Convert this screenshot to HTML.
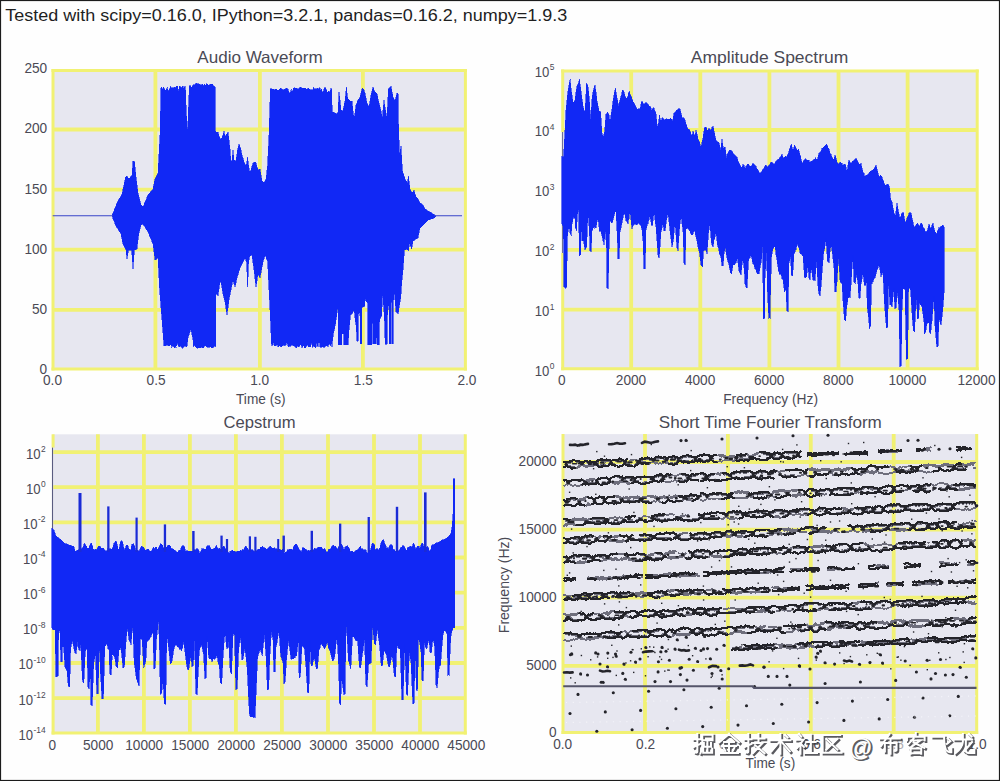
<!DOCTYPE html>
<html><head><meta charset="utf-8"><title>Audio analysis</title>
<style>
html,body{margin:0;padding:0;background:#fff;}
body{width:1000px;height:781px;overflow:hidden;font-family:"Liberation Sans",sans-serif;}
svg{display:block;font-family:"Liberation Sans",sans-serif;}
</style></head><body>
<svg width="1000" height="781" viewBox="0 0 1000 781">
<rect x="0" y="0" width="1000" height="781" fill="#fefefe"/>
<!-- Audio Waveform -->
<g><rect x="53" y="70.6" width="412.4" height="298.3" fill="#E7E7F0"/><g stroke="#F1F173"><line x1="155.4" y1="70.6" x2="155.4" y2="368.9" stroke-width="3.8"/><line x1="259.9" y1="70.6" x2="259.9" y2="368.9" stroke-width="3.8"/><line x1="362.9" y1="70.6" x2="362.9" y2="368.9" stroke-width="3.8"/><line x1="53" y1="129.5" x2="465.4" y2="129.5" stroke-width="3.8"/><line x1="53" y1="189.6" x2="465.4" y2="189.6" stroke-width="3.8"/><line x1="53" y1="249.7" x2="465.4" y2="249.7" stroke-width="3.8"/><line x1="53" y1="309.9" x2="465.4" y2="309.9" stroke-width="3.8"/><line x1="53" y1="69.1" x2="53" y2="370.4" stroke-width="3.0"/><line x1="465.4" y1="69.1" x2="465.4" y2="370.4" stroke-width="3.0"/><line x1="51.5" y1="368.9" x2="466.9" y2="368.9" stroke-width="3.0"/><line x1="51.5" y1="70.6" x2="466.9" y2="70.6" stroke-width="3.0"/></g><polygon points="112,215.6 117,203 122,194 125.6,177 127,176 129,179 132,175 133,161 134.4,161 136,177 138,193 141,205 143,207 148,195 153,189 155,179 158,173 160,135 161,88 161.8,87 162.9,90.6 163.6,86.6 164.6,89.5 165.8,90.4 167.1,87.4 168.3,90.9 169.1,91 169.9,87.8 170.9,86.3 171.6,87.9 172.5,87.6 173.5,88 174.6,87.4 175.7,87.7 176.5,86.1 177.5,86.1 178.5,91.2 179.5,86.4 180.6,87.1 181.6,88 182.6,85.6 183.7,88 184.9,86.3 185.2,86.6 185.4,87 186,105 187.1,129 187.7,129 188.6,105 189.4,86 190,85 190.8,86.8 191.6,87.4 192.4,85.7 193.2,84.8 194.4,85.5 195.3,84 196.5,83.4 197.3,83.5 198.3,83.5 199,83.7 199,84 199.8,84.6 200.8,84.6 201.5,85 202.8,84.1 203.7,86.5 204.4,83.7 205.4,85.3 206.1,83.5 207.3,83.9 208.2,84.6 209,86.3 209.9,84 210.7,84.6 211.9,84.1 213.2,84.5 214.2,90.1 214.6,85.6 215,87 215.4,131 216,132 218,132 220,139 222,138 224,131 225,137 228,132 229,140 230,149 231,163 232,160 233,150 234,160 236,161 237.5,150 239,144 240.5,148 242,155 245,165 246.5,164 247.6,157 248.6,166 250,173 251.5,168 253,163 255.6,162 258,170 260,169 262,181 264,183 266,179 267.6,165 269,135 270.4,89 271.2,88.4 272.1,89.7 273.1,88.5 274,90.2 275.2,89.7 276.3,88.9 277.2,90 278.1,90.1 279.1,90.1 280.3,88.1 281.2,88.1 282.2,89.7 283.2,89.6 284,89.8 285.2,88.7 286,88.3 287.1,88.5 288.1,89.3 288.9,92 290.1,94 291.2,88.8 291.9,93.3 293,88.5 294.2,87.9 295,87.9 296.1,88.4 296.9,88.2 297.8,89.6 298.8,88.5 299.8,87.3 300.8,87.2 302,88.4 303.1,88 304.1,89.2 304.9,87.8 305.7,88.4 306.8,89.5 307.7,88.4 308.7,88.2 309.8,89.5 310.9,89.5 311.7,89.5 312.9,90.1 313.7,87.2 314.8,89.3 315.6,88.7 316.4,89.5 317.2,88 318.2,89.1 319,88.2 319.9,87.7 321,91.1 321.7,88.5 322.7,93.3 324,89.1 325.2,87.1 326.1,88.9 327,92.4 328.1,90.5 329.1,92.6 330.3,90.6 331,88 331.6,89 332.2,112 335,113 337,114 338,112 339,92 340,100 341,110 343,111 345,101 346.4,87 347.2,95 348,99 350,101 352,101 354,120 356,105 358,100 360,97 362.4,88 364,90 365,93 367,103 369,107 371,95 373,87 375,92 377,94 379,103 381,111 382.4,118 383.2,108 384,100 384.8,106 385.6,111 387,118 388.4,89 391,86 393,97 395,101 397,93 398,94 398.6,129 399.6,155 401,146 402.4,171 405,179 407.6,183 408.4,176 410,189 412,193 414,190 416,197 418,199 420,203 423,205 425,209 430,212 435,215.2 436,216.2 434,218 428,220 424,224 420,228 418,238 413,241 411.6,249 409.6,243 408.4,251 407,249 404.4,250 403,270 401.8,281.5 400.6,298.8 399.5,304.6 398.3,313.8 396,311.5 395,300 394.3,291.9 393.5,300 393.4,343.7 391.7,343.7 391.6,302.3 391,302.3 390.9,343.7 389.5,343.7 389.4,305 389.1,298.2 388.6,305 387.5,314.9 387.4,344.3 385.1,344.3 384.9,330 384.5,320.7 383.9,310.3 383.2,300 382.6,294.8 381.6,316.1 379.9,319.5 379.1,325 379,344.9 377.3,344.9 377.2,338 376.5,338 376.4,343.7 373,343.7 372.9,323 371.9,323 371.8,344.9 367.8,344.9 367.7,303.4 365.9,301 365.3,298.2 364.5,306 361.8,308 361.7,343.7 360.3,343.7 360.2,316.1 359.2,311.5 358.1,316.1 358,341.4 356.9,341.4 356.3,327.6 355.1,318.4 354,309.2 352.3,313.8 350.5,314.9 348.8,332.2 348.2,344.9 344,344.9 343.9,333.9 342,333.9 341.9,344.9 338.4,344.9 338.2,309.2 337.3,309.2 336.7,316.1 335.6,323 334.4,329.9 333.2,334.5 332.1,344.9 332,346.5 331.3,343.1 330.2,345.9 329.2,342.4 328,347 327.3,346.2 326,345.3 325,346.7 323.9,347.4 322.8,346.9 322,346.3 320.8,347.8 320,347 319,339 318,347 317.5,345.7 316.5,343.3 315.8,347.9 314.5,346.8 313.6,346.3 312.4,347.2 311.7,341.9 310.8,346.5 309.8,346.6 308.6,347 307.7,344.6 306.9,345.8 305.6,347.8 304.6,347.8 303.8,345.8 302.8,346.2 301.9,347.9 301.1,344 299.8,345.4 298.7,347.2 297.6,345.4 296.5,347.7 295.5,347.3 294.2,346.2 293.2,345.9 291.9,345 291.2,345.8 290.3,346.6 289.3,346.1 288.1,346.9 287.3,343 286.1,343.5 285.2,346.2 284.5,345 283.3,345.6 282.1,346.2 281.3,347.4 280.5,346.4 279.2,345.4 278.3,347.4 277.3,344.9 276,345.3 275.2,346 274.2,345.5 273.1,341.9 272.4,346.2 271.6,346 270,310 269,290 267.6,261 265,255 263,262 260,278 258,274 256,287 254,270 252,255 249.6,256 248.6,262 247.6,287 246.6,262 245,258 243,262 240,268 237,278 235,287 233,280 231,290 229,300 227,315 225,302 223,294 221,282 220,282 218,296 216,294 215.6,347 215.2,343.8 214.1,347.3 213,346.9 212,348.2 211.2,347.6 210.4,346.4 209.7,347.4 208.7,347.6 208,347 206.9,347.3 205.7,346 204.9,345.8 203.8,347.5 202.8,347.8 201.6,347 200.8,347.8 199.7,348 199,347.4 198.2,348.3 197.3,348 196.2,347.7 195.1,346.3 194.4,345.1 193.6,347 193,340 191,329 188,338 187,346 186.4,347 185.7,345.7 184.9,346.9 184,345.6 183.1,348.1 182.1,348 181.2,346.6 180.2,346.2 179.4,347.1 178.2,345.6 177.3,341.8 176.6,346.2 175.5,347.1 174.6,347.7 173.6,346.1 172.6,346.2 171.8,347.5 171,343.8 170.2,345 169.4,346.2 168.2,345.7 167.4,345 166.6,345.4 165.8,345.5 164.8,345.6 164,346 162,320 159.6,290 158,258 155,260 153,244 148,232 143,224 141,225 138.4,236 137,249 134.4,250 133,269 131.6,250 128.4,250 127,259 126,250 123,244 121,234 116,226 112,216" fill="#1128F5" stroke="#1128F5" stroke-width="0.6" stroke-miterlimit="2" shape-rendering="crispEdges"/><path d="M52.7 215.8H113M434 215.8H462" stroke="#3a46c8" stroke-width="1.1" fill="none"/></g>
<!-- Amplitude Spectrum -->
<g><rect x="562.7" y="71" width="414.5" height="297.7" fill="#E7E7F0"/><g stroke="#F1F173"><line x1="631.2" y1="71" x2="631.2" y2="368.7" stroke-width="3.8"/><line x1="700.3" y1="71" x2="700.3" y2="368.7" stroke-width="3.8"/><line x1="769.4" y1="71" x2="769.4" y2="368.7" stroke-width="3.8"/><line x1="838.5" y1="71" x2="838.5" y2="368.7" stroke-width="3.8"/><line x1="907.6" y1="71" x2="907.6" y2="368.7" stroke-width="3.8"/><line x1="562.7" y1="130" x2="977.2" y2="130" stroke-width="3.8"/><line x1="562.7" y1="189.9" x2="977.2" y2="189.9" stroke-width="3.8"/><line x1="562.7" y1="249.8" x2="977.2" y2="249.8" stroke-width="3.8"/><line x1="562.7" y1="309.7" x2="977.2" y2="309.7" stroke-width="3.8"/><line x1="562.7" y1="69.5" x2="562.7" y2="370.2" stroke-width="3.0"/><line x1="977.2" y1="69.5" x2="977.2" y2="370.2" stroke-width="3.0"/><line x1="561.2" y1="368.7" x2="978.7" y2="368.7" stroke-width="3.0"/><line x1="561.2" y1="71" x2="978.7" y2="71" stroke-width="3.0"/></g><rect x="560.6" y="132" width="1.5" height="121" fill="#fefefe"/><rect x="562.1" y="132" width="2.6" height="121" fill="#E7E7F0"/><path d="M562.5 132V253" stroke="#6f7196" stroke-width="1.2" fill="none"/><polygon points="561.9,156.3 563.6,156.9 564.8,133.4 566,110.4 567,99.9 568,91.1 569,85 570,78.5 571.4,90.9 573,103 574,101.9 575,99.8 576,92.4 577,86.4 578.2,84 579.4,79.3 581,90.9 582,98.6 583,105.8 584,109.9 585,112.3 586.6,82.7 588,86.6 589.4,100 590.6,120.3 592,99.1 593,92 594,87.8 595,85 596,92.1 597,100.6 598.6,108.5 599.6,111.6 600.6,112 602,133.2 603,137.3 604.6,131.8 606,114.4 607.4,112.1 609,115.2 610,122.7 611,114.8 612,109.1 613,101.1 614,94.9 615.4,87.9 617,97.7 618.6,106 619.6,101.9 620.6,97.6 621.6,94.2 622.6,90 624,91.6 625.4,97.2 626.4,98.5 627.4,97.6 629,90.5 630,94.2 631,95.7 632,98.7 633,101.6 634,103.2 635,104.8 636,107 637,108.6 638,110.1 639,108.1 640,110.1 641,104.3 642,100.7 643,103.3 644,104.8 645,103.3 646,101.9 647,103.4 648,103.7 649,106.5 650,106.3 651,108.2 652,111 653,107.9 654,107.8 655,111.2 656,113.6 657,123.9 658,127.9 659.4,115 661,122 662,118.4 663,117.6 664,119.5 665,119.6 666,118.5 667,119.1 668,119.3 669,119.4 670.6,117.5 671.6,119.1 672.6,121.5 674,112.8 675,112.6 676,111 677,109.8 678,110.1 679,108.4 680,109.4 681,112.9 682,117.1 683,118.1 684,117.7 685,120.4 686,123.8 687,126.5 688,130 689,128.7 690,130.7 691,133.6 692,136.8 693,130.7 694,133.8 695,136.6 696,129.6 697,133.7 698,138.7 699,140.5 700,144.3 701,147.6 702,142.4 703,138 704.6,126.9 706,127.1 707.4,130.6 709,128.2 710,128.9 711,130.2 712,127.4 713,126 714,130.5 715,136 716,139.5 717,141.9 718,141.9 719,142.8 720.6,150.3 722,139.4 723.4,148.6 725,146.8 726.6,158.4 727.6,153.6 728.6,151.8 729.8,150 731,150.2 732,151.2 733,153.6 734,153.8 735,155.4 736,156.4 737,157.2 738,161.4 739,163.2 740,165.1 741,167.8 742,167.2 743,164 744,165.4 745,168.7 746,166.4 747,165.2 748,163.7 749,165.3 750,166.8 751,166.2 752,165.7 753,162.9 754,164.5 755,165.1 756,166.3 757,169.1 758,169.9 759,172.4 760,172.7 761,172.9 762,170.9 763,169.4 764,168.2 765,166.1 766,164.7 767,166.6 768,167.3 769,165 770,164 771,162.1 772,162.6 773,163.1 774,164.2 775,163.4 776,161.3 777,159.8 778,159.6 779,159.4 780,157.2 781,156 782,154.3 783,157.2 784,158.1 785,156.6 786,156.4 787,156.7 788,154.1 789,151.3 790.2,147 791.4,144.2 793,150.5 794.6,144.8 795.6,147 796.6,149.5 797.6,150.6 798.6,148.5 799.6,153.2 800.6,156.7 802,163.8 803,162.4 804,160.2 805,159 806,158.9 807,160.5 808,160 809,160.1 810,163 811,161.2 812,161.4 813,159.8 814.2,159.9 815.4,157.9 816.4,158.7 817.4,159.8 819,153.1 820,152 821,151.3 822,148 823,148.3 824,146.7 825,146 826.6,144.2 827.8,146.5 829,149.1 830,153 831,154.1 832,157 833,159.7 834,158.6 835,155.3 836,157.6 837,162.1 838,163.6 839,164 840,161.9 841,163 842,163.2 843,166 844,164.3 845,163.8 846,166.7 847,172.7 848,165.3 849,159.8 850,162.3 851,163.8 852,161.7 853,161.3 854,160.4 855,159.4 856,157.7 857,159.6 858,162.4 859,163.9 860,164.6 861,162.9 862,168.1 863,172.6 864,173.4 865,177.8 866,175.1 867,175.2 868,174.1 869,173.3 870,171.5 871,170.8 872,170.5 873,169.5 874,169.4 875,166.9 876,164.9 877.4,170.9 878.4,174.8 879.4,177 880.4,175.4 881.4,175.6 882.4,178.7 883.4,180.9 885,185.2 886,185.6 887,184.4 888,184.1 889.4,186.8 890.6,199 892,201.9 893,208 894,212.9 895.4,216.3 897,203 898.6,212.6 900,218.7 901,216 902,212.9 903.4,212 905,221.7 906,221.6 907,218.1 908,216.4 909,213.2 910,212.6 911,212.8 912.6,220.3 913.6,225.2 914.6,227 915.6,226.1 916.6,224 917.8,223.2 919,225.7 920,225.7 921,223.3 922,223.6 923,227.1 924,228.2 925.3,231.5 926.6,231.5 927.8,229.3 929,224.1 930,226.5 931,229 932,225.3 933,223.4 934,228 935,231.6 936.6,233.9 937.8,230.7 939,227.2 940,228 941,226.4 942,225.9 943,224.7 944,226.7 944,293.4 943,307 942,316.7 941,325.1 940,322.2 939,317.7 938,346.1 936.8,347.4 935,325.9 934,295.9 933,309.1 932,319.5 930.6,333.5 929.4,332 929,322.6 928,323.4 927,322.5 925.6,332 924.4,334.4 924,321.6 923,313.7 922,307.4 920.7,304.9 919.4,302.8 918.6,318.2 917.4,319.4 916.6,298.7 915.4,311.9 914.6,331.7 913.4,330.7 912,313.4 910.6,290.4 909.6,287.9 908.6,285.5 907.6,358.6 906.4,359.1 905,289.6 904,288.9 903,288.2 902,309.7 901.2,366.1 900,366.7 899,309.8 897.4,291.2 896,307.8 894.8,309.3 894,287.8 893,296.7 892,307.3 891,304.9 890,304.9 888.6,282.4 887.6,327 886.4,327.6 884.6,305.9 883,272.7 882,273.5 881,276.6 880,270.1 879,263.7 878,268.4 877,270 876,273.8 875,277.7 874,278.9 873,280.5 871.4,284.6 870.6,325.7 869.4,328.5 868.4,315.7 867.4,307.7 866,269.5 865.6,285 864.4,285.4 863,271.9 862,279.1 861,284.4 860,298.2 858.8,297.9 858,283.9 856.6,274.1 855.2,283.7 854,282.4 853,255 852,269.2 851,285.2 850,297.9 849,296.8 848,298.3 846.6,307.9 845.6,320.8 844.4,319.9 843.4,305.8 842,283.5 841,283.1 840,279.9 838.6,257.4 837,280.5 836,291.5 834.8,291.8 834,267.8 832.6,255.1 831,243.9 830,252.1 829,263.2 827.4,260.6 826,238 825,246.3 823.4,254.2 822.4,268.1 821.4,281.5 820,296.2 818.8,293.7 818,286.2 816.6,260.7 815,280.7 814,280 813,280.4 812,273.4 811,265.6 810,279.9 808.8,277.7 808,263.4 806.6,276.8 805.6,277.5 804.6,277.6 803,256.1 801.4,254.3 800.2,253.4 799,248.2 797.4,244.1 796,248.5 795,252 794,254 792.6,275.9 791.4,275 790.6,257 789,263.4 788,311.5 786.8,310.8 786,288 784.6,292.4 783,279.9 782,279 781,273.7 779.8,274.7 778.6,271.1 777.6,264.6 776.6,257.7 775,246.5 774,248.4 773,247.8 771.4,257.7 770,317.5 768.8,319.4 767.4,290.1 766.6,251 765,276.5 764.6,318.4 763.4,318.6 762.6,245.7 761.4,260.3 760.2,267.2 759,273.5 758,274.3 757,273.4 756,270.1 755,268.8 754,265.2 753,263.7 752,259.3 751,255.4 749.8,258 748.6,259.4 747,288 746,287.1 745,283.5 744.6,274.8 743,257.1 742,264.7 741,275.4 740,273.3 739,271.2 737.4,257.6 736.2,262.3 735,264 734,265 733,264.6 731.6,274.3 730.4,272.6 729,264.8 728,261.6 727,258.4 725.4,247.6 724,252.5 723.2,265.5 722,265.9 721,257.5 719.4,253.4 718.4,247.7 717.4,244.5 716,230.9 715,237.3 714,240.1 713,247.4 711.4,243.1 710,223.4 708.6,232.2 707,253.7 706,250.8 705,250.1 703.4,250.6 702.6,267.1 701.4,265.9 700.4,260.5 699.4,252.5 698,246.6 697,241.4 696,237.3 695,232.2 694,229.5 693,234.2 692,235.4 691,233.8 690,231.4 689,230.3 688,228.2 687,228.7 686,228.4 685.2,265.2 684,263.1 683,231.5 682,223.5 681,215.2 679.4,230.1 678,250.9 677,247.8 676,235.2 675,221.3 673.4,240.7 672,247.1 671,238.6 670,230.8 669,221.5 668,212.5 666.6,219.1 665.2,230.7 664,231.1 663,221.8 662,227.8 661,231.9 660,246.8 659.2,258.1 658,255.4 657.4,246.7 656,226.9 655,220.2 654,210.6 652.6,225.4 651.4,225.4 650,215 649,220 648,222.5 647,226 646,230.3 645.2,269 644,268.9 643,241.4 642,230.2 641,225.4 640,224.9 639,222.9 638,223.8 637,224.7 636,224.8 635,222.9 634,225.3 633,225.2 632,228.7 631,220.4 630,209.8 629,217.5 628,223.5 627,222.2 626,220.5 625,215.4 624,213.2 623,217.7 622,222.9 621,228.2 620,232.4 619.2,258.7 618,258.9 617.4,239.2 616,211.4 615,211.8 614,215.9 613,220.4 612,223.1 611,222.3 610,220.3 609,249.1 608.2,288.5 607,287.7 606.6,249.5 605.4,230.4 604,244.5 603,240.5 601.4,233.1 600.4,230.8 599.4,231.3 598,217 597,222.3 596,228.4 595,227.4 594,227.5 593,228.9 592,231.4 591.2,251.5 590,251.3 589.4,231.5 588,210.4 586.6,247.2 585,250 583.4,240.6 582,240.8 581,223 580.6,254.8 579.4,255.8 578.6,209.6 577.4,214.2 576.6,230.6 575.4,228.2 575,219 573.4,216.7 572,224.4 571.2,235.6 570,232.7 569,226.2 567.4,236.3 566.6,287.2 565.3,288.2 564,286.6 563.7,250.4 563.3,226.1 561.9,223.8" fill="#1128F5" stroke="#1128F5" stroke-width="0.6" stroke-miterlimit="2" shape-rendering="crispEdges"/></g>
<!-- Cepstrum -->
<g><rect x="53.1" y="434.3" width="412.2" height="298.8" fill="#E7E7F0"/><g stroke="#F1F173"><line x1="97.9" y1="434.3" x2="97.9" y2="733.1" stroke-width="3.8"/><line x1="143.9" y1="434.3" x2="143.9" y2="733.1" stroke-width="3.8"/><line x1="189.9" y1="434.3" x2="189.9" y2="733.1" stroke-width="3.8"/><line x1="235.9" y1="434.3" x2="235.9" y2="733.1" stroke-width="3.8"/><line x1="281.9" y1="434.3" x2="281.9" y2="733.1" stroke-width="3.8"/><line x1="328" y1="434.3" x2="328" y2="733.1" stroke-width="3.8"/><line x1="374" y1="434.3" x2="374" y2="733.1" stroke-width="3.8"/><line x1="420" y1="434.3" x2="420" y2="733.1" stroke-width="3.8"/><line x1="53.1" y1="452.1" x2="465.3" y2="452.1" stroke-width="3.8"/><line x1="53.1" y1="487.2" x2="465.3" y2="487.2" stroke-width="3.8"/><line x1="53.1" y1="522.4" x2="465.3" y2="522.4" stroke-width="3.8"/><line x1="53.1" y1="557.5" x2="465.3" y2="557.5" stroke-width="3.8"/><line x1="53.1" y1="592.7" x2="465.3" y2="592.7" stroke-width="3.8"/><line x1="53.1" y1="627.8" x2="465.3" y2="627.8" stroke-width="3.8"/><line x1="53.1" y1="663" x2="465.3" y2="663" stroke-width="3.8"/><line x1="53.1" y1="698.1" x2="465.3" y2="698.1" stroke-width="3.8"/><line x1="53.1" y1="434.3" x2="53.1" y2="734.6" stroke-width="3.0"/><line x1="465.3" y1="434.3" x2="465.3" y2="734.6" stroke-width="3.0"/><line x1="51.6" y1="733.1" x2="466.8" y2="733.1" stroke-width="3.0"/></g><rect x="51" y="447.6" width="1.2" height="181" fill="#fefefe"/><rect x="52.2" y="447.6" width="2.8" height="181" fill="#E7E7F0"/><path d="M53.3 452.1H56M53.3 487.2H56M53.3 522.4H56" stroke="#F1F173" stroke-width="3.8"/><path d="M52.5 447.6V530" stroke="#5a5c80" stroke-width="1.1" fill="none"/><polygon points="51.9,528 54,530 56,536 60,539 64,543 69,545 74,546.5 75,551.5 76,550.6 77.1,550.4 78.2,550.2 79.3,549 80.5,549.3 81.2,549 82.1,548.2 83,547.5 84,544.3 84.9,543.4 85.9,545.5 86.9,546.5 88,548.8 88.8,548.3 89.9,545.5 90.9,542.9 91.9,543.5 93.1,549.1 94.1,550.1 95.2,549.3 96.1,549.4 96.8,549.7 97.7,547.9 98.5,546.3 99.4,546.4 100.1,545.8 101.2,548 102,548.1 103,548.3 104,548.7 104.9,551.1 106,550.5 107.1,551.2 108.2,547.8 109.3,549.1 110,547.8 111.2,549.5 112,548.5 112.8,548.3 113.9,543.4 114.7,542.9 115.8,540.9 116.9,543.4 118,548.8 119.1,550 120.3,541.9 121.3,540.9 122.4,541.4 123.5,546.6 124.4,549.8 125.1,550.3 125.9,546.6 126.6,545.1 127.6,545.4 128.7,548.2 129.8,549.8 130.8,550.2 131.9,544.2 132.8,544 133.6,543.6 134.6,545.9 135.6,550.5 136.8,549.8 138,550.3 138.9,551.2 139.6,550.8 140.6,547.2 141.8,546.2 142.7,546.7 143.8,547.6 144.7,549.5 145.7,550.2 146.5,550 147.4,549 148.3,549 149.4,551.3 150.5,551 151.4,550.7 152.4,549.7 153.5,547.1 154.5,549 155.5,547.2 156.4,547.2 157.2,549.4 158.2,548.9 159.3,546 160.3,543.9 161.3,544 162.3,544.7 163.1,546.8 164,550.2 164.8,549 165.5,550.3 166.6,546.5 167.5,545.7 168.6,544.8 169.4,544.5 170.4,545.8 171.3,548.9 172.4,548.6 173.4,548.5 174.2,550.2 175.2,550.5 176.1,550.7 177,552.6 178.2,552.3 179.1,549.7 179.8,550.4 180.7,549.4 181.4,547 182.4,545.8 183.6,545.7 184.7,547.8 185.4,551.4 186.3,551.5 187,550 188.1,551.5 189.3,551.4 190,551.1 191.1,551.4 192.2,551.4 193.4,550.6 194.1,548.9 195.1,550.4 195.9,549.1 196.9,548.5 198.1,549 198.8,550.3 199.8,553.8 200.8,551.8 201.9,548.4 202.9,549 203.9,548.5 204.9,549.9 206,548.6 206.9,545.5 208.1,545.8 209.2,545.1 210.2,547.7 211.3,549.5 212.2,549.1 213.3,549 214.3,548.3 215.5,547.2 216.3,545.3 217.2,546.9 218.2,549.4 219.3,547.6 220.4,549.3 221.6,548.8 222.4,547.6 223.5,546.4 224.7,546.6 225.4,549.2 226.5,548.6 227.6,551.3 228.4,552.9 229.4,552.8 230.2,551 231.3,551.1 232.2,549.7 233.3,551.4 234.2,551.1 235.3,551.8 236.3,551.6 237.3,551.3 238.1,551.3 239.1,551.5 240.1,550.9 241,549.6 241.8,551.4 242.7,549.3 243.7,550.6 244.4,548 245.3,546.8 246,545.6 247.2,548 248.2,549.4 249,550.3 249.9,550.7 251,550.5 252.2,549.3 252.9,550.5 253.7,551 254.4,552.1 255.5,550 256.7,550.9 257.5,550.1 258.4,549 259.5,549.1 260.5,547.5 261.7,546.4 262.6,546 263.4,547.8 264.6,548 265.3,548 266.2,549.2 267.3,548.8 268,548.1 269.1,547.4 270.3,546 271.1,547.7 272.2,548.1 273.1,548.7 274.2,547.8 275,548.3 275.8,549 276.6,548.7 277.3,549.8 278,550 278.8,548.7 280,549.3 281.2,550.9 282.3,549.3 283.2,550.1 284.4,553.1 285.4,552.3 286.3,552.4 287.2,550.3 288,549.3 288.7,550.3 289.7,549 290.8,549.3 291.7,549 292.6,550.5 293.4,546.8 294.4,545.4 295.5,544.2 296.7,544.1 297.9,546.7 298.7,548.2 299.5,550.1 300.3,550.4 301.5,551.9 302.7,547.1 303.5,547.9 304.3,547.5 305.1,548.7 305.8,549.7 306.7,549.7 307.4,551.1 308.3,549.5 309.3,550.8 310.1,549.9 310.8,550.5 311.9,552.5 312.7,550.8 313.5,550.4 314.4,548.2 315.2,548.9 316.3,549.2 317.3,547.7 318,547.9 318.9,547.2 319.6,547.2 320.5,547.3 321.6,547.1 322.3,548.9 323.3,549.8 324.1,548.4 325.2,549 326,551.6 327,551.5 328,551.8 328.9,548.5 330,550 331.1,547.8 332.2,546.2 333.2,544.7 334.4,546.6 335.3,546 336.3,547 337,549.2 337.8,548.2 338.6,547.1 339.7,544.2 340.4,545.1 341.2,543.5 342.2,545.4 343.2,547.8 343.9,550.7 345,546.8 345.8,546.6 346.7,545.5 347.5,545.8 348.2,546.8 349.4,548.5 350.4,551.6 351.1,551.8 352.3,550.8 353.2,552.6 354.2,551.8 355.3,551.8 356.2,550 357.1,550.2 358.3,548.9 359.4,547.2 360.6,545.5 361.5,548.5 362.7,548.9 363.6,549.7 364.5,549.5 365.2,549.2 366.2,550.8 366.9,553.4 368,552.4 369,550.3 370.2,550.5 370.9,548.6 371.7,544.9 372.6,543.2 373.7,543.6 374.6,545.5 375.5,550.5 376.3,548.9 377.3,548.4 378.3,550 379.3,548.3 380.2,547.3 381,542.7 381.8,541 382.7,540.2 383.5,539.8 384.5,542.6 385.5,545.4 386.5,547.6 387.5,548.3 388.5,548.8 389.5,545.9 390.3,544.6 391.2,544.8 392.2,544.8 393.1,549.5 393.9,549.9 394.9,549.5 396.1,551.5 397.1,551.6 397.9,552.9 398.8,549.5 399.7,550.3 400.8,546.8 401.6,547.5 402.6,545.3 403.5,545.7 404.6,546.9 405.7,549.1 406.6,550.5 407.7,547.9 408.6,546.7 409.7,546.5 410.5,546.4 411.2,546.5 412.2,547.1 413.3,543.4 414.2,543.8 415.4,548.6 416.3,548.1 417.2,546.8 418,545.8 419,546.4 419.9,549.4 421,544.8 421.9,543.3 422.8,543.6 423.8,547.3 424.5,550.8 425.4,548.5 426.5,547.5 427.3,546.3 428.5,548 429.2,550.7 430.1,551.9 431.8,544.5 434,544.6 436,543 439,542.4 441.4,540.4 445,539 448.6,536.8 451,533 452.2,526 453,514 453.3,478.7 454.6,478.7 454.6,627.6 453,628 451.9,631.5 450.8,635.8 449.1,674.5 447.9,676.1 447,633.6 446,632.1 445,630 443.9,631.6 442.8,635.8 441.6,651.4 440.5,665.1 439.6,665.5 438.7,669.8 437.2,687.5 436,684.5 434.7,647 433,638 431.4,652.6 430.2,652.9 429,638.5 427.9,643 426.7,649.2 425.5,647.2 424.4,642.8 423.2,680.9 422,680.3 421,652.1 419.8,643.9 418.6,635 417.6,688.5 416.4,690.7 415.2,650.2 414,703.4 412.8,703.8 411,662.5 409.4,652 407.6,695.1 406.4,694.4 404.8,643.4 403.1,699.5 401.9,700.2 400.2,648.3 399.1,649.4 397.9,646.5 396.8,645.6 395.6,677.3 394.4,675.8 393.3,665.5 392.2,654.2 391.3,658.1 390.4,663.3 389.4,667.3 388.2,665.6 386.4,654.4 385.2,651.9 384,650.3 382.4,666.3 381.2,665.4 379.5,645.2 378.4,636.9 377.3,628 375.6,645.1 374.4,643.8 372.6,625.8 371,662.9 369.9,663.8 368.7,663 367,686.8 365.8,684.9 364.6,639.3 363.5,646.5 362.3,654.8 360.6,668.4 359.4,666.5 357.7,641.3 356.5,640.6 355.4,640 354.5,638.2 353.5,636.6 352.6,635.8 351.7,650.9 350.8,669.1 349.6,663.7 348.5,661.3 347.4,642.3 346.2,621.4 345,693.7 343.8,694.6 342.7,684.8 341.6,678.7 340.6,704.7 339.4,702.6 338.8,669.9 337.9,651.7 337,636 335.9,645.2 334.7,656.6 333.5,660.2 332.4,660.6 331.2,655.7 330,651.4 328.6,648.2 327.3,642.2 326.3,645.1 325.3,648.1 324.3,649.2 323.2,646.4 322.1,645.4 321,642.7 320,647.6 319,649.6 317.4,669.4 316.2,668.4 315.1,661.9 314,657.1 312.3,666.1 311.1,665.8 310,640.4 308.8,692.9 307.6,692.9 306,667.3 304.3,646.7 303.1,647.2 302,644.8 300.3,677 299.1,678.4 298.4,636.4 296.7,656 295.5,655.5 294.4,658.1 293.3,658.7 292.1,658.8 291,659.4 289.9,649.9 288.7,639.5 287.5,649.1 286.4,661.3 285.2,681.7 284,683.9 283,663.1 281.9,659.3 280.7,656.2 279,630.7 278,636 277,643 276,646.9 275,671.7 273.8,671.9 273,640.1 271.4,631.4 269.8,657.5 268.6,689.3 267.4,689.9 266.2,658.6 264.5,635 263.4,644.2 262.3,656.1 261.1,651.8 260,649.4 258.8,653.7 257.6,656.9 256.3,687.5 255,717.5 254.1,716.7 253.2,717.8 252.3,716.3 251.4,717.1 250.5,717 249.6,715.9 248.4,695.1 247.3,670.1 245.6,653.3 244.5,649.2 243.1,659.4 241.8,660.1 240.7,636.9 239.6,642.1 238.6,650.6 237.2,688.9 235.8,689.9 234.4,630.7 233,635.7 231.5,673.9 230.2,671.6 228.7,640.2 228,647.6 226.7,648.7 225,631.1 224,643.1 223,657.6 221.7,684 220.3,682.8 219.3,665.9 218.2,662.9 217.2,656 216.1,656.5 215,659.4 214,658.5 213,659.8 212,661.5 210.9,658.9 209.9,658.7 208.8,658.2 207.9,646.9 207,636 206.3,677.3 205,678.7 203.5,653.5 202.5,648.5 201.5,644.7 200.4,647.2 199.3,650.1 198.3,671.1 197.2,694.7 195.9,693.9 194.5,641.4 193.2,666.1 191.9,666.6 191,655.7 189.8,662.1 188.7,669.9 187.3,669 185.7,657.8 184.6,648.8 183.6,641.2 182.6,647.4 181.5,651.2 180.4,649 179.4,649.3 178.3,646.7 177.1,646.7 176,644.3 174.8,646.4 173.5,650.9 172.6,657.7 171.7,662.4 170.3,664.1 169,651.3 167.9,641.5 166.8,634.9 165.7,704.4 164.3,703.8 163,679.1 161.7,693.2 160.3,694.2 159.4,642.7 158.4,619.7 157.4,630.8 156.3,641.5 155.2,668.2 153.9,669.2 153,632.4 152,634.4 151,635.5 150,637.6 148.9,640 147.9,640.1 146.8,642.8 145.8,661.5 144.8,663.7 143.7,667.9 142,638.3 140.5,639 139,686.1 137.7,682 136.3,678.8 135.2,669.8 134.2,662.8 132.8,625 131.9,634.4 131,644.7 130,641.7 129,639.5 127.3,627.1 125.8,644.4 124.4,667.3 123,668.2 122,658 121,647.1 120,649.5 119,650.3 117.5,668 116.1,666.4 115.2,659.8 114.3,656.2 113.2,654.5 112.2,655.5 111.2,675.3 109.8,674.2 109,650.4 108,648.5 107,643.6 105.9,645.3 104.8,646.4 103.4,698.7 102,698.8 100.6,675.6 99.2,644 98.2,693.9 96.8,693.5 95.4,652.3 93.7,664.2 92.2,705.5 90.9,705 90.1,650.6 89.4,689.2 88,686.8 87,648 85.3,651 83.8,683.4 82.4,679.5 80.7,641 80.2,650.9 78.9,650.1 77.5,641.5 76.1,654 74.8,652.9 73.5,646.1 72.3,640 70.6,649.4 69.7,687.1 68.3,686.2 67,671.2 66,668.7 65,666.6 63.9,651.3 62.8,638.1 62,661.5 60.8,662.3 60,629 58.6,634.3 58,676.2 57,676.3 56,677.2 55,630.1 54,629.4 52.9,630.2 51.9,628.1" fill="#1128F5" stroke="#1128F5" stroke-width="0.6" stroke-miterlimit="2" shape-rendering="crispEdges"/><g fill="#1a2bd6"><rect x="78.5" y="493" width="3" height="59"/><rect x="107.2" y="506.4" width="2.3" height="45.6"/><rect x="135.5" y="517.6" width="2.2" height="34.4"/><rect x="163.8" y="524.4" width="2.3" height="27.6"/><rect x="192.2" y="531" width="2.4" height="21"/><rect x="220.4" y="535.6" width="2.3" height="16.4"/><rect x="248.8" y="536.3" width="2.2" height="15.7"/><rect x="277.2" y="539" width="2" height="13"/><rect x="424" y="492.4" width="2.6" height="59.6"/><rect x="395.8" y="506.8" width="2.4" height="45.2"/><rect x="367.6" y="517" width="2.3" height="35"/><rect x="339" y="523.6" width="2.3" height="28.4"/><rect x="310.6" y="530.8" width="2.4" height="21.2"/><rect x="282.5" y="535.6" width="2.4" height="16.4"/><rect x="254.3" y="536.8" width="2.2" height="15.2"/><rect x="225.9" y="539" width="2.2" height="13"/></g></g>
<!-- STFT -->
<g><rect x="563" y="434.1" width="413.7" height="298.4" fill="#E7E7F0"/><g stroke="#F1F173"><line x1="645" y1="434.1" x2="645" y2="732.5" stroke-width="3.8"/><line x1="727.9" y1="434.1" x2="727.9" y2="732.5" stroke-width="3.8"/><line x1="810.8" y1="434.1" x2="810.8" y2="732.5" stroke-width="3.8"/><line x1="893.7" y1="434.1" x2="893.7" y2="732.5" stroke-width="3.8"/><line x1="563" y1="462" x2="976.7" y2="462" stroke-width="3.8"/><line x1="563" y1="529.7" x2="976.7" y2="529.7" stroke-width="3.8"/><line x1="563" y1="597.6" x2="976.7" y2="597.6" stroke-width="3.8"/><line x1="563" y1="665.8" x2="976.7" y2="665.8" stroke-width="3.8"/><line x1="563" y1="434.1" x2="563" y2="734" stroke-width="3.0"/><line x1="976.7" y1="434.1" x2="976.7" y2="734" stroke-width="3.0"/><line x1="561.5" y1="732.5" x2="978.2" y2="732.5" stroke-width="3.0"/></g><g fill="#24242a"><rect x="659.1" y="656.1" width="1.4" height="1.4"/><rect x="596.1" y="450.9" width="1.4" height="1.4"/><rect x="788.3" y="528.4" width="1.4" height="1.4"/><rect x="892.7" y="605.6" width="1.4" height="1.4"/><rect x="846" y="543.2" width="1.4" height="1.4"/><rect x="871.6" y="538.3" width="1.4" height="1.4"/><rect x="570.9" y="528.4" width="1.4" height="1.4"/><rect x="799.5" y="516.4" width="1.4" height="1.4"/><rect x="726.5" y="466" width="1.4" height="1.4"/><rect x="592.9" y="468" width="1.4" height="1.4"/><rect x="911" y="518.5" width="1.4" height="1.4"/><rect x="930.8" y="570.8" width="1.4" height="1.4"/><rect x="653.3" y="525.7" width="1.4" height="1.4"/><rect x="851" y="503" width="1.4" height="1.4"/><rect x="790.4" y="457.4" width="1.4" height="1.4"/><rect x="730.8" y="566.2" width="1.4" height="1.4"/><rect x="927.8" y="633" width="1.4" height="1.4"/><rect x="618.1" y="585.2" width="1.4" height="1.4"/><rect x="842.5" y="453.3" width="1.4" height="1.4"/><rect x="714.5" y="478.8" width="1.4" height="1.4"/><rect x="961.4" y="530.3" width="1.4" height="1.4"/><rect x="570.6" y="645.4" width="1.4" height="1.4"/><rect x="806.7" y="538.8" width="1.4" height="1.4"/><rect x="906.5" y="541.3" width="1.4" height="1.4"/><rect x="831.5" y="585.7" width="1.4" height="1.4"/><rect x="925.7" y="512.4" width="1.4" height="1.4"/><rect x="656.4" y="622.4" width="1.4" height="1.4"/><rect x="840.5" y="461.1" width="1.4" height="1.4"/><rect x="945.2" y="658.8" width="1.4" height="1.4"/><rect x="768.7" y="486" width="1.4" height="1.4"/><rect x="682.8" y="614.1" width="1.4" height="1.4"/><rect x="845.6" y="454.4" width="1.4" height="1.4"/><rect x="778.6" y="644.6" width="1.4" height="1.4"/><rect x="915.4" y="467.8" width="1.4" height="1.4"/><rect x="630.8" y="453.9" width="1.4" height="1.4"/><rect x="693.1" y="518.7" width="1.4" height="1.4"/><rect x="667.7" y="638.8" width="1.4" height="1.4"/><rect x="811.2" y="587.9" width="1.4" height="1.4"/><rect x="778.9" y="530.9" width="1.4" height="1.4"/><rect x="803.5" y="592.5" width="1.4" height="1.4"/><rect x="794.9" y="586.6" width="1.4" height="1.4"/><rect x="660.8" y="658.7" width="1.4" height="1.4"/><rect x="816.4" y="524.7" width="1.4" height="1.4"/><rect x="850.6" y="482.2" width="1.4" height="1.4"/><rect x="633.2" y="511.7" width="1.4" height="1.4"/><rect x="863" y="441.8" width="1.4" height="1.4"/><rect x="661" y="602.6" width="1.4" height="1.4"/><rect x="590" y="659.1" width="1.4" height="1.4"/><rect x="677.7" y="605" width="1.4" height="1.4"/><rect x="686.3" y="440.1" width="1.4" height="1.4"/><rect x="615" y="592.1" width="1.4" height="1.4"/><rect x="972.8" y="570.1" width="1.4" height="1.4"/><rect x="825.6" y="477.8" width="1.4" height="1.4"/><rect x="847.8" y="442.8" width="1.4" height="1.4"/><rect x="931" y="619.5" width="1.4" height="1.4"/><rect x="771.9" y="650.2" width="1.4" height="1.4"/><rect x="795.3" y="557.9" width="1.4" height="1.4"/><rect x="580.7" y="654.8" width="1.4" height="1.4"/><rect x="809.9" y="596.4" width="1.4" height="1.4"/><rect x="607" y="657.6" width="1.4" height="1.4"/><rect x="607.7" y="532.1" width="1.4" height="1.4"/><rect x="647.4" y="656" width="1.4" height="1.4"/><rect x="754.1" y="542.5" width="1.4" height="1.4"/><rect x="882.8" y="493.5" width="1.4" height="1.4"/><rect x="706.7" y="487" width="1.4" height="1.4"/><rect x="825" y="539.5" width="1.4" height="1.4"/><rect x="741.2" y="644.1" width="1.4" height="1.4"/><rect x="956.4" y="585.6" width="1.4" height="1.4"/><rect x="820" y="460" width="1.4" height="1.4"/><rect x="800.8" y="631" width="1.4" height="1.4"/><rect x="651.7" y="458.4" width="1.4" height="1.4"/><rect x="829.8" y="521.3" width="1.4" height="1.4"/><rect x="630" y="546.9" width="1.4" height="1.4"/><rect x="785" y="625" width="1.4" height="1.4"/><rect x="628.5" y="488.3" width="1.4" height="1.4"/><rect x="734.5" y="599.3" width="1.4" height="1.4"/><rect x="700.1" y="521.9" width="1.4" height="1.4"/><rect x="584.9" y="444" width="1.4" height="1.4"/><rect x="698.2" y="608.5" width="1.4" height="1.4"/><rect x="769.6" y="452.8" width="1.4" height="1.4"/><rect x="684.6" y="650.6" width="1.4" height="1.4"/><rect x="862.8" y="508.1" width="1.4" height="1.4"/><rect x="816.2" y="546.6" width="1.4" height="1.4"/><rect x="883.6" y="596.8" width="1.4" height="1.4"/><rect x="696.9" y="540.3" width="1.4" height="1.4"/><rect x="971.2" y="533.1" width="1.4" height="1.4"/><rect x="829.8" y="579.6" width="1.4" height="1.4"/><rect x="641.1" y="460.9" width="1.4" height="1.4"/><rect x="817.4" y="559.8" width="1.4" height="1.4"/><rect x="782.6" y="461.3" width="1.4" height="1.4"/><rect x="640.6" y="648.1" width="1.4" height="1.4"/><rect x="640" y="584.2" width="1.4" height="1.4"/><rect x="929.1" y="659.6" width="1.4" height="1.4"/><rect x="615.3" y="568.5" width="1.4" height="1.4"/><rect x="782.9" y="580.7" width="1.4" height="1.4"/><rect x="690" y="469.9" width="1.4" height="1.4"/><rect x="884.7" y="599.7" width="1.4" height="1.4"/><rect x="857.7" y="563" width="1.4" height="1.4"/><rect x="955.2" y="626.6" width="1.4" height="1.4"/><rect x="678.9" y="634.8" width="1.4" height="1.4"/><rect x="737.9" y="523.3" width="1.4" height="1.4"/><rect x="820.7" y="495" width="1.4" height="1.4"/><rect x="607" y="637.6" width="1.4" height="1.4"/><rect x="707.2" y="461.4" width="1.4" height="1.4"/><rect x="729.9" y="632.6" width="1.4" height="1.4"/><rect x="663.4" y="514.5" width="1.4" height="1.4"/><rect x="650.6" y="443.8" width="1.4" height="1.4"/><rect x="678.3" y="500.9" width="1.4" height="1.4"/><rect x="760.2" y="503.7" width="1.4" height="1.4"/><rect x="874.4" y="496" width="1.4" height="1.4"/><rect x="900.8" y="524.1" width="1.4" height="1.4"/><rect x="748.7" y="508.4" width="1.4" height="1.4"/><rect x="946.2" y="490.3" width="1.4" height="1.4"/><rect x="903.7" y="645.9" width="1.4" height="1.4"/><rect x="960.9" y="456.7" width="1.4" height="1.4"/><rect x="922.3" y="477.1" width="1.4" height="1.4"/><rect x="668.5" y="494.7" width="1.4" height="1.4"/><rect x="841.5" y="549.3" width="1.4" height="1.4"/><rect x="965.2" y="483.3" width="1.4" height="1.4"/><rect x="883.9" y="541.5" width="1.4" height="1.4"/><rect x="568.9" y="572.2" width="1.4" height="1.4"/><rect x="575.3" y="518.9" width="1.4" height="1.4"/><rect x="677.5" y="484.1" width="1.4" height="1.4"/><rect x="618" y="624.2" width="1.4" height="1.4"/><rect x="900.7" y="487.6" width="1.4" height="1.4"/><rect x="618.7" y="601.2" width="1.4" height="1.4"/><rect x="586.3" y="545.9" width="1.4" height="1.4"/><rect x="938.4" y="518.2" width="1.4" height="1.4"/><rect x="708.5" y="539.1" width="1.4" height="1.4"/><rect x="876.6" y="652.6" width="1.4" height="1.4"/><rect x="950.7" y="571.3" width="1.4" height="1.4"/><rect x="971.5" y="519.9" width="1.4" height="1.4"/><rect x="921.3" y="595.7" width="1.4" height="1.4"/><rect x="776.9" y="574.3" width="1.4" height="1.4"/><rect x="702.9" y="599.3" width="1.4" height="1.4"/><rect x="862.6" y="587.9" width="1.4" height="1.4"/><rect x="782.1" y="591.6" width="1.4" height="1.4"/><rect x="724.1" y="620.5" width="1.4" height="1.4"/><rect x="603.8" y="455.5" width="1.4" height="1.4"/><rect x="941.5" y="530" width="1.4" height="1.4"/><rect x="568.9" y="491.6" width="1.4" height="1.4"/><rect x="969.2" y="494.5" width="1.4" height="1.4"/><rect x="965.5" y="559.1" width="1.4" height="1.4"/><rect x="687.9" y="520.8" width="1.4" height="1.4"/><rect x="752.5" y="515.8" width="1.4" height="1.4"/><rect x="941.5" y="626" width="1.4" height="1.4"/><rect x="871.7" y="489.3" width="1.4" height="1.4"/><rect x="715.8" y="514.6" width="1.4" height="1.4"/><rect x="702.7" y="585.4" width="1.4" height="1.4"/><rect x="690.5" y="449.9" width="1.4" height="1.4"/><rect x="602.9" y="554.8" width="1.4" height="1.4"/><rect x="963.7" y="643" width="1.4" height="1.4"/><rect x="954.8" y="609.6" width="1.4" height="1.4"/><rect x="580.5" y="610.7" width="1.4" height="1.4"/><rect x="718.8" y="559.9" width="1.4" height="1.4"/><rect x="595.1" y="493.6" width="1.4" height="1.4"/><rect x="625.7" y="606.9" width="1.4" height="1.4"/><rect x="948.5" y="496.1" width="1.4" height="1.4"/><rect x="806.7" y="623.8" width="1.4" height="1.4"/><rect x="720.7" y="535.5" width="1.4" height="1.4"/><rect x="738.1" y="505.6" width="1.4" height="1.4"/><rect x="714.6" y="623.7" width="1.4" height="1.4"/><rect x="617.1" y="579.2" width="1.4" height="1.4"/><rect x="845.9" y="610.7" width="1.4" height="1.4"/><rect x="900.2" y="659.5" width="1.4" height="1.4"/><rect x="603.1" y="569.7" width="1.4" height="1.4"/><rect x="672.5" y="531" width="1.4" height="1.4"/><rect x="757.5" y="582.5" width="1.4" height="1.4"/><rect x="707" y="629.9" width="1.4" height="1.4"/><rect x="908" y="606.7" width="1.4" height="1.4"/><rect x="886.6" y="599.9" width="1.4" height="1.4"/><rect x="603.9" y="603.2" width="1.4" height="1.4"/><rect x="890.4" y="641.7" width="1.4" height="1.4"/><rect x="587.3" y="502.3" width="1.4" height="1.4"/><rect x="838.9" y="520.3" width="1.4" height="1.4"/><rect x="774.2" y="499.1" width="1.4" height="1.4"/><rect x="733.5" y="521.3" width="1.4" height="1.4"/><rect x="607.2" y="614.6" width="1.4" height="1.4"/><rect x="748" y="538.5" width="1.4" height="1.4"/><rect x="688.4" y="634.4" width="1.4" height="1.4"/><rect x="951.8" y="464.8" width="1.4" height="1.4"/><rect x="785.9" y="469.8" width="1.4" height="1.4"/><rect x="727.5" y="524.1" width="1.4" height="1.4"/><rect x="972.3" y="524.9" width="1.4" height="1.4"/><rect x="730.3" y="529.1" width="1.4" height="1.4"/><rect x="947.4" y="557.9" width="1.4" height="1.4"/><rect x="566.6" y="574.6" width="1.4" height="1.4"/><rect x="796.2" y="444.2" width="1.4" height="1.4"/><rect x="905.6" y="622.7" width="1.4" height="1.4"/><rect x="762.8" y="607" width="1.4" height="1.4"/><rect x="915.6" y="583" width="1.4" height="1.4"/><rect x="776.2" y="637.6" width="1.4" height="1.4"/><rect x="957.1" y="448.8" width="1.4" height="1.4"/><rect x="743.7" y="467" width="1.4" height="1.4"/><rect x="790.1" y="621.4" width="1.4" height="1.4"/><rect x="578.8" y="445.1" width="1.4" height="1.4"/><rect x="653.4" y="616.1" width="1.4" height="1.4"/><rect x="792.9" y="547.7" width="1.4" height="1.4"/><rect x="885.3" y="534.3" width="1.4" height="1.4"/><rect x="757.4" y="508.7" width="1.4" height="1.4"/><rect x="781.9" y="448.7" width="1.4" height="1.4"/><rect x="945.1" y="617" width="1.4" height="1.4"/><rect x="967" y="587.1" width="1.4" height="1.4"/><rect x="784.1" y="534.3" width="1.4" height="1.4"/><rect x="684.8" y="557" width="1.4" height="1.4"/><rect x="889.6" y="598.8" width="1.4" height="1.4"/><rect x="572.5" y="552.2" width="1.4" height="1.4"/><rect x="919.9" y="470.1" width="1.4" height="1.4"/><rect x="783.4" y="565.9" width="1.4" height="1.4"/><rect x="730" y="478.1" width="1.4" height="1.4"/><rect x="845.4" y="590.6" width="1.4" height="1.4"/><rect x="708.4" y="533.9" width="1.4" height="1.4"/><rect x="631.6" y="648.9" width="1.4" height="1.4"/><rect x="780" y="460.9" width="1.4" height="1.4"/><rect x="777.9" y="593.9" width="1.4" height="1.4"/><rect x="827.5" y="626.6" width="1.4" height="1.4"/><rect x="639.5" y="463" width="1.4" height="1.4"/><rect x="788.8" y="561.4" width="1.4" height="1.4"/><rect x="857.5" y="613.9" width="1.4" height="1.4"/><rect x="934.1" y="444.8" width="1.4" height="1.4"/><rect x="912.9" y="631.3" width="1.4" height="1.4"/><rect x="788.5" y="543.6" width="1.4" height="1.4"/><rect x="681.8" y="513.2" width="1.4" height="1.4"/><rect x="800.9" y="501" width="1.4" height="1.4"/><rect x="958.9" y="561.9" width="1.4" height="1.4"/><rect x="710.9" y="566.3" width="1.4" height="1.4"/><rect x="764.7" y="478" width="1.4" height="1.4"/><rect x="791.5" y="623.4" width="1.4" height="1.4"/><rect x="588.1" y="484.6" width="1.4" height="1.4"/><rect x="870.4" y="527.9" width="1.4" height="1.4"/><rect x="667.4" y="648.5" width="1.4" height="1.4"/><rect x="677.2" y="639.8" width="1.4" height="1.4"/><rect x="705.2" y="658.2" width="1.4" height="1.4"/><rect x="664.1" y="670.4" width="1.4" height="1.4"/><rect x="675" y="649.1" width="1.4" height="1.4"/><rect x="660.8" y="651.8" width="1.4" height="1.4"/><rect x="704.5" y="636.5" width="1.4" height="1.4"/><rect x="644.8" y="675.1" width="1.4" height="1.4"/><rect x="580.6" y="673.9" width="1.4" height="1.4"/><rect x="710.3" y="658.8" width="1.4" height="1.4"/><rect x="768.4" y="661.1" width="1.4" height="1.4"/><rect x="938" y="652.1" width="1.4" height="1.4"/><rect x="571.7" y="653.9" width="1.4" height="1.4"/><rect x="645.8" y="647.5" width="1.4" height="1.4"/><rect x="607.5" y="666.8" width="1.4" height="1.4"/><rect x="782.9" y="667.9" width="1.4" height="1.4"/><rect x="825" y="662.7" width="1.4" height="1.4"/><rect x="849.7" y="655.9" width="1.4" height="1.4"/><rect x="963.5" y="661.7" width="1.4" height="1.4"/><rect x="960.1" y="667.2" width="1.4" height="1.4"/><rect x="724" y="645.3" width="1.4" height="1.4"/><rect x="686.2" y="637.2" width="1.4" height="1.4"/><rect x="909.4" y="664.7" width="1.4" height="1.4"/><rect x="625.3" y="679.2" width="1.4" height="1.4"/><rect x="616.3" y="650.3" width="1.4" height="1.4"/><rect x="703.4" y="648.9" width="1.4" height="1.4"/><rect x="820.4" y="651.1" width="1.4" height="1.4"/><rect x="896.5" y="656.6" width="1.4" height="1.4"/><rect x="799.6" y="666.1" width="1.4" height="1.4"/><rect x="710.5" y="676.7" width="1.4" height="1.4"/><rect x="797.8" y="657.7" width="1.4" height="1.4"/><rect x="632.3" y="649" width="1.4" height="1.4"/><rect x="816.1" y="657.1" width="1.4" height="1.4"/><rect x="654.2" y="651.8" width="1.4" height="1.4"/><rect x="926.6" y="669" width="1.4" height="1.4"/><rect x="662" y="647.4" width="1.4" height="1.4"/><rect x="635.5" y="662.1" width="1.4" height="1.4"/><rect x="866.1" y="654.1" width="1.4" height="1.4"/><rect x="882.5" y="663.1" width="1.4" height="1.4"/><rect x="972.7" y="648.8" width="1.4" height="1.4"/><rect x="711.6" y="675.3" width="1.4" height="1.4"/><rect x="949.2" y="656.8" width="1.4" height="1.4"/><rect x="817.7" y="653.3" width="1.4" height="1.4"/><rect x="691.9" y="655" width="1.4" height="1.4"/><rect x="859.5" y="664.2" width="1.4" height="1.4"/><rect x="612.3" y="656.7" width="1.4" height="1.4"/><rect x="720.8" y="670.5" width="1.4" height="1.4"/><rect x="629.9" y="660.1" width="1.4" height="1.4"/><rect x="697.6" y="661.5" width="1.4" height="1.4"/><rect x="603" y="682.2" width="1.4" height="1.4"/><rect x="869.8" y="661.5" width="1.4" height="1.4"/><rect x="653" y="650.8" width="1.4" height="1.4"/><rect x="570" y="677.2" width="1.4" height="1.4"/><rect x="679.9" y="668.1" width="1.4" height="1.4"/><rect x="633" y="671.7" width="1.4" height="1.4"/><rect x="625.2" y="662.3" width="1.4" height="1.4"/><rect x="839" y="652.2" width="1.4" height="1.4"/><rect x="687.6" y="644.9" width="1.4" height="1.4"/><rect x="653" y="646.5" width="1.4" height="1.4"/><rect x="668.4" y="669.5" width="1.4" height="1.4"/><rect x="890.1" y="668.1" width="1.4" height="1.4"/><rect x="623.9" y="664.1" width="1.4" height="1.4"/><rect x="574.5" y="682.1" width="1.4" height="1.4"/><rect x="815.6" y="659.4" width="1.4" height="1.4"/><rect x="667.2" y="669.4" width="1.4" height="1.4"/><rect x="649.1" y="646.1" width="1.4" height="1.4"/><rect x="695.4" y="648.2" width="1.4" height="1.4"/><rect x="721.4" y="674.1" width="1.4" height="1.4"/><rect x="616.1" y="656.1" width="1.4" height="1.4"/><rect x="962.5" y="651.2" width="1.4" height="1.4"/><rect x="878.3" y="653.3" width="1.4" height="1.4"/><rect x="615.6" y="674.7" width="1.4" height="1.4"/><rect x="897.6" y="656.2" width="1.4" height="1.4"/><rect x="596.9" y="656.2" width="1.4" height="1.4"/><rect x="611.1" y="644.6" width="1.4" height="1.4"/><rect x="880.4" y="654.8" width="1.4" height="1.4"/><rect x="927.1" y="660.2" width="1.4" height="1.4"/><rect x="843.4" y="662.8" width="1.4" height="1.4"/></g><path d="M583 480.2 L584.4 480.6 L585.8 480.7 L587.2 480 L588.6 480.2 L590 479 L591.4 479.2 L592.8 478.7 L594.2 478.9 L595.6 479.9M584.4 481.9 L585.8 482 L587.2 481.3 L588.6 481.5 L590 480.3 L591.4 480.5 L592.8 480 L594.2 480.2M616.6 477.2 L618 476.9 L619.4 477.6 L620.8 478.4 L622.2 478 L623.6 479.7 L625 479.3 L626.4 478.5 L627.8 478.3 L629.2 478.3 L630.6 478.6 L632 479.2 L633.4 478.3 L634.8 479.9M650.2 478.8 L651.6 478.4 L653 479.9 L654.4 477.6 L655.8 477.2 L657.2 475.9 L658.6 476.7 L660 475.6 L661.4 475.9 L662.8 476.8 L664.2 477.8 L665.6 477.3 L667 475.7 L668.4 475.6 L669.8 476.6M671.2 474.1 L672.6 475.5 L674 475.4 L675.4 476.3 L676.8 475.4 L678.2 475.2 L679.6 474.2 L681 474.4M682.4 475.5 L683.8 474.9 L685.2 475.6 L686.6 476.2 L688 476.4M690.8 477.1 L692.2 475.3 L693.6 476.1 L695 475.9 L696.4 475.6 L697.8 475M563.4 485 L564.8 485.9 L566.2 484.5 L567.6 484.7 L569 484.2 L570.4 484.8 L571.8 485.4 L573.2 485.9 L574.6 484.8 L576 485.7 L577.4 485.8 L578.8 486.1 L580.2 485.3 L581.6 484.8M583 482.9 L584.4 482.6 L585.8 483.3 L587.2 481.9 L588.6 482.8 L590 482.4 L591.4 482.9 L592.8 482.6 L594.2 482.8 L595.6 482.7 L597 480.2 L598.4 482.3M601.2 483.7 L602.6 483.2 L604 482.3 L605.4 483 L606.8 482.6 L608.2 482 L609.6 480.9M611 481.4 L612.4 482.8 L613.8 483.3 L615.2 483.8 L616.6 483.1 L618 484.2 L619.4 482.7 L620.8 482.5 L622.2 482 L623.6 481.9 L625 482.2 L626.4 482.6 L627.8 484 L629.2 483.8 L630.6 482.8M612.4 481.5 L613.8 482 L615.2 482.5 L616.6 481.8 L618 482.9 L619.4 481.4 L620.8 481.2 L622.2 480.7 L623.6 480.6 L625 480.9 L626.4 481.3 L627.8 482.7 L629.2 482.5M632 482 L633.4 481.6 L634.8 479.4 L636.2 480.8 L637.6 480.9 L639 481.4M641.8 482.6 L643.2 482.6 L644.6 482.6 L646 481.4 L647.4 481.5M664.2 480.9 L665.6 482 L667 481.5 L668.4 481.9 L669.8 482.3 L671.2 481.2 L672.6 481.6 L674 480.7 L675.4 479.8 L676.8 481.5 L678.2 480.8M679.6 480.3 L681 480.8 L682.4 480.4 L683.8 480.6 L685.2 479.5 L686.6 480.4 L688 478.2 L689.4 477.6 L690.8 478.9 L692.2 478.5M701.4 474.1 L702.8 474.5 L704.2 474.9 L705.6 476.3 L707 477.9 L708.4 477 L709.8 476.5 L711.2 475.3 L712.6 475.6 L714 475.2M715.4 473.9 L716.8 473.5 L718.2 472.8 L719.6 473.7 L721 473.3 L722.4 472.4M716.8 474.8 L718.2 474.1 L719.6 475 L721 474.6M723.8 474.8 L725.2 474.4 L726.6 474.7 L728 475.6 L729.4 476.2 L730.8 476.1 L732.2 474.2 L733.6 473.7 L735 473.7 L736.4 472.7M739.2 473 L740.6 472.9 L742 472.2 L743.4 472.9 L744.8 472.7 L746.2 472.9 L747.6 472.1 L749 472.3M751.8 473 L753.2 474 L754.6 474.6 L756 474 L757.4 473.5 L758.8 472.1 L760.2 471.8 L761.6 473 L763 472.4 L764.4 472 L765.8 472.8M768.6 474.3 L770 473.8 L771.4 472.4 L772.8 473.2 L774.2 471.5 L775.6 472.8M777 470.8 L778.4 471.5 L779.8 472.8 L781.2 470.9 L782.6 471.1 L784 470.8 L785.4 470.3M803.6 472.5 L805 473.8 L806.4 471.2M807.8 469.5 L809.2 469.1 L810.6 469 L812 468.2 L813.4 468.8 L814.8 468.8 L816.2 470.5 L817.6 469.5 L819 470.1 L820.4 469.8 L821.8 468.8 L823.2 468.7 L824.6 469.1 L826 468.6 L827.4 469 L828.8 469.4 L830.2 469.3M809.2 470.4 L810.6 470.3 L812 469.5 L813.4 470.1 L814.8 470.1 L816.2 471.8 L817.6 470.8 L819 471.4 L820.4 471.1 L821.8 470.1 L823.2 470 L824.6 470.4 L826 469.9 L827.4 470.3 L828.8 470.7M830.2 469.3 L831.6 470.7 L833 469.7 L834.4 469.2 L835.8 469.2 L837.2 468.7 L838.6 468.3 L840 468.6 L841.4 470.2 L842.8 469.7 L844.2 468.8 L845.6 469.3 L847 468.1 L848.4 468.5 L849.8 467.9 L851.2 467.7M831.6 472 L833 471 L834.4 470.5 L835.8 470.5 L837.2 470 L838.6 469.6 L840 469.9 L841.4 471.5 L842.8 471 L844.2 470.1 L845.6 470.6 L847 469.4 L848.4 469.8 L849.8 469.2M852.6 470 L854 470 L855.4 471 L856.8 471.2 L858.2 471.1M861 469.8 L862.4 470 L863.8 470.6M873.6 467.2 L875 467 L876.4 468.4 L877.8 469M889 466.9 L890.4 466.3 L891.8 466.8 L893.2 466.9 L894.6 467.3 L896 469.7 L897.4 468.6 L898.8 468.2 L900.2 466.9 L901.6 467.8 L903 466.6 L904.4 466.5 L905.8 467.5 L907.2 466.6 L908.6 466.3 L910 466.3M922.6 464.9 L924 465.8 L925.4 465 L926.8 465.5 L928.2 464.3 L929.6 464.7 L931 465.4M924 467.1 L925.4 466.3 L926.8 466.8 L928.2 465.6 L929.6 466M931 465.4 L932.4 465.2 L933.8 464.7 L935.2 465.2 L936.6 466.1 L938 465.5 L939.4 466.7 L940.8 465.5 L942.2 464.9 L943.6 464.4 L945 463.8 L946.4 464.1 L947.8 464 L949.2 464.5 L950.6 464.9 L952 464.3 L953.4 465.4M932.4 466.5 L933.8 466 L935.2 466.5 L936.6 467.4 L938 466.8 L939.4 468 L940.8 466.8 L942.2 466.2 L943.6 465.7 L945 465.1 L946.4 465.4 L947.8 465.3 L949.2 465.8 L950.6 466.2 L952 465.6M961.8 463.8 L963.2 463.8 L964.6 464.8 L966 465.3 L967.4 463.9 L968.8 463.9 L970.2 463.5 L971.6 462.7 L973 463.5 L974.4 463.2 L975.8 462.1M963.2 465.1 L964.6 466.1 L966 466.6 L967.4 465.2 L968.8 465.2 L970.2 464.8 L971.6 464 L973 464.8 L974.4 464.5M743.4 477.8 L744.8 476.9 L746.2 476.7 L747.6 477.1 L749 477.2 L750.4 476.3 L751.8 476.2 L753.2 475.1 L754.6 474.5 L756 476.5 L757.4 477.3 L758.8 477.8 L760.2 476.8 L761.6 478.1 L763 476.6M782.6 475.7 L784 475.9 L785.4 475 L786.8 476.2 L788.2 475.9 L789.6 476 L791 474.9 L792.4 474.8 L793.8 475.2 L795.2 475.5M796.6 476.6 L798 476.3 L799.4 476.1 L800.8 475.4 L802.2 475 L803.6 475.1 L805 473.1 L806.4 475.1 L807.8 476.4 L809.2 475.9M828.8 473.5 L830.2 473.2 L831.6 472.6 L833 475 L834.4 475.3M859.6 473.5 L861 474.8 L862.4 474 L863.8 473.3 L865.2 473.1 L866.6 471.2 L868 472 L869.4 472.8 L870.8 473.6 L872.2 472.4 L873.6 473.5 L875 472.6 L876.4 471.6 L877.8 471.1 L879.2 473.2M861 473.5 L862.4 472.7 L863.8 472 L865.2 471.8 L866.6 469.9 L868 470.7 L869.4 471.5 L870.8 472.3 L872.2 471.1 L873.6 472.2 L875 471.3 L876.4 470.3 L877.8 469.8M879.2 473.2 L880.6 473 L882 473.2 L883.4 473.9 L884.8 473.7 L886.2 473.6 L887.6 474.4 L889 473.4 L890.4 473.3M890.4 473.3 L891.8 473.2 L893.2 472.2 L894.6 472.4 L896 470.9M897.4 470.5 L898.8 469.9 L900.2 471.5 L901.6 470.3 L903 471 L904.4 470.7 L905.8 471.3 L907.2 471.4 L908.6 470.5 L910 471.4 L911.4 470.1 L912.8 470.9 L914.2 469.4 L915.6 470.1 L917 468.7M918.4 470.9 L919.8 471.2 L921.2 471 L922.6 471.4 L924 472.3 L925.4 472 L926.8 472.8 L928.2 471.6 L929.6 472.5 L931 472.4 L932.4 472.1M950.6 468.8 L952 468.5 L953.4 468.4 L954.8 467.3 L956.2 467.9 L957.6 468.4 L959 468.8 L960.4 468.9 L961.8 468.7 L963.2 468.2 L964.6 468.8M973 468 L974.4 467.6 L975.8 468.5M564.8 501.8 L566.2 502.2 L567.6 500.1 L569 500.6 L570.4 500.1 L571.8 499.1 L573.2 499.6 L574.6 499.6 L576 500.1M577.4 499.2 L578.8 500.8 L580.2 499 L581.6 498.5 L583 498.8 L584.4 497.8 L585.8 497.1 L587.2 496.9M578.8 502.1 L580.2 500.3 L581.6 499.8 L583 500.1 L584.4 499.1 L585.8 498.4M615.2 496.9 L616.6 495.6 L618 496.2 L619.4 496.4 L620.8 497.8 L622.2 498.9 L623.6 497.3 L625 498.2M616.6 496.9 L618 497.5 L619.4 497.7 L620.8 499.1 L622.2 500.2 L623.6 498.6M625 498.2 L626.4 496.9 L627.8 497.5 L629.2 497.4 L630.6 497 L632 496.6M626.4 498.2 L627.8 498.8 L629.2 498.7 L630.6 498.3M632 496.6 L633.4 497.2 L634.8 496.4 L636.2 497.3 L637.6 496.3 L639 496.8 L640.4 497.8 L641.8 497.7 L643.2 497 L644.6 496.5 L646 496.9 L647.4 496.1 L648.8 496M633.4 498.5 L634.8 497.7 L636.2 498.6 L637.6 497.6 L639 498.1 L640.4 499.1 L641.8 499 L643.2 498.3 L644.6 497.8 L646 498.2 L647.4 497.4M648.8 496 L650.2 495.5 L651.6 496 L653 495.6 L654.4 496.7 L655.8 496.3 L657.2 496.8 L658.6 498.6 L660 496.7 L661.4 496.6 L662.8 496.4 L664.2 496 L665.6 496.9 L667 496.3 L668.4 497.5M650.2 496.8 L651.6 497.3 L653 496.9 L654.4 498 L655.8 497.6 L657.2 498.1 L658.6 499.9 L660 498 L661.4 497.9 L662.8 497.7 L664.2 497.3 L665.6 498.2 L667 497.6M668.4 497.5 L669.8 497.4 L671.2 497 L672.6 496.7 L674 495.8 L675.4 495.3 L676.8 496.1 L678.2 495.7M669.8 498.7 L671.2 498.3 L672.6 498 L674 497.1 L675.4 496.6 L676.8 497.4M686.6 497.7 L688 497.4 L689.4 497.1 L690.8 495.7 L692.2 496 L693.6 497.1M585.8 506 L587.2 505 L588.6 505.5 L590 504.8 L591.4 504.4M587.2 503.7 L588.6 504.2 L590 503.5M612.4 502 L613.8 502.5 L615.2 501.5 L616.6 502.1 L618 501.6 L619.4 501.6M622.2 498.4 L623.6 500.8 L625 500.3 L626.4 500.9 L627.8 500.7 L629.2 501.2 L630.6 501.1 L632 501 L633.4 500.4 L634.8 500.7M637.6 500 L639 500.2 L640.4 498.5 L641.8 499.3 L643.2 500.4 L644.6 500.5 L646 501.7 L647.4 500.6 L648.8 501.5 L650.2 501.7M651.6 502.5 L653 501.4 L654.4 501.3 L655.8 501.9 L657.2 499.8 L658.6 500.2 L660 501.9 L661.4 501.9M682.4 500.6 L683.8 499.6 L685.2 499.3 L686.6 499.7 L688 500.1 L689.4 500.5 L690.8 500.3 L692.2 501.1M683.8 498.3 L685.2 498 L686.6 498.4 L688 498.8 L689.4 499.2 L690.8 499M697.8 499 L699.2 499.1M701.4 494.4 L702.8 494.1 L704.2 495 L705.6 495.5 L707 496.8 L708.4 496.2 L709.8 495.3 L711.2 495.4 L712.6 494.9M715.4 495.1 L716.8 494.5 L718.2 495 L719.6 494.3 L721 494.6 L722.4 495.7 L723.8 495.5 L725.2 495.5 L726.6 495.8 L728 496 L729.4 495.7 L730.8 494.7 L732.2 494.8M733.6 492.9 L735 492.2 L736.4 492.1 L737.8 490.9 L739.2 491.3 L740.6 491.8 L742 490.8 L743.4 491.6 L744.8 491.8 L746.2 492.4 L747.6 492.1 L749 492.4M735 493.5 L736.4 493.4 L737.8 492.2 L739.2 492.6 L740.6 493.1 L742 492.1 L743.4 492.9 L744.8 493.1 L746.2 493.7 L747.6 493.4M750.4 495.9 L751.8 494.8 L753.2 495.2 L754.6 494.1 L756 494 L757.4 494.6 L758.8 493.3 L760.2 494.1 L761.6 493.5 L763 493.8 L764.4 493.2 L765.8 493.3 L767.2 493.4 L768.6 493.9M770 494 L771.4 494.6 L772.8 492.4 L774.2 490.6 L775.6 491.2 L777 490.5 L778.4 490.5 L779.8 489.6 L781.2 489.6 L782.6 489.5 L784 490.1 L785.4 490.7 L786.8 491 L788.2 491.7 L789.6 490.7 L791 490.6M771.4 495.9 L772.8 493.7 L774.2 491.9 L775.6 492.5 L777 491.8 L778.4 491.8 L779.8 490.9 L781.2 490.9 L782.6 490.8 L784 491.4 L785.4 492 L786.8 492.3 L788.2 493 L789.6 492M791 490.6 L792.4 490.1 L793.8 490.2 L795.2 489.6 L796.6 490.7 L798 489.8M792.4 491.4 L793.8 491.5 L795.2 490.9 L796.6 492M810.6 490.6 L812 490.9 L813.4 490.7 L814.8 491.1 L816.2 491.9 L817.6 493.1 L819 492 L820.4 490.6 L821.8 491.4 L823.2 491.4 L824.6 491.5M827.4 490.4 L828.8 490.3 L830.2 491.2 L831.6 491.4 L833 491 L834.4 490.5 L835.8 490 L837.2 490.4 L838.6 489.2 L840 489.8 L841.4 489.7 L842.8 489.7M845.6 489.1 L847 489 L848.4 489.3 L849.8 489.1 L851.2 490.2 L852.6 489.4 L854 489.5 L855.4 490 L856.8 491.4 L858.2 490.6 L859.6 489.7 L861 490.2 L862.4 488.6 L863.8 488.6 L865.2 488.3M868 489 L869.4 488.6 L870.8 488.7 L872.2 488.5 L873.6 488.9 L875 489.1 L876.4 489 L877.8 490.2 L879.2 490 L880.6 489.1 L882 489.1M905.8 487.4 L907.2 486.8 L908.6 487.7 L910 489.1 L911.4 487.2 L912.8 487.2 L914.2 487.4 L915.6 487.4M918.4 486.2 L919.8 487.7 L921.2 487.4 L922.6 487.3 L924 486.3 L925.4 485.6 L926.8 485.5 L928.2 486.3 L929.6 486.4M931 484.3 L932.4 484.5 L933.8 485.6 L935.2 485.4 L936.6 484.8 L938 483.6 L939.4 483.3 L940.8 483.4 L942.2 482.9 L943.6 483.3 L945 484 L946.4 484.4 L947.8 484.3 L949.2 486.5 L950.6 485.5 L952 484.9 L953.4 485M954.8 486.4 L956.2 485.4 L957.6 486.4 L959 486.2 L960.4 484.8 L961.8 485.1 L963.2 485.6 L964.6 485.8M967.4 485.8 L968.8 485.2 L970.2 485.3 L971.6 486.1 L973 485.5 L974.4 487.3M700 499.9 L701.4 500.2 L702.8 501.2 L704.2 500.2 L705.6 500 L707 498.2 L708.4 498.9 L709.8 499.1 L711.2 498.6 L712.6 498.5 L714 499.6 L715.4 498.8 L716.8 498.5 L718.2 498.6 L719.6 499.2 L721 499.4M735 498.4 L736.4 497.8 L737.8 497.7 L739.2 497.7 L740.6 498.4 L742 497.6 L743.4 498.4 L744.8 497.8 L746.2 498.1 L747.6 497.6 L749 496.1 L750.4 496.7 L751.8 497.4 L753.2 497.3M767.2 497.2 L768.6 497.8 L770 496.4 L771.4 494.8 L772.8 496.6 L774.2 497 L775.6 496.3M791 495.6 L792.4 495.5 L793.8 496.3 L795.2 496.5 L796.6 496.9 L798 495.5 L799.4 495.3 L800.8 495.8 L802.2 494.8 L803.6 494.8M792.4 494.2 L793.8 495 L795.2 495.2 L796.6 495.6 L798 494.2 L799.4 494 L800.8 494.5 L802.2 493.5M821.8 494.3 L823.2 494.2 L824.6 495 L826 494.1 L827.4 493.5M842.8 493.3 L844.2 494 L845.6 493.8 L847 493.3 L848.4 493.1 L849.8 493.9 L851.2 492.4 L852.6 493M854 493.4 L855.4 493.2 L856.8 492.6 L858.2 492 L859.6 493.4M890.4 491.5 L891.8 491.4 L893.2 490.2 L894.6 489 L896 490.7 L897.4 490.7 L898.8 490.6 L900.2 490.8M903 491 L904.4 490.6 L905.8 489.9 L907.2 489.7 L908.6 488.8 L910 489.1 L911.4 488.9M914.2 489.4 L915.6 490.3 L917 490.1 L918.4 490.2 L919.8 488.8 L921.2 488.2 L922.6 488.4 L924 490 L925.4 490.3 L926.8 491.2 L928.2 490.6 L929.6 490.3M932.4 490.5 L933.8 489.2 L935.2 488 L936.6 488.1M939.4 488 L940.8 488.1 L942.2 489.1 L943.6 488.5 L945 488.4 L946.4 487.8 L947.8 486.4 L949.2 487.2 L950.6 487.2 L952 487.4 L953.4 487.9 L954.8 488.4 L956.2 488.1M957.6 490.7 L959 489.4 L960.4 489.9 L961.8 490.2 L963.2 490.1 L964.6 489.6 L966 489.3 L967.4 489.1 L968.8 488.9 L970.2 488.5 L971.6 488.2 L973 487.9 L974.4 487.7 L975.8 487.8M959 488.1 L960.4 488.6 L961.8 488.9 L963.2 488.8 L964.6 488.3 L966 488 L967.4 487.8 L968.8 487.6 L970.2 487.2 L971.6 486.9 L973 486.6 L974.4 486.4M564.8 520.4 L566.2 520.8 L567.6 520.8 L569 521.2M570.4 520.6 L571.8 520.2 L573.2 518.9 L574.6 518.4 L576 519.2 L577.4 518.6 L578.8 518.8 L580.2 518.7 L581.6 519 L583 518 L584.4 518.9 L585.8 519 L587.2 519.9 L588.6 519.1 L590 518.6M571.8 521.5 L573.2 520.2 L574.6 519.7 L576 520.5 L577.4 519.9 L578.8 520.1 L580.2 520 L581.6 520.3 L583 519.3 L584.4 520.2 L585.8 520.3 L587.2 521.2 L588.6 520.4M591.4 520.2 L592.8 519.3 L594.2 519 L595.6 519.3 L597 519 L598.4 519.3 L599.8 519.4 L601.2 519.4 L602.6 519.7 L604 519.2 L605.4 520.3 L606.8 520.3M608.2 520.2 L609.6 518 L611 518.6 L612.4 518.1 L613.8 517.5 L615.2 517.2 L616.6 517.7 L618 518.1 L619.4 517.3 L620.8 518.2 L622.2 518.3 L623.6 519.3 L625 517.3M637.6 517.5 L639 518.1 L640.4 518.6 L641.8 518.2 L643.2 516.4 L644.6 516 L646 516.4 L647.4 516.6 L648.8 516.7 L650.2 517M653 518.7 L654.4 516.9 L655.8 516.5 L657.2 517 L658.6 515.9 L660 515.7 L661.4 516.3 L662.8 515.7 L664.2 515.7M665.6 514.1 L667 515.1 L668.4 514.8 L669.8 514 L671.2 514.4 L672.6 514.1 L674 515.2M675.4 516.5 L676.8 517.4 L678.2 517.7 L679.6 516.6 L681 515.6 L682.4 516 L683.8 515.9 L685.2 515.3 L686.6 515.5 L688 515.2 L689.4 515.2M727.2 514.8 L728.6 513.7 L730 513 L731.4 513.3 L732.8 512.5 L734.2 512.6 L735.6 513.2 L737 512.7 L738.4 513.4 L739.8 512.3 L741.2 513.3 L742.6 514.3 L744 514.9 L745.4 513.9M748.2 513.8 L749.6 513.7 L751 513.5 L752.4 513.4M755.2 513 L756.6 511.8 L758 512.8 L759.4 512.7 L760.8 512.3 L762.2 513.1 L763.6 512 L765 512.7 L766.4 512.3M769.2 513.3 L770.6 513.6 L772 513.6 L773.4 512.5 L774.8 511.8 L776.2 511.5 L777.6 511.1 L779 511.1 L780.4 511.5 L781.8 511.7 L783.2 512.2 L784.6 511.8 L786 512.3 L787.4 512.6M790.2 512.2 L791.6 512.3 L793 511.7 L794.4 512 L795.8 511.4 L797.2 510.2 L798.6 511.5 L800 510.7 L801.4 510.4 L802.8 510.7 L804.2 509.8 L805.6 510 L807 509.9 L808.4 510.3M811.2 511.6 L812.6 511.4 L814 512 L815.4 512.1 L816.8 511.1 L818.2 509.9 L819.6 508.9 L821 509.3 L822.4 509.9 L823.8 509.1M842 508 L843.4 507.9 L844.8 508.1 L846.2 508.8 L847.6 509.3 L849 509.7 L850.4 509.3 L851.8 508.5 L853.2 508.8 L854.6 508.5M843.4 509.2 L844.8 509.4 L846.2 510.1 L847.6 510.6 L849 511 L850.4 510.6 L851.8 509.8 L853.2 510.1M856 509.5 L857.4 508.8 L858.8 509.7 L860.2 509.1 L861.6 509.7 L863 509.7 L864.4 510.6 L865.8 508.7 L867.2 508.7 L868.6 508.1 L870 508.2M886.8 507 L888.2 506.5 L889.6 506.4 L891 505.7 L892.4 506.6 L893.8 505.5 L895.2 506.2 L896.6 505.7 L898 505.2 L899.4 505.8 L900.8 506.9 L902.2 507.1 L903.6 507.4M906.4 507.6 L907.8 507.1 L909.2 506.3 L910.6 506.4M913.4 505.4 L914.8 505.4 L916.2 505.9 L917.6 505.5 L919 506 L920.4 505.2 L921.8 505.2 L923.2 505.9M926 505.6 L927.4 505.5 L928.8 506.5 L930.2 506.1 L931.6 508.1 L933 507 L934.4 507.2 L935.8 506.3 L937.2 506.2 L938.6 505.3 L940 505.8 L941.4 505.2 L942.8 504.8M945.6 505.7 L947 505.2 L948.4 505.1 L949.8 505.2 L951.2 505.7 L952.6 507.4 L954 505.7 L955.4 505.7M958.2 503.9 L959.6 503.9 L961 503.1 L962.4 504 L963.8 503.8 L965.2 503 L966.6 503.7 L968 503.1 L969.4 504 L970.8 503.2 L972.2 503.9 L973.6 503.3 L975 504.6M563.4 526.6 L564.8 525.1 L566.2 525.7 L567.6 524.9 L569 523.7 L570.4 523.6 L571.8 523.8 L573.2 524.7 L574.6 525 L576 524.6M564.8 523.8 L566.2 524.4 L567.6 523.6 L569 522.4 L570.4 522.3 L571.8 522.5 L573.2 523.4 L574.6 523.7M591.4 522 L592.8 522 L594.2 522 L595.6 522.5 L597 522.4 L598.4 523.1 L599.8 522.9 L601.2 521.7 L602.6 521.4 L604 521 L605.4 521.9 L606.8 520.4 L608.2 520.9M611 521.8 L612.4 522.8 L613.8 522.2 L615.2 522.4 L616.6 522.7 L618 521.7 L619.4 522.5 L620.8 521.8 L622.2 521 L623.6 520.7 L625 519M627.8 520.8 L629.2 520.5 L630.6 520.7 L632 520.3 L633.4 520.6M636.2 520 L637.6 520.4 L639 519 L640.4 518.9 L641.8 518.7M653 518.4 L654.4 517.9 L655.8 518.2 L657.2 519.3 L658.6 518.8 L660 519.6 L661.4 520.2 L662.8 520.2 L664.2 519.3 L665.6 519 L667 520.1 L668.4 518.7 L669.8 518.5M689.4 519 L690.8 519.8 L692.2 519.2 L693.6 518.7 L695 519.3 L696.4 518.8 L697.8 518.9 L699.2 517.5 L700.6 516.8 L702 515.5 L703.4 517.2 L704.8 517.6 L706.2 518.1 L707.6 517.6M710.4 517.3 L711.8 517.4 L713.2 517.8 L714.6 517.5 L716 518 L717.4 517.7 L718.8 517.1M720.2 518.3 L721.6 519 L723 518.8 L724.4 517.7 L725.8 517.3 L727.2 517.5 L728.6 518.4 L730 519.3 L731.4 519.2 L732.8 519.2 L734.2 518.7 L735.6 518.4 L737 518.3 L738.4 519.3M762.2 515.7 L763.6 515.2 L765 514.5 L766.4 513.8 L767.8 513.9 L769.2 513.1 L770.6 515.2 L772 514.7M773.4 517.7 L774.8 517.3 L776.2 516.7 L777.6 516.9 L779 517.7 L780.4 518.1 L781.8 517M774.8 516 L776.2 515.4 L777.6 515.6 L779 516.4 L780.4 516.8M783.2 515.9 L784.6 516 L786 514.8 L787.4 514.1M788.8 514 L790.2 513.4 L791.6 514.5 L793 515.1 L794.4 514.8 L795.8 513.9 L797.2 514.6 L798.6 514.4 L800 514 L801.4 515.3 L802.8 515.1 L804.2 514.1 L805.6 514.9 L807 514.9M836.4 512.4 L837.8 513.3 L839.2 512.7 L840.6 512.8 L842 511.8 L843.4 512 L844.8 512.2 L846.2 511.4 L847.6 511.9 L849 509.8 L850.4 511M863 512.1 L864.4 510.5 L865.8 510.6 L867.2 511 L868.6 511.8 L870 510.8 L871.4 511 L872.8 510.6 L874.2 511.1 L875.6 511.9 L877 511.5 L878.4 511.6 L879.8 511.8 L881.2 511.2M892.4 511 L893.8 511.3 L895.2 510.2 L896.6 510.9 L898 509.8 L899.4 510.8 L900.8 509.7 L902.2 510.1M905 508.5 L906.4 508 L907.8 508.9 L909.2 508.8 L910.6 509.3 L912 509.7 L913.4 509.6 L914.8 510M917.6 509.3 L919 509.6 L920.4 509.2 L921.8 509.7 L923.2 509.2 L924.6 508.6 L926 508.6 L927.4 508.3 L928.8 508.5 L930.2 507.2 L931.6 506.6 L933 507.6M935.8 509.8 L937.2 508.9 L938.6 508.9 L940 509.9 L941.4 509.4 L942.8 509.5 L944.2 510 L945.6 509.8 L947 508.9 L948.4 509.5 L949.8 507.9 L951.2 508.5 L952.6 506.8 L954 506.5M955.4 508.9 L956.8 509.4 L958.2 508.8 L959.6 509.5 L961 509.6 L962.4 509.6 L963.8 510.1 L965.2 509.1 L966.6 509.9 L968 509.2 L969.4 510.1 L970.8 509.4 L972.2 508.7 L973.6 508.3 L975 508.2 L976.4 506.8M573.2 539.5 L574.6 538.9 L576 538.6 L577.4 538.6 L578.8 538.6 L580.2 540.9 L581.6 538.7 L583 538.8 L584.4 537.9 L585.8 536.8 L587.2 538 L588.6 537.4 L590 536.6 L591.4 536.7 L592.8 537.8M594.2 536.3 L595.6 537 L597 538.8 L598.4 537.3 L599.8 535.9 L601.2 536.5 L602.6 536.2M595.6 538.3 L597 540.1 L598.4 538.6 L599.8 537.2 L601.2 537.8M604 537.8 L605.4 537.4 L606.8 537 L608.2 538.6 L609.6 538.3 L611 537.8M612.4 536.7 L613.8 536.7 L615.2 535.6 L616.6 535.9 L618 536.1 L619.4 535.6M613.8 538 L615.2 536.9 L616.6 537.2 L618 537.4M640.4 536.3 L641.8 536.1 L643.2 535.9 L644.6 535.3 L646 536.5 L647.4 536.6M650.2 536.5 L651.6 537 L653 537.3 L654.4 538.5M678.2 535.2 L679.6 533.8 L681 534.4 L682.4 533.6 L683.8 532.8 L685.2 532.8 L686.6 532.8 L688 533.5M690.8 535.1 L692.2 536.4 L693.6 536.4 L695 535.5 L696.4 535.3 L697.8 534.6 L699.2 534.2 L700.6 534.5 L702 533.9 L703.4 534.9 L704.8 533.8 L706.2 534.2 L707.6 535.4 L709 535.4 L710.4 535.1M713.2 533.9 L714.6 534.1 L716 533 L717.4 533.3 L718.8 533.5 L720.2 533.1 L721.6 534.5 L723 534.2M725.8 533.5 L727.2 532.2 L728.6 532.4 L730 532.1 L731.4 532.7 L732.8 533.2 L734.2 534.8 L735.6 533.9 L737 533.7 L738.4 532.5 L739.8 533.2 L741.2 532.1 L742.6 532.2 L744 532.8 L745.4 532.1M767.8 530.9 L769.2 531.3 L770.6 532.2 L772 532.4 L773.4 532.1 L774.8 531.7 L776.2 532.1 L777.6 530.9 L779 530.4 L780.4 531M781.8 528.7 L783.2 529.2 L784.6 529.5 L786 528.6 L787.4 529.4 L788.8 528.2 L790.2 529.4 L791.6 529.4 L793 529.3 L794.4 529.9 L795.8 529.9 L797.2 529.4 L798.6 530.5M783.2 530.5 L784.6 530.8 L786 529.9 L787.4 530.7 L788.8 529.5 L790.2 530.7 L791.6 530.7 L793 530.6 L794.4 531.2 L795.8 531.2 L797.2 530.7M808.4 528.9 L809.8 528.4 L811.2 528.7 L812.6 528.5 L814 529.5 L815.4 529.6 L816.8 529.4 L818.2 531.2 L819.6 530.5 L821 529.7 L822.4 528.7 L823.8 528.7 L825.2 529.2M856 527.7 L857.4 526.8 L858.8 527.4M861.6 527.4 L863 528.7 L864.4 527.7 L865.8 527.1 L867.2 526.7 L868.6 526.5 L870 527.1 L871.4 526.3 L872.8 525.7 L874.2 526M877 525.5 L878.4 525.4 L879.8 526.4 L881.2 525.7 L882.6 526.1 L884 526.5 L885.4 526.1M888.2 528.1 L889.6 526 L891 525.4 L892.4 525.9 L893.8 525.3 L895.2 524.6 L896.6 525.4 L898 525.1 L899.4 525.1 L900.8 524.8 L902.2 524.6 L903.6 525.2M906.4 524.1 L907.8 524.4 L909.2 524.3 L910.6 525.8 L912 526.1M914.8 526.4 L916.2 524.9 L917.6 523.8 L919 523.5 L920.4 523.8 L921.8 523.6M924.6 524.5 L926 523.8 L927.4 524.7 L928.8 526.5 L930.2 525.6 L931.6 524.9 L933 525 L934.4 524.4 L935.8 524.4 L937.2 526.3 L938.6 523.4 L940 523.3 L941.4 523.5M944.2 522.9 L945.6 522.4 L947 523.8 L948.4 523.6 L949.8 525.5M952.6 523.9 L954 523.8 L955.4 523.4M958.2 523.7 L959.6 524.7 L961 524.7 L962.4 525.1 L963.8 523.2 L965.2 523.9 L966.6 523.3 L968 522.8 L969.4 522.3 L970.8 522.7 L972.2 522.5M973.6 521.7 L975 521.2 L976.4 520.6M564.8 541.9 L566.2 541.3 L567.6 540.9M570.4 541.7 L571.8 541.8 L573.2 542.1 L574.6 542.9 L576 542.6 L577.4 541.3 L578.8 541.3 L580.2 539.8 L581.6 541.6 L583 541.1 L584.4 541.6 L585.8 541.8 L587.2 541.7 L588.6 542.3 L590 542.5M608.2 540.1 L609.6 541 L611 540.9 L612.4 540.9 L613.8 541.6 L615.2 541.1 L616.6 541.8 L618 541.6 L619.4 542.3 L620.8 542.3 L622.2 542.2 L623.6 540.9 L625 541.2M609.6 539.7 L611 539.6 L612.4 539.6 L613.8 540.3 L615.2 539.8 L616.6 540.5 L618 540.3 L619.4 541 L620.8 541 L622.2 540.9 L623.6 539.6M626.4 540.2 L627.8 539.5 L629.2 537.7 L630.6 538.2 L632 538.6 L633.4 538.6 L634.8 539.1M637.6 538.8 L639 538.8 L640.4 539.4 L641.8 538.8 L643.2 538.9 L644.6 539.5 L646 539.1 L647.4 538.5 L648.8 537.9 L650.2 538.4 L651.6 538.2 L653 536.9 L654.4 536.6M657.2 538 L658.6 537.9 L660 537.8 L661.4 538 L662.8 538.3 L664.2 538.2 L665.6 538.4 L667 538.3 L668.4 537.6 L669.8 538 L671.2 538.7M674 536.8 L675.4 537.1 L676.8 535.9 L678.2 537 L679.6 537.9 L681 538.4 L682.4 538.9 L683.8 538.6 L685.2 538.4 L686.6 538.7 L688 538.5M690.8 537.2 L692.2 536.5 L693.6 537.3 L695 538.1 L696.4 537.6 L697.8 538.2 L699.2 537.3 L700.6 538.3M703.4 537.1 L704.8 537.5 L706.2 538M723 535 L724.4 536.5 L725.8 536.6 L727.2 536.6 L728.6 537 L730 536.8 L731.4 536.5 L732.8 535.4 L734.2 535.1 L735.6 535.4 L737 536.6 L738.4 537.2 L739.8 537.2 L741.2 536.8 L742.6 536.3 L744 536.8M724.4 535.2 L725.8 535.3 L727.2 535.3 L728.6 535.7 L730 535.5 L731.4 535.2 L732.8 534.1 L734.2 533.8 L735.6 534.1 L737 535.3 L738.4 535.9 L739.8 535.9 L741.2 535.5 L742.6 535M759.4 534.6 L760.8 534.7 L762.2 535.2 L763.6 534.8 L765 535.6 L766.4 535.5M767.8 535.9 L769.2 535.3 L770.6 534.7 L772 534.9 L773.4 533.5 L774.8 533.6 L776.2 533.2 L777.6 533.5 L779 533.9 L780.4 534.4 L781.8 534.7 L783.2 533.8M769.2 534 L770.6 533.4 L772 533.6 L773.4 532.2 L774.8 532.3 L776.2 531.9 L777.6 532.2 L779 532.6 L780.4 533.1 L781.8 533.4M784.6 533.5 L786 533.6 L787.4 532.5 L788.8 533.3 L790.2 532 L791.6 532.9 L793 532.8 L794.4 531.8M797.2 531.6 L798.6 531.1 L800 531.8 L801.4 532 L802.8 531.5 L804.2 532.6 L805.6 531.7 L807 532.8M809.8 531.7 L811.2 532.7 L812.6 531.3 L814 531.1 L815.4 530.7 L816.8 531.1M818.2 531 L819.6 532.3 L821 532.6 L822.4 532.3 L823.8 532.3 L825.2 532.3 L826.6 532.4 L828 532.9 L829.4 532.3 L830.8 533 L832.2 532.1 L833.6 531.3 L835 530.4 L836.4 531.1 L837.8 532.5 L839.2 531.8M819.6 531 L821 531.3 L822.4 531 L823.8 531 L825.2 531 L826.6 531.1 L828 531.6 L829.4 531 L830.8 531.7 L832.2 530.8 L833.6 530 L835 529.1 L836.4 529.8 L837.8 531.2M840.6 531.6 L842 531.6 L843.4 531.5 L844.8 531.3 L846.2 531.9 L847.6 531.8 L849 531.5 L850.4 531.1 L851.8 530.5 L853.2 529.6 L854.6 530.8 L856 531.4 L857.4 532.4 L858.8 531.4 L860.2 531.4M861.6 532.5 L863 532 L864.4 530.9 L865.8 531.9 L867.2 531.1 L868.6 531 L870 531.7M863 530.7 L864.4 529.6 L865.8 530.6 L867.2 529.8 L868.6 529.7M871.4 530.3 L872.8 530.1 L874.2 530.3 L875.6 530.4 L877 529.5 L878.4 529.9 L879.8 530.5 L881.2 530.1 L882.6 529.5 L884 528.5 L885.4 529 L886.8 528 L888.2 526.8M889.6 529.5 L891 530.4 L892.4 530 L893.8 530.1 L895.2 530.2 L896.6 530.7 L898 530.6 L899.4 530.9 L900.8 530.6 L902.2 530.2 L903.6 530.8 L905 530.6 L906.4 530 L907.8 530.5M891 529.1 L892.4 528.7 L893.8 528.8 L895.2 528.9 L896.6 529.4 L898 529.3 L899.4 529.6 L900.8 529.3 L902.2 528.9 L903.6 529.5 L905 529.3 L906.4 528.7M909.2 528.2 L910.6 528.3 L912 527.1 L913.4 526.5 L914.8 527.8M917.6 528.8 L919 528.6 L920.4 529 L921.8 528.1M924.6 528.1 L926 528 L927.4 526.8 L928.8 526.7 L930.2 527 L931.6 528 L933 527.5 L934.4 527.5M948.4 525.4 L949.8 525.4 L951.2 526.7 L952.6 526.8M955.4 527.3 L956.8 527.5 L958.2 527.3 L959.6 527.2M962.4 525.2 L963.8 526.3 L965.2 525.3 L966.6 525.8 L968 526.8 L969.4 526.4 L970.8 526 L972.2 526.4 L973.6 525.9 L975 525.6M564.8 558.6 L566.2 557.7 L567.6 558.5 L569 559.7 L570.4 558.2 L571.8 557.8 L573.2 557 L574.6 556.6 L576 556.5 L577.4 557.2 L578.8 556.7 L580.2 556.8M583 556.6 L584.4 556.5 L585.8 556 L587.2 557.2 L588.6 556.3 L590 557.8 L591.4 558.3 L592.8 557.8 L594.2 558.2 L595.6 556.8M598.4 556.5 L599.8 556.9 L601.2 556.8 L602.6 556.7 L604 556.6 L605.4 556.4M618 554 L619.4 554.3 L620.8 554.2 L622.2 554.3 L623.6 554.3M625 556.1 L626.4 555.1 L627.8 556.3 L629.2 556.6M640.4 555.2 L641.8 555.2 L643.2 555.4 L644.6 555.6M646 555.2 L647.4 556 L648.8 554.7 L650.2 554.9 L651.6 553.7 L653 553.5 L654.4 553.4 L655.8 553.5M647.4 557.3 L648.8 556 L650.2 556.2 L651.6 555 L653 554.8 L654.4 554.7M657.2 554.1 L658.6 554.4 L660 554.4 L661.4 554.9M662.8 554.6 L664.2 555.9 L665.6 552.8 L667 553.1 L668.4 552.2 L669.8 551 L671.2 552.2 L672.6 551 L674 551.5 L675.4 551 L676.8 552M664.2 557.2 L665.6 554.1 L667 554.4 L668.4 553.5 L669.8 552.3 L671.2 553.5 L672.6 552.3 L674 552.8 L675.4 552.3M678.2 553.1 L679.6 553.5 L681 553.6 L682.4 553.4 L683.8 555.1 L685.2 553.7 L686.6 552.7M689.4 552.9 L690.8 553.2 L692.2 554.3 L693.6 554 L695 552.2 L696.4 551.8 L697.8 551.5 L699.2 552 L700.6 551.9 L702 551.7 L703.4 551.1 L704.8 552.1 L706.2 552.4 L707.6 551.7 L709 552.7M742.6 549.7 L744 550.3 L745.4 550.1 L746.8 551.4 L748.2 552.1 L749.6 551.6M752.4 550.9 L753.8 549.8 L755.2 550.3 L756.6 549.6 L758 550.1 L759.4 549.4 L760.8 549.8 L762.2 548.9 L763.6 549.1 L765 548.8 L766.4 549.4 L767.8 550.1 L769.2 549.5M787.4 548.5 L788.8 548.9 L790.2 548.2 L791.6 547.9 L793 547M788.8 550.2 L790.2 549.5 L791.6 549.2M794.4 548.6 L795.8 548.2 L797.2 547.6 L798.6 547.6 L800 548.1 L801.4 548.2 L802.8 548.5 L804.2 548.1 L805.6 549 L807 549.7 L808.4 549M809.8 547.1 L811.2 546.8 L812.6 546.7 L814 545.8 L815.4 545.6 L816.8 545.8 L818.2 545.6 L819.6 545.8 L821 545.3 L822.4 545 L823.8 546.5 L825.2 545.8M811.2 548.1 L812.6 548 L814 547.1 L815.4 546.9 L816.8 547.1 L818.2 546.9 L819.6 547.1 L821 546.6 L822.4 546.3 L823.8 547.8M826.6 546.9 L828 547.2 L829.4 547.3 L830.8 547.9 L832.2 548.3 L833.6 546.9 L835 547.3 L836.4 546.4M839.2 545.8 L840.6 545.3 L842 545.3 L843.4 545.3M863 543.2 L864.4 543.9 L865.8 543.3 L867.2 544.6 L868.6 545 L870 546.7 L871.4 546.1 L872.8 545.6 L874.2 544.8 L875.6 545.6M864.4 545.2 L865.8 544.6 L867.2 545.9 L868.6 546.3 L870 548 L871.4 547.4 L872.8 546.9 L874.2 546.1M875.6 545.6 L877 545.4 L878.4 544.6 L879.8 544.7 L881.2 545.1 L882.6 544.1 L884 544.2 L885.4 544.3 L886.8 544.3 L888.2 544.6 L889.6 545.2 L891 545.1 L892.4 545.5 L893.8 546.3 L895.2 545.3 L896.6 544.4 L898 543.1M899.4 544 L900.8 544.5 L902.2 544.6 L903.6 543.9 L905 543.8 L906.4 543.6M909.2 544.4 L910.6 543.2 L912 544.3 L913.4 544.4 L914.8 543.5 L916.2 543.4M927.4 542.6 L928.8 542.7 L930.2 542.3M933 543 L934.4 543 L935.8 543.5 L937.2 543.6 L938.6 544.2M941.4 541.7 L942.8 541.2 L944.2 541.8 L945.6 541.1M948.4 542.9 L949.8 544.4 L951.2 542.4 L952.6 541.4 L954 541.1 L955.4 540.8M958.2 541.5 L959.6 542.9 L961 543.7M962.4 540 L963.8 539.5 L965.2 539.9 L966.6 539.6 L968 538.8 L969.4 539.7 L970.8 540 L972.2 541.4 L973.6 540.6 L975 540 L976.4 540.7M963.8 540.8 L965.2 541.2 L966.6 540.9 L968 540.1 L969.4 541 L970.8 541.3 L972.2 542.7 L973.6 541.9 L975 541.3M564.8 560.7 L566.2 560.6 L567.6 560.9 L569 559.7M571.8 560.9 L573.2 561 L574.6 561.3M576 562.8 L577.4 563.1 L578.8 563 L580.2 562.5 L581.6 563.1 L583 563.5 L584.4 562.9 L585.8 562.3 L587.2 561.6M577.4 561.8 L578.8 561.7 L580.2 561.2 L581.6 561.8 L583 562.2 L584.4 561.6 L585.8 561M601.2 560.6 L602.6 560.8 L604 559.8 L605.4 560.5 L606.8 559.6 L608.2 558.4 L609.6 559.4 L611 559.3 L612.4 560.6 L613.8 560.2 L615.2 559.3 L616.6 559.7 L618 560.4 L619.4 559.8M602.6 559.5 L604 558.5 L605.4 559.2 L606.8 558.3 L608.2 557.1 L609.6 558.1 L611 558 L612.4 559.3 L613.8 558.9 L615.2 558 L616.6 558.4 L618 559.1M619.4 559.8 L620.8 559.3 L622.2 560.1 L623.6 559.4 L625 559.4 L626.4 559 L627.8 557.2 L629.2 560 L630.6 560.5 L632 560.5 L633.4 561.3 L634.8 561.4M620.8 558 L622.2 558.8 L623.6 558.1 L625 558.1 L626.4 557.7 L627.8 555.9 L629.2 558.7 L630.6 559.2 L632 559.2 L633.4 560M636.2 559.9 L637.6 559.8 L639 559.6 L640.4 558.9 L641.8 560 L643.2 558.4 L644.6 558.2 L646 558.2 L647.4 556.6M650.2 557.8 L651.6 558.3 L653 558.9 L654.4 559.3 L655.8 558.2 L657.2 558.2 L658.6 558.2 L660 557.4 L661.4 558.3 L662.8 557 L664.2 556 L665.6 555.3M667 557.4 L668.4 558 L669.8 558.5 L671.2 558.8 L672.6 558.1 L674 558.4 L675.4 558.3 L676.8 557.8 L678.2 558.4 L679.6 557.2 L681 557.5 L682.4 556.7 L683.8 556.5 L685.2 557.7M668.4 556.7 L669.8 557.2 L671.2 557.5 L672.6 556.8 L674 557.1 L675.4 557 L676.8 556.5 L678.2 557.1 L679.6 555.9 L681 556.2 L682.4 555.4 L683.8 555.2M686.6 557.5 L688 557.5 L689.4 557M692.2 555.6 L693.6 554.8 L695 555.3 L696.4 555.3 L697.8 556.2 L699.2 556.2 L700.6 556.1 L702 555.9 L703.4 556.9 L704.8 556.4 L706.2 555.7M707.6 556.3 L709 556.8 L710.4 555.3 L711.8 555.9 L713.2 556.9 L714.6 557 L716 557.2 L717.4 556.7 L718.8 557.5 L720.2 556.6 L721.6 557.5 L723 556.5M709 555.5 L710.4 554 L711.8 554.6 L713.2 555.6 L714.6 555.7 L716 555.9 L717.4 555.4 L718.8 556.2 L720.2 555.3 L721.6 556.2M724.4 555.8 L725.8 555.9 L727.2 556.1 L728.6 555.7 L730 554.3 L731.4 554.2 L732.8 554.1 L734.2 553.8 L735.6 552.7 L737 553.4 L738.4 552.8 L739.8 553.4 L741.2 553.8M744 552.7 L745.4 553.5 L746.8 551.9 L748.2 551.3 L749.6 552M762.2 553.5 L763.6 552.2 L765 552.2 L766.4 553.2 L767.8 552.3 L769.2 552.2M770.6 552.6 L772 553.3 L773.4 552.2 L774.8 551.7 L776.2 553.6 L777.6 553.6 L779 552.8 L780.4 552.8 L781.8 554.2M783.2 552.8 L784.6 552.4 L786 551.4 L787.4 550.5 L788.8 550.6 L790.2 550.6M811.2 550.8 L812.6 550 L814 550.4 L815.4 551.6 L816.8 551.4 L818.2 551.1 L819.6 551.3 L821 550.4 L822.4 550.2 L823.8 550 L825.2 551 L826.6 549.4 L828 549.6M830.8 548.4 L832.2 548.1 L833.6 548.2 L835 549.6 L836.4 549.8 L837.8 550 L839.2 550.1M842 551 L843.4 550.8 L844.8 549.6 L846.2 550.3 L847.6 549.4 L849 548.8 L850.4 547.7 L851.8 548.8M854.6 548.9 L856 549.3 L857.4 549.7 L858.8 548.9 L860.2 549.1 L861.6 549.3 L863 549.3 L864.4 549.1 L865.8 548.4 L867.2 548.5M879.8 550.4 L881.2 550.3 L882.6 549.1 L884 548.9 L885.4 549 L886.8 549.1 L888.2 548.5M906.4 547.3 L907.8 547 L909.2 547.1 L910.6 547 L912 547.1 L913.4 545.8 L914.8 545.8 L916.2 545.9 L917.6 545.6 L919 545.7M927.4 546.8 L928.8 546.3 L930.2 546.9 L931.6 546.9 L933 545.6 L934.4 545.8 L935.8 545.4 L937.2 544.2 L938.6 544.4 L940 546.5M942.8 546.6 L944.2 546.5 L945.6 546.4 L947 545.5 L948.4 545.5 L949.8 543.9M969.4 544.1 L970.8 542.9 L972.2 543.6 L973.6 545.4 L975 545.5M563.4 614.5 L564.8 613.7 L566.2 614.4 L567.6 615 L569 615.6 L570.4 614.3 L571.8 613.7 L573.2 613.4 L574.6 613.9 L576 613.9 L577.4 613.7 L578.8 612.6M564.8 615 L566.2 615.7 L567.6 616.3 L569 616.9 L570.4 615.6 L571.8 615 L573.2 614.7 L574.6 615.2 L576 615.2 L577.4 615M580.2 614.9 L581.6 615.2 L583 614.4M585.8 617 L587.2 617.2 L588.6 615.9 L590 616 L591.4 615.4 L592.8 614.6M594.2 613.4 L595.6 614.3 L597 613.4 L598.4 613.6 L599.8 614.8 L601.2 614.6 L602.6 614 L604 612.4M604 612.4 L605.4 613.1 L606.8 612.3 L608.2 612.5 L609.6 612.5 L611 611 L612.4 610.9 L613.8 611.2M605.4 614.4 L606.8 613.6 L608.2 613.8 L609.6 613.8 L611 612.3 L612.4 612.2M615.2 613.6 L616.6 613.4 L618 613.5 L619.4 612.9 L620.8 613.3 L622.2 613.6 L623.6 613.9 L625 615 L626.4 613.3 L627.8 613.1 L629.2 613.3M668.4 611.8 L669.8 612 L671.2 612.1 L672.6 612.4 L674 612.7 L675.4 612.1 L676.8 611.6 L678.2 611 L679.6 610.8 L681 610.1 L682.4 610.7 L683.8 609.6M686.6 610 L688 609.3 L689.4 609.5 L690.8 610.7M704.8 609.9 L706.2 612.6 L707.6 610.3 L709 611 L710.4 610.1 L711.8 610.4 L713.2 609.5 L714.6 610.5 L716 609.9 L717.4 610.4 L718.8 610.5 L720.2 609.6M723 608.8 L724.4 608.5 L725.8 609.5 L727.2 608.9 L728.6 608.3 L730 608.7 L731.4 608 L732.8 608 L734.2 607.8 L735.6 609 L737 609.2 L738.4 608.8 L739.8 609.3 L741.2 608.4 L742.6 608.9M794.4 605.9 L795.8 606.5 L797.2 607.3 L798.6 608 L800 607.4 L801.4 606.1 L802.8 606.3 L804.2 604.8 L805.6 604.7 L807 605 L808.4 604.6 L809.8 604.2 L811.2 604.2 L812.6 604.1 L814 603.9M816.8 604 L818.2 604.6 L819.6 605.1 L821 605M843.4 604.2 L844.8 605.1 L846.2 605.2 L847.6 606.9 L849 606.1 L850.4 605.5 L851.8 604.1M853.2 603.1 L854.6 602.9 L856 602.9 L857.4 602.8 L858.8 601.5 L860.2 602.2M854.6 604.2 L856 604.2 L857.4 604.1 L858.8 602.8M868.6 603.3 L870 603.8 L871.4 603.7 L872.8 604.8 L874.2 605.1 L875.6 604.9 L877 603.8 L878.4 603.3 L879.8 603.1 L881.2 602.6 L882.6 602.1M902.2 602 L903.6 602.1 L905 602.4 L906.4 601.6 L907.8 601 L909.2 601.6 L910.6 601.7 L912 601.5 L913.4 602.1 L914.8 602.1 L916.2 603M919 602.8 L920.4 602.4 L921.8 602.5 L923.2 601.7 L924.6 601.5 L926 601 L927.4 601.2 L928.8 601.7 L930.2 601.7 L931.6 601 L933 600.7 L934.4 602.1 L935.8 602.1 L937.2 602.6M940 602.3 L941.4 601.6 L942.8 601.4 L944.2 601.1 L945.6 600 L947 599.6 L948.4 600.5 L949.8 600.5 L951.2 600.7M564.8 619.9 L566.2 618 L567.6 618.2M570.4 618.2 L571.8 618.4 L573.2 619.9 L574.6 619.7 L576 619.5 L577.4 619.3M595.6 618.2 L597 618.1 L598.4 618 L599.8 617.7 L601.2 616.9 L602.6 615.9 L604 617 L605.4 617.8 L606.8 617.9 L608.2 617.7 L609.6 617.2 L611 617.7 L612.4 618.4 L613.8 618.5 L615.2 616.9M618 616.9 L619.4 617.7 L620.8 616.1 L622.2 616.7M623.6 616.5 L625 615.7 L626.4 616.3 L627.8 617.1 L629.2 617.7M625 614.4 L626.4 615 L627.8 615.8M647.4 615.4 L648.8 615.4 L650.2 614.9 L651.6 615.1 L653 614.4 L654.4 613.3 L655.8 614M658.6 614.2 L660 615.6 L661.4 616.1 L662.8 616.2 L664.2 615 L665.6 615.7 L667 614.9M669.8 614.6 L671.2 615 L672.6 613.9 L674 613.9 L675.4 611.7 L676.8 612.5 L678.2 613.8 L679.6 614.5 L681 613.9 L682.4 614.3 L683.8 614.9M685.2 615.6 L686.6 614.8 L688 615.3 L689.4 614.7 L690.8 615.3 L692.2 613.5M686.6 613.5 L688 614 L689.4 613.4 L690.8 614M693.6 612.6 L695 611.2 L696.4 612 L697.8 612.8M700.6 613.5 L702 612.8 L703.4 612.2 L704.8 611.9 L706.2 612.6 L707.6 613.4 L709 613.9 L710.4 614.8 L711.8 614.7 L713.2 614 L714.6 613.6 L716 614.2 L717.4 612.6 L718.8 610.6 L720.2 611.6M728.6 611.9 L730 611.4 L731.4 611.8 L732.8 611.4 L734.2 612 L735.6 611.1M738.4 610.1 L739.8 610.1 L741.2 610.5 L742.6 609.6 L744 609.8 L745.4 610 L746.8 611.2 L748.2 610.6 L749.6 611.5 L751 611 L752.4 610.8 L753.8 610.7M755.2 612.6 L756.6 612.5 L758 612 L759.4 611.8 L760.8 611.6 L762.2 611.7 L763.6 611 L765 612 L766.4 610.6 L767.8 611.8M756.6 611.2 L758 610.7 L759.4 610.5 L760.8 610.3 L762.2 610.4 L763.6 609.7 L765 610.7 L766.4 609.3M769.2 610.3 L770.6 611.6 L772 611.8 L773.4 610.8M776.2 611.7 L777.6 610.5 L779 610.9 L780.4 609.5 L781.8 609.1 L783.2 610.2 L784.6 610.6 L786 610.5 L787.4 610.7 L788.8 610.7 L790.2 610.8 L791.6 610.3M812.6 609.6 L814 609.2 L815.4 609.2M816.8 610.5 L818.2 610.2 L819.6 610.6 L821 608.7 L822.4 609.2 L823.8 607.1 L825.2 609.2 L826.6 609.6 L828 608.9 L829.4 610.3M818.2 608.9 L819.6 609.3 L821 607.4 L822.4 607.9 L823.8 605.8 L825.2 607.9 L826.6 608.3 L828 607.6M830.8 609.1 L832.2 608.6 L833.6 608.1 L835 608.1M837.8 608.2 L839.2 608.2 L840.6 608.8 L842 608.1 L843.4 607.8 L844.8 607.5 L846.2 607.5 L847.6 606 L849 607.2 L850.4 608 L851.8 607.6M854.6 607.6 L856 608.4 L857.4 608.1 L858.8 608.8 L860.2 608.2 L861.6 608.9 L863 608.2 L864.4 607.6 L865.8 607.1 L867.2 607.7 L868.6 607 L870 607.5M871.4 608.6 L872.8 607.7 L874.2 606.6 L875.6 608.1 L877 608.1 L878.4 607.9 L879.8 607.9M879.8 607.9 L881.2 608.6 L882.6 608.4 L884 609 L885.4 608.6 L886.8 608.7 L888.2 607.7 L889.6 607.5 L891 607 L892.4 606.6 L893.8 605.1 L895.2 605.6 L896.6 605.3 L898 605.9 L899.4 606.3M900.8 604.3 L902.2 605.2 L903.6 604.2 L905 605.5 L906.4 604 L907.8 604 L909.2 604.9 L910.6 604 L912 604.8 L913.4 603.4M916.2 602.4 L917.6 603.9 L919 604.3 L920.4 604.3 L921.8 604.5 L923.2 604.8 L924.6 605.5 L926 604.2 L927.4 605.5 L928.8 604.8 L930.2 605 L931.6 604.3M966.6 602.7 L968 602.3 L969.4 603.3 L970.8 603.4 L972.2 604 L973.6 604.2 L975 603.5 L976.4 604M968 601 L969.4 602 L970.8 602.1 L972.2 602.7 L973.6 602.9 L975 602.2M564.8 634.7 L566.2 634.1 L567.6 634.5 L569 634.9 L570.4 634 L571.8 634.9 L573.2 635.2 L574.6 635.6 L576 635.7 L577.4 635.5 L578.8 636.4 L580.2 636.7M608.2 633.3 L609.6 633.4 L611 632.7 L612.4 633 L613.8 633.4 L615.2 633.9M618 635.9 L619.4 634.3 L620.8 633.7M622.2 632 L623.6 631.5 L625 630.9 L626.4 632.6 L627.8 633.8 L629.2 632.4 L630.6 631 L632 631.2M633.4 632.1 L634.8 632.3 L636.2 632.1 L637.6 631.9 L639 631.4 L640.4 630.9 L641.8 631M644.6 632.1 L646 631.6 L647.4 631.5 L648.8 632.7 L650.2 632.5 L651.6 632.5 L653 632.1 L654.4 631.6 L655.8 631.2 L657.2 630.6 L658.6 630.8 L660 630.3M697.8 629.6 L699.2 629.4 L700.6 630.5 L702 630.5 L703.4 631.8 L704.8 631.1 L706.2 630.4 L707.6 630.5 L709 630.7 L710.4 630.2 L711.8 629.2M732.8 629.4 L734.2 629.3 L735.6 629.7 L737 628.7 L738.4 628.4 L739.8 628 L741.2 627.4 L742.6 628.1 L744 628.2 L745.4 626.8M748.2 627.1 L749.6 628 L751 628 L752.4 628 L753.8 627.7M755.2 626.3 L756.6 627.5 L758 628.1 L759.4 627.6 L760.8 626.3 L762.2 626.8 L763.6 626 L765 626.4 L766.4 626.2M756.6 628.8 L758 629.4 L759.4 628.9 L760.8 627.6 L762.2 628.1 L763.6 627.3 L765 627.7M767.8 627.3 L769.2 627 L770.6 626.6 L772 626.6 L773.4 627 L774.8 626.9 L776.2 627.2 L777.6 628 L779 628.5 L780.4 629.2 L781.8 628.4M805.6 625.9 L807 625 L808.4 626.1 L809.8 625.8 L811.2 625.9 L812.6 625.6 L814 624.8 L815.4 623.4 L816.8 624.2 L818.2 625.1M807 626.3 L808.4 627.4 L809.8 627.1 L811.2 627.2 L812.6 626.9 L814 626.1 L815.4 624.7 L816.8 625.5M818.2 625.1 L819.6 625.5 L821 622.8 L822.4 622.5 L823.8 623.1 L825.2 621.7M819.6 626.8 L821 624.1 L822.4 623.8 L823.8 624.4M826.6 622.9 L828 623.3 L829.4 623 L830.8 623 L832.2 624 L833.6 624.9 L835 624.9 L836.4 624.5 L837.8 625.2 L839.2 623.6 L840.6 624.6 L842 623.6 L843.4 624.1 L844.8 623.3 L846.2 623.3M849 624.1 L850.4 624.3 L851.8 623.9 L853.2 624.3 L854.6 625.2 L856 625.8 L857.4 624.9 L858.8 623.7 L860.2 623.1 L861.6 623.8 L863 624.1 L864.4 623.9M867.2 625.4 L868.6 624.2 L870 624.7 L871.4 623 L872.8 624 L874.2 623.4 L875.6 623.5M877 622.5 L878.4 622.2 L879.8 622.1 L881.2 622.2 L882.6 621.3 L884 622.7 L885.4 622.5 L886.8 622.1 L888.2 622.9 L889.6 624.1 L891 621.8 L892.4 620.9 L893.8 620.6 L895.2 619.9 L896.6 619.8 L898 620.2M878.4 623.5 L879.8 623.4 L881.2 623.5 L882.6 622.6 L884 624 L885.4 623.8 L886.8 623.4 L888.2 624.2 L889.6 625.4 L891 623.1 L892.4 622.2 L893.8 621.9 L895.2 621.2 L896.6 621.1M898 620.2 L899.4 620.5 L900.8 620 L902.2 620.6 L903.6 620.3 L905 621 L906.4 622.5 L907.8 621.6 L909.2 621.7 L910.6 620.5 L912 619.9 L913.4 620 L914.8 620.1M899.4 621.8 L900.8 621.3 L902.2 621.9 L903.6 621.6 L905 622.3 L906.4 623.8 L907.8 622.9 L909.2 623 L910.6 621.8 L912 621.2 L913.4 621.3M914.8 620.1 L916.2 619.7 L917.6 620.3 L919 620.1 L920.4 619.6 L921.8 619.9 L923.2 619.4 L924.6 619.9 L926 619.3 L927.4 620.1 L928.8 620.2 L930.2 621.6 L931.6 622.3 L933 620.5 L934.4 621.3M916.2 621 L917.6 621.6 L919 621.4 L920.4 620.9 L921.8 621.2 L923.2 620.7 L924.6 621.2 L926 620.6 L927.4 621.4 L928.8 621.5 L930.2 622.9 L931.6 623.6 L933 621.8M935.8 621.4 L937.2 621.4 L938.6 621.8 L940 621.9M942.8 621 L944.2 621.6 L945.6 622 L947 621.1 L948.4 620.1 L949.8 620.6 L951.2 619.2M952.6 618.7 L954 617.5 L955.4 618.4 L956.8 617.8 L958.2 618.1 L959.6 618.5 L961 618.7 L962.4 618.3 L963.8 617.9 L965.2 618.6 L966.6 620.2 L968 619.6M954 618.8 L955.4 619.7 L956.8 619.1 L958.2 619.4 L959.6 619.8 L961 620 L962.4 619.6 L963.8 619.2 L965.2 619.9 L966.6 621.5M969.4 619.9 L970.8 619 L972.2 618.5 L973.6 619.2M563.4 641.1 L564.8 640.2 L566.2 640.4 L567.6 641.4 L569 641 L570.4 640.1 L571.8 640 L573.2 639.3 L574.6 639.8 L576 639 L577.4 639 L578.8 636.7M578.8 636.7 L580.2 638.6 L581.6 638.7 L583 638.9 L584.4 639.2M580.2 637.3 L581.6 637.4 L583 637.6M584.4 639.2 L585.8 640.2 L587.2 639.3 L588.6 639.5 L590 639.9 L591.4 639 L592.8 638.8 L594.2 638.9 L595.6 638.3 L597 638.7 L598.4 638.2 L599.8 636.7 L601.2 636.9 L602.6 638.1 L604 637.4 L605.4 637.7 L606.8 637.9M585.8 638.9 L587.2 638 L588.6 638.2 L590 638.6 L591.4 637.7 L592.8 637.5 L594.2 637.6 L595.6 637 L597 637.4 L598.4 636.9 L599.8 635.4 L601.2 635.6 L602.6 636.8 L604 636.1 L605.4 636.4M608.2 637.1 L609.6 636.2 L611 636.9 L612.4 636.4 L613.8 636.1 L615.2 636.5 L616.6 635.5 L618 634.7 L619.4 635.7 L620.8 635.6 L622.2 637.2M625 636.1 L626.4 635.4 L627.8 634.1 L629.2 635.1 L630.6 635.1 L632 635.6 L633.4 635.6 L634.8 636 L636.2 635.7 L637.6 636.3 L639 636.6M641.8 635.3 L643.2 636.1 L644.6 635.3 L646 635.7 L647.4 635.6M661.4 635.1 L662.8 634.4 L664.2 633.3 L665.6 632.9 L667 634.9 L668.4 635.5 L669.8 635.5M671.2 637.2 L672.6 636.3 L674 635.1 L675.4 633.1 L676.8 635 L678.2 635.2 L679.6 635 L681 635.6 L682.4 634.9 L683.8 635.5 L685.2 635.4 L686.6 635.2 L688 635.3 L689.4 634.5 L690.8 633.2M672.6 635 L674 633.8 L675.4 631.8 L676.8 633.7 L678.2 633.9 L679.6 633.7 L681 634.3 L682.4 633.6 L683.8 634.2 L685.2 634.1 L686.6 633.9 L688 634 L689.4 633.2M692.2 631 L693.6 631.6 L695 633.1 L696.4 633.1 L697.8 633.3 L699.2 632.1 L700.6 631.6 L702 631.5 L703.4 633.7M717.4 632.8 L718.8 632.2 L720.2 631.7 L721.6 632 L723 632.3 L724.4 632.5 L725.8 633.6 L727.2 633.2M728.6 634 L730 634.7 L731.4 633.7 L732.8 633.9 L734.2 632.4 L735.6 631.7 L737 632.2 L738.4 631.9 L739.8 631.9 L741.2 632.4 L742.6 633.4 L744 633.3 L745.4 633.4 L746.8 632.7M730 633.4 L731.4 632.4 L732.8 632.6 L734.2 631.1 L735.6 630.4 L737 630.9 L738.4 630.6 L739.8 630.6 L741.2 631.1 L742.6 632.1 L744 632 L745.4 632.1M755.2 630.9 L756.6 629.3 L758 629.5 L759.4 628.8 L760.8 629.4 L762.2 629.4 L763.6 630.3 L765 630.3 L766.4 629.5 L767.8 630.2 L769.2 630 L770.6 630.2 L772 630 L773.4 629.5 L774.8 628.7M786 632.5 L787.4 631.9 L788.8 631.9 L790.2 631.4 L791.6 632.2 L793 631 L794.4 629.8 L795.8 629.3 L797.2 629.6 L798.6 630.7 L800 629.8M801.4 629.5 L802.8 629.5 L804.2 629.6 L805.6 628.6M808.4 628.6 L809.8 628.2 L811.2 628 L812.6 629.7 L814 630.7 L815.4 630.7 L816.8 630.7 L818.2 629.6 L819.6 627.7 L821 626.6 L822.4 627.8 L823.8 627.6 L825.2 628.5M826.6 628.9 L828 629.9 L829.4 629.7 L830.8 629.6 L832.2 628.6 L833.6 627.3 L835 626.5 L836.4 626.7 L837.8 627.6 L839.2 627.6 L840.6 628.3 L842 627.4 L843.4 627.7 L844.8 628.4 L846.2 627.6M828 628.6 L829.4 628.4 L830.8 628.3 L832.2 627.3 L833.6 626 L835 625.2 L836.4 625.4 L837.8 626.3 L839.2 626.3 L840.6 627 L842 626.1 L843.4 626.4 L844.8 627.1M847.6 626.8 L849 625.5 L850.4 626.6 L851.8 625.5 L853.2 624.7 L854.6 624.5 L856 626 L857.4 627.9 L858.8 628.4 L860.2 628.7 L861.6 627.8M864.4 627.3 L865.8 626.2 L867.2 625.6 L868.6 626.1 L870 626.3 L871.4 626.8 L872.8 626.4 L874.2 626.5 L875.6 627.9M896.6 624.8 L898 624.3 L899.4 624.5 L900.8 624.8 L902.2 624.4 L903.6 624.2 L905 623.2 L906.4 622.8M907.8 625.7 L909.2 626 L910.6 626.8 L912 626.2 L913.4 627.4 L914.8 626.3 L916.2 627.1 L917.6 626.9 L919 626.7 L920.4 627 L921.8 626.9 L923.2 625.9 L924.6 625.8M909.2 624.7 L910.6 625.5 L912 624.9 L913.4 626.1 L914.8 625 L916.2 625.8 L917.6 625.6 L919 625.4 L920.4 625.7 L921.8 625.6 L923.2 624.6M926 623.9 L927.4 624 L928.8 623.3 L930.2 623.7 L931.6 622.4 L933 624.2 L934.4 624.5 L935.8 624.1 L937.2 624.2 L938.6 624.6 L940 624.4 L941.4 624 L942.8 623.9M961 623.8 L962.4 622.9 L963.8 622.2 L965.2 622.2 L966.6 620.7 L968 621.3 L969.4 620.9 L970.8 621.6M973.6 621.9 L975 621.7M564.8 463.5 L566.2 464 L567.6 463.5 L569 462.8 L570.4 462.9 L571.8 461.9 L573.2 461.5M576 461.9 L577.4 462.4 L578.8 462.5 L580.2 463 L581.6 463.4 L583 464.1M585.8 462.2 L587.2 462.7 L588.6 463.1 L590 462.4 L591.4 463.2 L592.8 463.4 L594.2 464.2 L595.6 463.3 L597 462.1 L598.4 461.7M601.2 460.8 L602.6 460.7 L604 461.4 L605.4 461.6 L606.8 460.8 L608.2 461.5 L609.6 461.3 L611 462.3 L612.4 461.6M615.2 461 L616.6 461.1 L618 460.9 L619.4 459.8 L620.8 460.5 L622.2 461 L623.6 461.5 L625 463.6 L626.4 461M629.2 460.6 L630.6 460.2 L632 460.2 L633.4 459.9 L634.8 459.4 L636.2 460.3M639 462.1 L640.4 460.2 L641.8 459.6 L643.2 459.9M646 459.7 L647.4 458.9 L648.8 459.1 L650.2 460.1 L651.6 459.9 L653 460 L654.4 460.6 L655.8 458.7 L657.2 458.2 L658.6 457.9 L660 458.7M662.8 458.9 L664.2 458.6 L665.6 458.8 L667 460.9 L668.4 459M671.2 458.3 L672.6 457.7 L674 457.5 L675.4 458.8 L676.8 458 L678.2 459.1 L679.6 459.6 L681 458.3 L682.4 457.7 L683.8 457.1 L685.2 457.2 L686.6 456.5 L688 456.5 L689.4 457.2 L690.8 457.7M717.4 455 L718.8 455.4 L720.2 454.5 L721.6 455.3 L723 455 L724.4 455.8 L725.8 456.6 L727.2 456.4 L728.6 456.5 L730 456.3 L731.4 456.1 L732.8 455.8 L734.2 456.3 L735.6 457.1M718.8 456.7 L720.2 455.8 L721.6 456.6 L723 456.3 L724.4 457.1 L725.8 457.9 L727.2 457.7 L728.6 457.8 L730 457.6 L731.4 457.4 L732.8 457.1 L734.2 457.6M737 456.8 L738.4 456.7 L739.8 456.2 L741.2 455.6 L742.6 456.6 L744 456.5 L745.4 456M746.8 453.9 L748.2 455.3 L749.6 455.6 L751 455.9 L752.4 455.6 L753.8 454.4 L755.2 454 L756.6 453 L758 452.9 L759.4 452.1M748.2 456.6 L749.6 456.9 L751 457.2 L752.4 456.9 L753.8 455.7 L755.2 455.3 L756.6 454.3 L758 454.2M760.8 453.2 L762.2 453.1 L763.6 454 L765 453.5 L766.4 454.7 L767.8 454.9 L769.2 454.5 L770.6 455.3 L772 455.5M786 453.1 L787.4 453 L788.8 453.7 L790.2 452.9 L791.6 452.9 L793 453 L794.4 452.9 L795.8 453 L797.2 453.7 L798.6 454.7 L800 453.7M564.8 465.6 L566.2 464 L567.6 465.7 L569 466 L570.4 466.2 L571.8 467.5 L573.2 466.9 L574.6 466.6M576 467.9 L577.4 467.8 L578.8 467.4 L580.2 466.5 L581.6 465.1 L583 465.1 L584.4 466.5 L585.8 467 L587.2 467.2 L588.6 466.4 L590 466.3 L591.4 466.1 L592.8 466.4 L594.2 464.8 L595.6 465.4M577.4 466.5 L578.8 466.1 L580.2 465.2 L581.6 463.8 L583 463.8 L584.4 465.2 L585.8 465.7 L587.2 465.9 L588.6 465.1 L590 465 L591.4 464.8 L592.8 465.1 L594.2 463.5M597 463.9 L598.4 465.4 L599.8 465.4 L601.2 465.3 L602.6 465.2 L604 464.2 L605.4 464.8M608.2 464.5 L609.6 463 L611 462.9 L612.4 463.8 L613.8 464 L615.2 464.2M626.4 464 L627.8 464.2 L629.2 464.2 L630.6 465 L632 464.7M634.8 465.2 L636.2 463.9 L637.6 463.2 L639 461.6 L640.4 461.2 L641.8 462.4 L643.2 462.2 L644.6 462.1 L646 462.4 L647.4 462.8M648.8 464 L650.2 463.2 L651.6 462.4 L653 462.4 L654.4 462.2 L655.8 463.7 L657.2 463.1 L658.6 463.8 L660 463 L661.4 464 L662.8 463.3 L664.2 462.4 L665.6 462.9 L667 462.4 L668.4 463.1M669.8 462.8 L671.2 462.6 L672.6 463.3 L674 463.5 L675.4 462.6 L676.8 462.4 L678.2 460.7 L679.6 459.6 L681 460.1 L682.4 461 L683.8 461.2 L685.2 460.5 L686.6 461.1 L688 461.2 L689.4 461.2M692.2 459.8 L693.6 460.6 L695 459.6 L696.4 459.5 L697.8 460.2 L699.2 459.2 L700.6 460.2 L702 459.8 L703.4 460.5 L704.8 460.6M707.6 459.9 L709 459.7 L710.4 457.4M717.4 461.6 L718.8 461.5 L720.2 461.3 L721.6 461.8 L723 460.6 L724.4 460.4 L725.8 459.8 L727.2 459.7 L728.6 460.3 L730 460.2 L731.4 460.2 L732.8 461.3 L734.2 460.8 L735.6 459.4M737 459.3 L738.4 459.7 L739.8 459.2 L741.2 459 L742.6 459 L744 459.7 L745.4 458.9 L746.8 458.5 L748.2 459.5 L749.6 458.2M769.2 457 L770.6 456.5 L772 455.4 L773.4 457.5 L774.8 457.3 L776.2 457.9 L777.6 457.5 L779 457.8 L780.4 456.4M793 457.1 L794.4 456.3 L795.8 455.7 L797.2 454.9 L798.6 454 L800 455.6M808.4 453.8 L809.8 453.8 L811.2 453.7 L812.6 454.8 L814 454.9 L815.4 454.6 L816.8 453.8 L818.2 454.1 L819.6 453.6 L821 453 L822.4 453.3 L823.8 452.6M826.6 453 L828 453.1 L829.4 452.5 L830.8 453.1 L832.2 452.4 L833.6 452.7 L835 452.8 L836.4 452.6 L837.8 452.8M879.4 450.6 L880.8 451.6 L882.2 450.3 L883.6 450.2M885 452.2 L886.4 451.6 L887.8 451.5 L889.2 451.8 L890.6 451.8 L892 452.2 L893.4 452.5 L894.8 451.9 L896.2 451.8 L897.6 451.9 L899 451.2M886.4 450.3 L887.8 450.2 L889.2 450.5 L890.6 450.5 L892 450.9 L893.4 451.2 L894.8 450.6 L896.2 450.5 L897.6 450.6M899 451.2 L900.4 451.5 L901.8 451.4M925.8 448.7 L927.2 447.5 L928.6 448 L930 447.4 L931.4 447M921.6 450.6 L923 450.2 L924.4 449.8 L925.8 449.8 L927.2 450.9 L928.6 450.2 L930 450.7 L931.4 450.6M923 448.9 L924.4 448.5 L925.8 448.5 L927.2 449.6 L928.6 448.9 L930 449.4M587 577.9 L588.4 577.2 L589.8 577.8 L591.2 577.6 L592.6 578.5 L594 578.5 L595.4 577.2 L596.8 577.2 L598.2 577.1 L599.6 577.7 L601 577.1 L602.4 577.2 L603.8 577.3 L605.2 577.6M605.2 577.6 L606.6 577.8 L608 577.5 L609.4 576.6 L610.8 577.5 L612.2 577.7 L613.6 577 L615 577.5 L616.4 577 L617.8 577.3 L619.2 577.1 L620.6 576.6 L622 576.7 L623.4 575.5 L624.8 576.5 L626.2 575.9M596.8 579.3 L598.2 579.3 L599.6 579.7 L601 578.6 L602.4 579.9 L603.8 579.4 L605.2 579.3 L606.6 579.7 L608 579.4 L609.4 578.5 L610.8 578.8 L612.2 579 L613.6 577.9M598.2 578 L599.6 578.4 L601 577.3 L602.4 578.6 L603.8 578.1 L605.2 578 L606.6 578.4 L608 578.1 L609.4 577.2 L610.8 577.5 L612.2 577.7M640.2 577.7 L641.6 577.2 L643 577.3M653.4 575.1 L654.8 575.3 L656.2 575 L657.6 575.3 L659 575.8 L660.4 574.7 L661.8 575.1 L663.2 574.5 L664.6 574 L666 573.8 L667.4 573.7 L668.8 573.2 L670.2 573.1 L671.6 573.8 L673 574.5M654.8 576.6 L656.2 576.3 L657.6 576.6 L659 577.1 L660.4 576 L661.8 576.4 L663.2 575.8 L664.6 575.3 L666 575.1 L667.4 575 L668.8 574.5 L670.2 574.4 L671.6 575.1M646.4 576.2 L647.8 576.2 L649.2 576 L650.6 576.7 L652 576.3 L653.4 575.9 L654.8 576.5 L656.2 576.1 L657.6 576.5 L659 575.8 L660.4 575.2 L661.8 575M677.2 575.2 L678.6 576 L680 577.1 L681.4 576 L682.8 576 L684.2 576.1 L685.6 575.9 L687 576.4 L688.4 576.4 L689.8 575.4 L691.2 576M678.6 574.7 L680 575.8 L681.4 574.7 L682.8 574.7 L684.2 574.8 L685.6 574.6 L687 575.1 L688.4 575.1 L689.8 574.1M691.2 576 L692.6 575.8 L694 576.1 L695.4 575.7 L696.8 575.1 L698.2 575.9 L699.6 576.1M692.6 574.5 L694 574.8 L695.4 574.4 L696.8 573.8 L698.2 574.6M719.8 573.6 L721.2 572.7 L722.6 572.9 L724 573.8 L725.4 573.4 L726.8 572.3 L728.2 573.1 L729.6 572.6 L731 571.9 L732.4 572.8M740.8 571.6 L742.2 572.5 L743.6 572.2 L745 571.8 L746.4 571.5 L747.8 570.7 L749.2 571.1 L750.6 571 L752 570.7 L753.4 572 L754.8 572.4 L756.2 571.6 L757.6 572.5 L759 572 L760.4 571.6M763.2 571.1 L764.6 571.1 L766 570.7 L767.4 571.1 L768.8 571.1 L770.2 571.9 L771.6 571.8 L773 572.1 L774.4 571.6 L775.8 570.6 L777.2 571.1 L778.6 569.7 L780 569.7 L781.4 569.7 L782.8 569.1M726.8 571.9 L728.2 572.4 L729.6 572.2 L731 571.3 L732.4 571.2 L733.8 571.8 L735.2 572.2 L736.6 572.4 L738 571.3 L739.4 571.3 L740.8 572 L742.2 571.1M760.4 572.8 L761.8 572.8 L763.2 573.3 L764.6 573.6 L766 573.5 L767.4 573.2 L768.8 572.3 L770.2 572.7 L771.6 572.2 L773 572.4M790 568.7 L791.4 568.5 L792.8 568.9 L794.2 569.2 L795.6 568.9 L797 569.4 L798.4 569.3 L799.8 568.9 L801.2 568.4 L802.6 568.6 L804 568.4M805.4 568.6 L806.8 569.4 L808.2 569 L809.6 568.2 L811 568.7 L812.4 568.4 L813.8 568.7 L815.2 568.3 L816.6 568.1 L818 569.4M828.4 568.8 L829.8 568.6 L831.2 568.9 L832.6 568.2 L834 568.4 L835.4 569 L836.8 568.8M827 570.6 L828.4 569.8 L829.8 570.6 L831.2 569.8 L832.6 569.9 L834 569.6 L835.4 569.6 L836.8 569.5 L838.2 569.3 L839.6 569.2 L841 569.1M875 565 L876.4 565.9 L877.8 564.8 L879.2 565.5 L880.6 565.1 L882 565.8 L883.4 565 L884.8 565.3 L886.2 567.3 L887.6 566.3 L889 565.4M876.4 567.2 L877.8 566.1 L879.2 566.8 L880.6 566.4 L882 567.1 L883.4 566.3 L884.8 566.6 L886.2 568.6 L887.6 567.6M884.8 566.7 L886.2 566.5 L887.6 566.4M905.4 566.6 L906.8 566.2 L908.2 565.6M939 562.7 L940.4 561.9 L941.8 561.8 L943.2 561.9 L944.6 562.6 L946 563.8 L947.4 562.7 L948.8 563.3 L950.2 562.5M951.6 563.3 L953 564.4 L954.4 563.4 L955.8 563.5 L957.2 563.4M955.8 563.2 L957.2 563.3M967 565.6 L968.4 564.6 L969.8 565.3 L971.2 565.4 L972.6 565.2 L974 564.4 L975.4 563.4M968.4 563.3 L969.8 564 L971.2 564.1 L972.6 563.9 L974 563.1M563.4 594.9 L564.8 594.8 L566.2 595.8 L567.6 595.7 L569 597.1 L570.4 595.4 L571.8 595.6M573.2 596.9 L574.6 596.9 L576 596.3 L577.4 597 L578.8 596.5 L580.2 597.5 L581.6 595.5 L583 595.1 L584.4 594.6 L585.8 594.5 L587.2 595.9 L588.6 595.3 L590 596.3 L591.4 594.9M594.2 594.3 L595.6 594.1 L597 594.8 L598.4 594.4 L599.8 594.3 L601.2 594.8 L602.6 594.6M605.4 595.3 L606.8 594.9 L608.2 594.7M611 593.7 L612.4 593.3 L613.8 593.3 L615.2 594.3 L616.6 593.6 L618 595.9 L619.4 595.5 L620.8 593.7 L622.2 594.7 L623.6 593.9 L625 594.1 L626.4 594.2 L627.8 593.3 L629.2 593.7M630.6 592.7 L632 592.6 L633.4 593.4 L634.8 593.4 L636.2 592.7 L637.6 593 L639 593 L640.4 592.5 L641.8 592 L643.2 592.3 L644.6 592.5 L646 593.3 L647.4 592.6M632 593.9 L633.4 594.7 L634.8 594.7 L636.2 594 L637.6 594.3 L639 594.3 L640.4 593.8 L641.8 593.3 L643.2 593.6 L644.6 593.8 L646 594.6M667 590.5 L668.4 590.1 L669.8 590.9 L671.2 589.7 L672.6 589.7 L674 589.9 L675.4 590.2M668.4 591.4 L669.8 592.2 L671.2 591 L672.6 591 L674 591.2M676.8 591.5 L678.2 591.4 L679.6 592.2 L681 591.8 L682.4 593.1 L683.8 591.9 L685.2 592.2 L686.6 591.8 L688 591.7 L689.4 590.5 L690.8 591.4 L692.2 593.3 L693.6 591.6M706.2 589.9 L707.6 589.8 L709 589.7 L710.4 590 L711.8 588.7 L713.2 590.6 L714.6 592.6 L716 591 L717.4 591.8 L718.8 590.7 L720.2 591.2M723 590.4 L724.4 590.5 L725.8 591.4 L727.2 591.7 L728.6 592.7 L730 591 L731.4 591.2 L732.8 590.7 L734.2 590.4M752.4 588.8 L753.8 589.2 L755.2 589.5 L756.6 590.3 L758 590.5 L759.4 589.6 L760.8 589.4 L762.2 589.6M765 588.8 L766.4 589.6 L767.8 589.2M564.8 598.2 L566.2 598.3 L567.6 598.4 L569 596.9 L570.4 597.9 L571.8 598.5 L573.2 598.9 L574.6 598.4 L576 597.9 L577.4 598.3M580.2 596.1 L581.6 597 L583 598.1 L584.4 597.7 L585.8 598.5 L587.2 597.5M590 596.5 L591.4 597.8 L592.8 597 L594.2 597.9 L595.6 598 L597 596.8 L598.4 597.5M611 596.9 L612.4 597.4 L613.8 596.1M634.8 596.2 L636.2 595.8 L637.6 596.5 L639 596.2 L640.4 596.6 L641.8 596.8 L643.2 597.2 L644.6 595.9 L646 596.1 L647.4 595.4M648.8 594 L650.2 594.4 L651.6 595.1M654.4 596.2 L655.8 596.6 L657.2 596.2 L658.6 595.6M660 597.8 L661.4 596.3 L662.8 596 L664.2 595.5 L665.6 594.4 L667 594.8 L668.4 594.8 L669.8 595.6M671.2 594.2 L672.6 594.5 L674 595 L675.4 594 L676.8 594 L678.2 593.7 L679.6 593.1M681 593.8 L682.4 593.1 L683.8 595 L685.2 594.6 L686.6 595.1 L688 595.5 L689.4 594.4 L690.8 594.8 L692.2 593.4 L693.6 592.5 L695 593.9 L696.4 594.3 L697.8 593.3 L699.2 593.1 L700.6 593.6 L702 593.4 L703.4 592.4M682.4 591.8 L683.8 593.7 L685.2 593.3 L686.6 593.8 L688 594.2 L689.4 593.1 L690.8 593.5 L692.2 592.1 L693.6 591.2 L695 592.6 L696.4 593 L697.8 592 L699.2 591.8 L700.6 592.3 L702 592.1M725.8 591.7 L727.2 591 L728.6 590.4 L730 591M731.4 593.2 L732.8 592.9 L734.2 593.1 L735.6 593.9 L737 594.3 L738.4 592.9 L739.8 593.5 L741.2 592.8 L742.6 592.3 L744 591.7 L745.4 591.7 L746.8 591.8 L748.2 592.2M732.8 591.6 L734.2 591.8 L735.6 592.6 L737 593 L738.4 591.6 L739.8 592.2 L741.2 591.5 L742.6 591 L744 590.4 L745.4 590.4 L746.8 590.5M748.2 592.2 L749.6 592 L751 592.8 L752.4 591.9 L753.8 592.1 L755.2 592.7 L756.6 591.4 L758 592 L759.4 592.4 L760.8 591.8M772 586.8 L773.4 587.8 L774.8 586.6 L776.2 587 L777.6 587.1 L779 587.3 L780.4 588.8 L781.8 588.8 L783.2 588.2 L784.6 587.6 L786 587.8 L787.4 588.5M773.4 589.1 L774.8 587.9 L776.2 588.3 L777.6 588.4 L779 588.6 L780.4 590.1 L781.8 590.1 L783.2 589.5 L784.6 588.9 L786 589.1M876.2 582.6 L877.6 583 L879 581.9M859.4 585.5 L860.8 585.6 L862.2 585.4 L863.6 585.7 L865 585.2 L866.4 585.7 L867.8 584.6 L869.2 585 L870.6 584 L872 584.4 L873.4 583.7 L874.8 584M886 585.1 L887.4 585.7 L888.8 586.1 L890.2 585.6 L891.6 586 L893 584.9 L894.4 585 L895.8 585.4 L897.2 584M887.4 584.4 L888.8 584.8 L890.2 584.3 L891.6 584.7 L893 583.6 L894.4 583.7 L895.8 584.1M917.6 583.8 L919 584.8 L920.4 584.8 L921.8 583.8 L923.2 583.5 L924.6 584.3 L926 584.3 L927.4 584.5 L928.8 584.3 L930.2 584.1 L931.6 584.7 L933 584.3 L934.4 584 L935.8 584.1 L937.2 584.9 L938.6 584.2M919 583.5 L920.4 583.5 L921.8 582.5 L923.2 582.2 L924.6 583 L926 583 L927.4 583.2 L928.8 583 L930.2 582.8 L931.6 583.4 L933 583 L934.4 582.7 L935.8 582.8 L937.2 583.6M953.6 582.1 L955 582.1 L956.4 581.6 L957.8 581.6 L959.2 581.3 L960.6 581.1 L962 581.5 L963.4 580.7 L964.8 580.9 L966.2 580.1 L967.6 580.6 L969 580.4 L970.4 580.8 L971.8 580.5M955 583.4 L956.4 582.9 L957.8 582.9 L959.2 582.6 L960.6 582.4 L962 582.8 L963.4 582 L964.8 582.2 L966.2 581.4 L967.6 581.9 L969 581.7 L970.4 582.1M732.4 648.8 L733.8 648.8 L735.2 649.1 L736.6 649.6 L738 648.2 L739.4 647 L740.8 647.2 L742.2 647.5M745 646.2 L746.4 647.5 L747.8 647.4M750.6 648.1 L752 646.8 L753.4 646.5 L754.8 646.4 L756.2 646 L757.6 645.6 L759 646.8 L760.4 647.9 L761.8 647.3M764.6 646.8 L766 646.8 L767.4 645.5 L768.8 646.4 L770.2 645.7 L771.6 646.5 L773 645.9M774.4 643.8 L775.8 644.1 L777.2 644.4 L778.6 644.5 L780 644.9 L781.4 644.1 L782.8 644.2 L784.2 645.4 L785.6 646.4 L787 645.1 L788.4 645.3 L789.8 645 L791.2 645.2 L792.6 645.7 L794 645.6 L795.4 644.5 L796.8 643.7M798.2 645 L799.6 645.2 L801 643.9 L802.4 644.8 L803.8 644.7 L805.2 645.4 L806.6 645.3 L808 643.8 L809.4 644.7M833.2 642.6 L834.6 641.7 L836 641.6 L837.4 642.6 L838.8 641.5M834.6 643 L836 642.9 L837.4 643.9M859.8 641.4 L861.2 641.5 L862.6 641.1 L864 642 L865.4 641.7 L866.8 641.4M861.2 642.8 L862.6 642.4 L864 643.3 L865.4 643M882.2 641.8 L883.6 642.3 L885 641.8M887.8 642.8 L889.2 642.5 L890.6 643.6 L892 642.9 L893.4 641.9 L894.8 642.3 L896.2 640.9 L897.6 641.2 L899 641.1 L900.4 640.4 L901.8 640.5M910.2 639.6 L911.6 639.3 L913 639.7 L914.4 639.5 L915.8 640 L917.2 640.6 L918.6 639.6 L920 638.9 L921.4 639 L922.8 638.8 L924.2 638.3 L925.6 637.8 L927 638.1M911.6 640.6 L913 641 L914.4 640.8 L915.8 641.3 L917.2 641.9 L918.6 640.9 L920 640.2 L921.4 640.3 L922.8 640.1 L924.2 639.6 L925.6 639.1M928.4 638.9 L929.8 639.5 L931.2 639.5 L932.6 638.8 L934 638.9 L935.4 638.8 L936.8 639.2 L938.2 640 L939.6 640.3 L941 640.1 L942.4 640.1 L943.8 640.4 L945.2 639.5 L946.6 639.7M949.4 639.6 L950.8 639.1 L952.2 639.3 L953.6 639.3 L955 639.4 L956.4 639.2 L957.8 639.1 L959.2 639.9 L960.6 639.8 L962 638 L963.4 638.2 L964.8 637.5 L966.2 637.8 L967.6 638.2M970.4 636.6 L971.8 637.4 L973.2 637.4 L974.6 637M732.4 648.3 L733.8 648 L735.2 648.4 L736.6 647.6 L738 647.5 L739.4 648.7 L740.8 648.5 L742.2 649 L743.6 648.2 L745 648.2 L746.4 647.5 L747.8 648.5 L749.2 648M752 646.9 L753.4 648 L754.8 647.7 L756.2 647.3 L757.6 647.1 L759 647 L760.4 646.5 L761.8 646.2 L763.2 646.9 L764.6 647.4 L766 647.3 L767.4 646.8 L768.8 646.8 L770.2 646.6M773 647.9 L774.4 647 L775.8 646.4M777.2 648.4 L778.6 648.6 L780 648.5 L781.4 647.8 L782.8 647 L784.2 646.3 L785.6 647.1 L787 647.9 L788.4 647.7 L789.8 648.9 L791.2 648.6 L792.6 648.1 L794 646.9 L795.4 648.3 L796.8 648.3 L798.2 648.8M778.6 647.3 L780 647.2 L781.4 646.5 L782.8 645.7 L784.2 645 L785.6 645.8 L787 646.6 L788.4 646.4 L789.8 647.6 L791.2 647.3 L792.6 646.8 L794 645.6 L795.4 647 L796.8 647M798.2 648.8 L799.6 647.9 L801 648.4 L802.4 648.3 L803.8 648.1 L805.2 647.1 L806.6 646.5 L808 646 L809.4 646.7 L810.8 646.4 L812.2 647.1 L813.6 647 L815 646.5M799.6 646.6 L801 647.1 L802.4 647 L803.8 646.8 L805.2 645.8 L806.6 645.2 L808 644.7 L809.4 645.4 L810.8 645.1 L812.2 645.8 L813.6 645.7M816.4 646.2 L817.8 644.7 L819.2 645.7 L820.6 645.5 L822 645.4 L823.4 644.8 L824.8 644.3M827.6 643.7 L829 643.8 L830.4 644.4 L831.8 645.3 L833.2 645.4 L834.6 645.6 L836 645.4 L837.4 645 L838.8 645.8 L840.2 644.9 L841.6 644.3 L843 644.5 L844.4 644.1 L845.8 643.8M847.2 645.6 L848.6 644.9 L850 644.1 L851.4 644.4 L852.8 645.4 L854.2 644.9 L855.6 645.7 L857 645.9 L858.4 645.7M848.6 643.6 L850 642.8 L851.4 643.1 L852.8 644.1 L854.2 643.6 L855.6 644.4 L857 644.6M859.8 643.8 L861.2 643.7 L862.6 644.2 L864 644.1 L865.4 642.9 L866.8 642.7 L868.2 642.5 L869.6 643.4M872.4 644 L873.8 643 L875.2 643.2 L876.6 643.4 L878 643.3 L879.4 642.8 L880.8 643.6 L882.2 642.6 L883.6 643.8 L885 643 L886.4 643.1 L887.8 642.9 L889.2 642.1M892 641 L893.4 643 L894.8 642.4 L896.2 642.7 L897.6 642.2 L899 642.9 L900.4 643.4 L901.8 642.5 L903.2 642.6 L904.6 643.3 L906 643.2 L907.4 642.6M910.2 642.2 L911.6 642.9 L913 641.9 L914.4 642.4 L915.8 641.4 L917.2 638.7M920 639.7 L921.4 640.3 L922.8 640.6 L924.2 640.6 L925.6 640.2 L927 640.8 L928.4 639.9 L929.8 639.5 L931.2 639.3M934 639.4 L935.4 638.9 L936.8 640.1 L938.2 638.7 L939.6 639.3 L941 639.8 L942.4 640.8 L943.8 640.3 L945.2 640.6 L946.6 641 L948 641.4M950.8 641 L952.2 641.2 L953.6 641.2 L955 640.8 L956.4 640.2 L957.8 639.8 L959.2 639.4M969 639.4 L970.4 640 L971.8 639.9 L973.2 639.9 L974.6 639.7" stroke="#6e6e7c" stroke-width="1.8" fill="none" shape-rendering="crispEdges"/><path d="M563.4 479.3 L564.8 480.4 L566.2 480 L567.6 481.3 L569 481.1 L570.4 481.3 L571.8 480.3 L573.2 480 L574.6 479.7 L576 480 L577.4 480.3 L578.8 480.4 L580.2 479.8 L581.6 479.4 L583 480.2M595.6 479.9 L597 480.3 L598.4 478.4 L599.8 478.8 L601.2 478.3 L602.6 478.3 L604 478 L605.4 477.8 L606.8 477.5 L608.2 478.8 L609.6 479.1 L611 478.1 L612.4 477.3 L613.8 476.7 L615.2 476.2M615.2 476.2 L616.6 475.9 L618 475.6 L619.4 476.3 L620.8 477.1 L622.2 476.7 L623.6 478.4 L625 478 L626.4 477.2 L627.8 477 L629.2 477 L630.6 477.3 L632 477.9 L633.4 477 L634.8 478.6 L636.2 477.3M636.2 477.3 L637.6 477.3 L639 477.3 L640.4 476.6 L641.8 476.6 L643.2 476.8 L644.6 476.6 L646 477.1 L647.4 477 L648.8 477.1M648.8 477.1 L650.2 477.5 L651.6 477.1 L653 478.6 L654.4 476.3 L655.8 475.9 L657.2 474.6 L658.6 475.4 L660 474.3 L661.4 474.6 L662.8 475.5 L664.2 476.5 L665.6 476 L667 474.4 L668.4 474.3 L669.8 475.3 L671.2 474.1M681 474.4 L682.4 474.2 L683.8 473.6 L685.2 474.3 L686.6 474.9 L688 475.1 L689.4 475.9M689.4 475.9 L690.8 475.8 L692.2 474 L693.6 474.8 L695 474.6 L696.4 474.3 L697.8 473.7 L699.2 474.6M581.6 484.8 L583 484.2 L584.4 483.9 L585.8 484.6 L587.2 483.2 L588.6 484.1 L590 483.7 L591.4 484.2 L592.8 483.9 L594.2 484.1 L595.6 484 L597 481.5 L598.4 483.6 L599.8 484.6M599.8 484.6 L601.2 485 L602.6 484.5 L604 483.6 L605.4 484.3 L606.8 483.9 L608.2 483.3 L609.6 482.2 L611 481.4M630.6 482.8 L632 483.3 L633.4 482.9 L634.8 480.7 L636.2 482.1 L637.6 482.2 L639 482.7 L640.4 483.6M640.4 483.6 L641.8 483.9 L643.2 483.9 L644.6 483.9 L646 482.7 L647.4 482.8 L648.8 483M648.8 483 L650.2 481.9 L651.6 482.3 L653 481.5 L654.4 480.6 L655.8 480.8 L657.2 481.5 L658.6 481.9 L660 480.9 L661.4 481.6 L662.8 480.3 L664.2 480.9M678.2 480.8 L679.6 481.6 L681 482.1 L682.4 481.7 L683.8 481.9 L685.2 480.8 L686.6 481.7 L688 479.5 L689.4 478.9 L690.8 480.2 L692.2 479.8 L693.6 480.5M693.6 480.5 L695 480.2 L696.4 479.8 L697.8 480.4 L699.2 480.5M700 474 L701.4 472.8 L702.8 473.2 L704.2 473.6 L705.6 475 L707 476.6 L708.4 475.7 L709.8 475.2 L711.2 474 L712.6 474.3 L714 473.9 L715.4 473.9M722.4 472.4 L723.8 473.5 L725.2 473.1 L726.6 473.4 L728 474.3 L729.4 474.9 L730.8 474.8 L732.2 472.9 L733.6 472.4 L735 472.4 L736.4 471.4 L737.8 472M737.8 472 L739.2 471.7 L740.6 471.6 L742 470.9 L743.4 471.6 L744.8 471.4 L746.2 471.6 L747.6 470.8 L749 471 L750.4 471.5M750.4 471.5 L751.8 471.7 L753.2 472.7 L754.6 473.3 L756 472.7 L757.4 472.2 L758.8 470.8 L760.2 470.5 L761.6 471.7 L763 471.1 L764.4 470.7 L765.8 471.5 L767.2 472.5M767.2 472.5 L768.6 473 L770 472.5 L771.4 471.1 L772.8 471.9 L774.2 470.2 L775.6 471.5 L777 470.8M785.4 470.3 L786.8 469.9 L788.2 470.1 L789.6 470.4 L791 469.8 L792.4 469.7 L793.8 469.8 L795.2 469.6 L796.6 469.5 L798 469.6 L799.4 469.7 L800.8 469.9 L802.2 470.3M802.2 470.3 L803.6 471.2 L805 472.5 L806.4 469.9 L807.8 469.5M851.2 467.7 L852.6 468.7 L854 468.7 L855.4 469.7 L856.8 469.9 L858.2 469.8 L859.6 469.1M859.6 469.1 L861 468.5 L862.4 468.7 L863.8 469.3 L865.2 468.4M865.2 468.4 L866.6 468.9 L868 466.7 L869.4 466.2 L870.8 465.4 L872.2 465.9M872.2 465.9 L873.6 465.9 L875 465.7 L876.4 467.1 L877.8 467.7 L879.2 467.4M879.2 467.4 L880.6 467.3 L882 467.9 L883.4 467 L884.8 466.1 L886.2 466.9 L887.6 466.4 L889 466.9M910 466.3 L911.4 466.2 L912.8 467.5 L914.2 467.1 L915.6 467.7 L917 467.4M917 467.4 L918.4 467.6 L919.8 466.5 L921.2 465.5 L922.6 464.9M953.4 465.4 L954.8 466 L956.2 465 L957.6 463.6 L959 463.5 L960.4 463.4 L961.8 463.8M700 481.4 L701.4 481 L702.8 481.1 L704.2 480.3 L705.6 480 L707 478.4 L708.4 479.1 L709.8 480.6 L711.2 479.9 L712.6 479.8 L714 479.9 L715.4 481.3 L716.8 480.5 L718.2 480.6 L719.6 480.5 L721 481.1 L722.4 479.8M722.4 479.8 L723.8 479.9 L725.2 479.8 L726.6 479.4 L728 479.4 L729.4 479.3 L730.8 478.7 L732.2 477.7 L733.6 477.6 L735 478.9 L736.4 477.9 L737.8 479.2 L739.2 478.2 L740.6 478.8 L742 478.4M742 478.4 L743.4 479.1 L744.8 478.2 L746.2 478 L747.6 478.4 L749 478.5 L750.4 477.6 L751.8 477.5 L753.2 476.4 L754.6 475.8 L756 477.8 L757.4 478.6 L758.8 479.1 L760.2 478.1 L761.6 479.4 L763 477.9 L764.4 478.5M764.4 478.5 L765.8 478.2 L767.2 477.6 L768.6 477.4 L770 477.1 L771.4 477.7 L772.8 478.1 L774.2 479.2M781.2 475.6 L782.6 477 L784 477.2 L785.4 476.3 L786.8 477.5 L788.2 477.2 L789.6 477.3 L791 476.2 L792.4 476.1 L793.8 476.5 L795.2 476.8 L796.6 476.6M809.2 475.9 L810.6 476.9 L812 476.4 L813.4 476.6 L814.8 475.4 L816.2 473.2 L817.6 474.6 L819 474.5 L820.4 474.2 L821.8 475.1 L823.2 474.5 L824.6 474.4 L826 474.6 L827.4 473.9 L828.8 473.5M834.4 475.3 L835.8 475.2 L837.2 474.8 L838.6 475.5 L840 475 L841.4 473.9M841.4 473.9 L842.8 473.5 L844.2 474.2 L845.6 474.5 L847 473.7 L848.4 475.2 L849.8 474.6 L851.2 473.9 L852.6 473.5 L854 474.3 L855.4 472.9 L856.8 472.7 L858.2 473.9 L859.6 473.5M896 470.9 L897.4 471.8 L898.8 471.2 L900.2 472.8 L901.6 471.6 L903 472.3 L904.4 472 L905.8 472.6 L907.2 472.7 L908.6 471.8 L910 472.7 L911.4 471.4 L912.8 472.2 L914.2 470.7 L915.6 471.4 L917 470 L918.4 470.9M932.4 472.1 L933.8 471.2 L935.2 470.8 L936.6 471.1 L938 471 L939.4 468.6 L940.8 469.4 L942.2 469.7 L943.6 471 L945 471.2 L946.4 470.4 L947.8 470.3 L949.2 471.4M949.2 471.4 L950.6 470.1 L952 469.8 L953.4 469.7 L954.8 468.6 L956.2 469.2 L957.6 469.7 L959 470.1 L960.4 470.2 L961.8 470 L963.2 469.5 L964.6 470.1 L966 468.8M563.4 499.2 L564.8 500.5 L566.2 500.9 L567.6 498.8 L569 499.3 L570.4 498.8 L571.8 497.8 L573.2 498.3 L574.6 498.3 L576 498.8 L577.4 499.2M587.2 496.9 L588.6 497.7 L590 498.3 L591.4 497.4 L592.8 498.8M592.8 498.8 L594.2 500 L595.6 498.4 L597 497.6 L598.4 497.9 L599.8 496.5 L601.2 497.6 L602.6 497.6 L604 497.3 L605.4 499.6 L606.8 497.7 L608.2 497 L609.6 497.2 L611 496.9 L612.4 497 L613.8 495.9 L615.2 496.9M678.2 495.7 L679.6 496.5 L681 496.5 L682.4 496.4 L683.8 496.9 L685.2 496.4M685.2 496.4 L686.6 496.4 L688 496.1 L689.4 495.8 L690.8 494.4 L692.2 494.7 L693.6 495.8 L695 495.3M695 495.3 L696.4 495.5 L697.8 497 L699.2 496M563.4 505.2 L564.8 505.5 L566.2 504.7 L567.6 504.9 L569 504.9 L570.4 505 L571.8 505.8 L573.2 506.4 L574.6 506.3 L576 504.9 L577.4 504.2 L578.8 503.1 L580.2 504.7 L581.6 504.2 L583 505.3 L584.4 505.2 L585.8 506M591.4 504.4 L592.8 503.8 L594.2 503.4 L595.6 502.5 L597 503.8 L598.4 504 L599.8 503.7 L601.2 503.9 L602.6 503.8 L604 502 L605.4 501.8 L606.8 502.6 L608.2 503.6 L609.6 502.8 L611 503.4M611 503.4 L612.4 503.3 L613.8 503.8 L615.2 502.8 L616.6 503.4 L618 502.9 L619.4 502.9 L620.8 502.2M620.8 502.2 L622.2 499.7 L623.6 502.1 L625 501.6 L626.4 502.2 L627.8 502 L629.2 502.5 L630.6 502.4 L632 502.3 L633.4 501.7 L634.8 502 L636.2 501M636.2 501 L637.6 501.3 L639 501.5 L640.4 499.8 L641.8 500.6 L643.2 501.7 L644.6 501.8 L646 503 L647.4 501.9 L648.8 502.8 L650.2 503 L651.6 502.5M661.4 501.9 L662.8 502.5 L664.2 503 L665.6 502.2 L667 501.7M667 501.7 L668.4 499.5 L669.8 501.2 L671.2 500.7 L672.6 501.8 L674 501.8 L675.4 501.7 L676.8 500.6M676.8 500.6 L678.2 501.1 L679.6 501.3 L681 500.9 L682.4 500.6M692.2 501.1 L693.6 500.8 L695 499.6 L696.4 499.3 L697.8 499M700 494 L701.4 493.1 L702.8 492.8 L704.2 493.7 L705.6 494.2 L707 495.5 L708.4 494.9 L709.8 494 L711.2 494.1 L712.6 493.6 L714 493.4M714 493.4 L715.4 493.8 L716.8 493.2 L718.2 493.7 L719.6 493 L721 493.3 L722.4 494.4 L723.8 494.2 L725.2 494.2 L726.6 494.5 L728 494.7 L729.4 494.4 L730.8 493.4 L732.2 493.5 L733.6 492.9M749 492.4 L750.4 494.6 L751.8 493.5 L753.2 493.9 L754.6 492.8 L756 492.7 L757.4 493.3 L758.8 492 L760.2 492.8 L761.6 492.2 L763 492.5 L764.4 491.9 L765.8 492 L767.2 492.1 L768.6 492.6 L770 494M798 489.8 L799.4 489.9 L800.8 490.2 L802.2 490.1 L803.6 490.8 L805 492.5 L806.4 491.2 L807.8 490.2 L809.2 489M809.2 489 L810.6 489.3 L812 489.6 L813.4 489.4 L814.8 489.8 L816.2 490.6 L817.6 491.8 L819 490.7 L820.4 489.3 L821.8 490.1 L823.2 490.1 L824.6 490.2 L826 489.2M826 489.2 L827.4 489.1 L828.8 489 L830.2 489.9 L831.6 490.1 L833 489.7 L834.4 489.2 L835.8 488.7 L837.2 489.1 L838.6 487.9 L840 488.5 L841.4 488.4 L842.8 488.4 L844.2 488.3M844.2 488.3 L845.6 487.8 L847 487.7 L848.4 488 L849.8 487.8 L851.2 488.9 L852.6 488.1 L854 488.2 L855.4 488.7 L856.8 490.1 L858.2 489.3 L859.6 488.4 L861 488.9 L862.4 487.3 L863.8 487.3 L865.2 487 L866.6 487.2M866.6 487.2 L868 487.7 L869.4 487.3 L870.8 487.4 L872.2 487.2 L873.6 487.6 L875 487.8 L876.4 487.7 L877.8 488.9 L879.2 488.7 L880.6 487.8 L882 487.8 L883.4 486.4M883.4 486.4 L884.8 487 L886.2 486 L887.6 486.8 L889 485.5 L890.4 486.5M890.4 486.5 L891.8 486.3 L893.2 487.7 L894.6 487.6 L896 486.4M896 486.4 L897.4 486.1 L898.8 485.6 L900.2 485.2 L901.6 485.1 L903 485.1 L904.4 485.8M904.4 485.8 L905.8 486.1 L907.2 485.5 L908.6 486.4 L910 487.8 L911.4 485.9 L912.8 485.9 L914.2 486.1 L915.6 486.1 L917 485.4M917 485.4 L918.4 484.9 L919.8 486.4 L921.2 486.1 L922.6 486 L924 485 L925.4 484.3 L926.8 484.2 L928.2 485 L929.6 485.1 L931 484.3M953.4 485 L954.8 485.1 L956.2 484.1 L957.6 485.1 L959 484.9 L960.4 483.5 L961.8 483.8 L963.2 484.3 L964.6 484.5 L966 484.1M966 484.1 L967.4 484.5 L968.8 483.9 L970.2 484 L971.6 484.8 L973 484.2 L974.4 486 L975.8 484.3M721 499.4 L722.4 498.7 L723.8 498.7 L725.2 497.8 L726.6 498.5 L728 497.5 L729.4 497.5 L730.8 496.8 L732.2 497 L733.6 498.2 L735 498.4M753.2 497.3 L754.6 497.8 L756 498.4 L757.4 497.6 L758.8 498.7 L760.2 498 L761.6 497.5 L763 498.6 L764.4 497.5 L765.8 497.8 L767.2 497.2M775.6 496.3 L777 497.8 L778.4 497.8 L779.8 497.8 L781.2 496.4 L782.6 496.7 L784 496.2 L785.4 496 L786.8 495.2 L788.2 494.4 L789.6 495.3 L791 495.6M803.6 494.8 L805 494.2 L806.4 494.5 L807.8 495.9 L809.2 496.4 L810.6 497 L812 496.6 L813.4 495.5 L814.8 496.1 L816.2 494.2 L817.6 494.8 L819 495.5 L820.4 495.5M828.8 494.7 L830.2 494.7 L831.6 493.8 L833 493.7 L834.4 494.7 L835.8 495.3 L837.2 494.2 L838.6 494.9 L840 495.2 L841.4 494.8M841.4 494.8 L842.8 494.6 L844.2 495.3 L845.6 495.1 L847 494.6 L848.4 494.4 L849.8 495.2 L851.2 493.7 L852.6 494.3 L854 493.4M859.6 493.4 L861 493.7 L862.4 493.6 L863.8 492.8 L865.2 493.2 L866.6 493.6 L868 493.4 L869.4 493.2 L870.8 493.4 L872.2 493 L873.6 492.7 L875 492.1 L876.4 492.7 L877.8 492M877.8 492 L879.2 491.6 L880.6 491.7 L882 492.7 L883.4 493.7 L884.8 494.1 L886.2 493.3 L887.6 494.2 L889 494M889 494 L890.4 492.8 L891.8 492.7 L893.2 491.5 L894.6 490.3 L896 492 L897.4 492 L898.8 491.9 L900.2 492.1 L901.6 492.3M912.8 491.5 L914.2 490.7 L915.6 491.6 L917 491.4 L918.4 491.5 L919.8 490.1 L921.2 489.5 L922.6 489.7 L924 491.3 L925.4 491.6 L926.8 492.5 L928.2 491.9 L929.6 491.6 L931 491M938 489.1 L939.4 489.3 L940.8 489.4 L942.2 490.4 L943.6 489.8 L945 489.7 L946.4 489.1 L947.8 487.7 L949.2 488.5 L950.6 488.5 L952 488.7 L953.4 489.2 L954.8 489.7 L956.2 489.4 L957.6 490.7M563.4 518.9 L564.8 519.1 L566.2 519.5 L567.6 519.5 L569 519.9 L570.4 520.6M590 518.6 L591.4 518.9 L592.8 518 L594.2 517.7 L595.6 518 L597 517.7 L598.4 518 L599.8 518.1 L601.2 518.1 L602.6 518.4 L604 517.9 L605.4 519 L606.8 519 L608.2 520.2M625 517.3 L626.4 517.2 L627.8 516.6 L629.2 516.3 L630.6 516.9 L632 516.1 L633.4 515.9 L634.8 516.5 L636.2 516M651.6 515.1 L653 517.4 L654.4 515.6 L655.8 515.2 L657.2 515.7 L658.6 514.6 L660 514.4 L661.4 515 L662.8 514.4 L664.2 514.4 L665.6 514.1M697.8 514.4 L699.2 514.5 L700.6 515 L702 515.9 L703.4 515.3 L704.8 513.5 L706.2 513.8 L707.6 513.5 L709 513.8 L710.4 513.4 L711.8 512.5 L713.2 513.2 L714.6 513 L716 512.9 L717.4 512 L718.8 513M718.8 513 L720.2 513 L721.6 512.7 L723 513.8 L724.4 513.3 L725.8 514.4M725.8 514.4 L727.2 513.5 L728.6 512.4 L730 511.7 L731.4 512 L732.8 511.2 L734.2 511.3 L735.6 511.9 L737 511.4 L738.4 512.1 L739.8 511 L741.2 512 L742.6 513 L744 513.6 L745.4 512.6 L746.8 513.1M746.8 513.1 L748.2 512.5 L749.6 512.4 L751 512.2 L752.4 512.1 L753.8 511.5M753.8 511.5 L755.2 511.7 L756.6 510.5 L758 511.5 L759.4 511.4 L760.8 511 L762.2 511.8 L763.6 510.7 L765 511.4 L766.4 511 L767.8 511.8M767.8 511.8 L769.2 512 L770.6 512.3 L772 512.3 L773.4 511.2 L774.8 510.5 L776.2 510.2 L777.6 509.8 L779 509.8 L780.4 510.2 L781.8 510.4 L783.2 510.9 L784.6 510.5 L786 511 L787.4 511.3 L788.8 513.1M788.8 513.1 L790.2 510.9 L791.6 511 L793 510.4 L794.4 510.7 L795.8 510.1 L797.2 508.9 L798.6 510.2 L800 509.4 L801.4 509.1 L802.8 509.4 L804.2 508.5 L805.6 508.7 L807 508.6 L808.4 509 L809.8 509.4M809.8 509.4 L811.2 510.3 L812.6 510.1 L814 510.7 L815.4 510.8 L816.8 509.8 L818.2 508.6 L819.6 507.6 L821 508 L822.4 508.6 L823.8 507.8 L825.2 508.5M825.2 508.5 L826.6 510.3 L828 509.1 L829.4 509.3 L830.8 509.5 L832.2 509.4 L833.6 508.1 L835 508.5 L836.4 508.9 L837.8 508.7 L839.2 508.3 L840.6 509.1 L842 508M854.6 508.5 L856 508.2 L857.4 507.5 L858.8 508.4 L860.2 507.8 L861.6 508.4 L863 508.4 L864.4 509.3 L865.8 507.4 L867.2 507.4 L868.6 506.8 L870 506.9 L871.4 506.6M871.4 506.6 L872.8 508.8 L874.2 507.6 L875.6 506.6 L877 507 L878.4 505.8M878.4 505.8 L879.8 505.8 L881.2 506.9 L882.6 507.8 L884 508 L885.4 506.3M885.4 506.3 L886.8 505.7 L888.2 505.2 L889.6 505.1 L891 504.4 L892.4 505.3 L893.8 504.2 L895.2 504.9 L896.6 504.4 L898 503.9 L899.4 504.5 L900.8 505.6 L902.2 505.8 L903.6 506.1 L905 506.9M905 506.9 L906.4 506.3 L907.8 505.8 L909.2 505 L910.6 505.1 L912 504.7M912 504.7 L913.4 504.1 L914.8 504.1 L916.2 504.6 L917.6 504.2 L919 504.7 L920.4 503.9 L921.8 503.9 L923.2 504.6 L924.6 504.5M924.6 504.5 L926 504.3 L927.4 504.2 L928.8 505.2 L930.2 504.8 L931.6 506.8 L933 505.7 L934.4 505.9 L935.8 505 L937.2 504.9 L938.6 504 L940 504.5 L941.4 503.9 L942.8 503.5 L944.2 504.1M944.2 504.1 L945.6 504.4 L947 503.9 L948.4 503.8 L949.8 503.9 L951.2 504.4 L952.6 506.1 L954 504.4 L955.4 504.4 L956.8 503.2M956.8 503.2 L958.2 502.6 L959.6 502.6 L961 501.8 L962.4 502.7 L963.8 502.5 L965.2 501.7 L966.6 502.4 L968 501.8 L969.4 502.7 L970.8 501.9 L972.2 502.6 L973.6 502 L975 503.3 L976.4 503.8M576 524.6 L577.4 525.4 L578.8 525.3 L580.2 524.6 L581.6 525.3 L583 525 L584.4 523.3 L585.8 523.6 L587.2 523 L588.6 522.7 L590 523.3M590 523.3 L591.4 523.3 L592.8 523.3 L594.2 523.3 L595.6 523.8 L597 523.7 L598.4 524.4 L599.8 524.2 L601.2 523 L602.6 522.7 L604 522.3 L605.4 523.2 L606.8 521.7 L608.2 522.2 L609.6 523.4M609.6 523.4 L611 523.1 L612.4 524.1 L613.8 523.5 L615.2 523.7 L616.6 524 L618 523 L619.4 523.8 L620.8 523.1 L622.2 522.3 L623.6 522 L625 520.3 L626.4 521.2M626.4 521.2 L627.8 522.1 L629.2 521.8 L630.6 522 L632 521.6 L633.4 521.9 L634.8 521.3M634.8 521.3 L636.2 521.3 L637.6 521.7 L639 520.3 L640.4 520.2 L641.8 520 L643.2 520.6M643.2 520.6 L644.6 522 L646 522.4 L647.4 521.9 L648.8 521 L650.2 521.1 L651.6 520.9M651.6 520.9 L653 519.7 L654.4 519.2 L655.8 519.5 L657.2 520.6 L658.6 520.1 L660 520.9 L661.4 521.5 L662.8 521.5 L664.2 520.6 L665.6 520.3 L667 521.4 L668.4 520 L669.8 519.8 L671.2 520.5M671.2 520.5 L672.6 519.9 L674 518.9 L675.4 519.5 L676.8 518.3 L678.2 519.7 L679.6 519.1 L681 519.8 L682.4 519.4 L683.8 520.8 L685.2 519.7 L686.6 520.4 L688 520.6M688 520.6 L689.4 520.3 L690.8 521.1 L692.2 520.5 L693.6 520 L695 520.6 L696.4 520.1 L697.8 520.2 L699.2 518.8 L700.6 518.1 L702 516.8 L703.4 518.5 L704.8 518.9 L706.2 519.4 L707.6 518.9 L709 518.5M709 518.5 L710.4 518.6 L711.8 518.7 L713.2 519.1 L714.6 518.8 L716 519.3 L717.4 519 L718.8 518.4 L720.2 518.3M738.4 519.3 L739.8 518.4 L741.2 518.3 L742.6 517.1 L744 514.9 L745.4 515.5 L746.8 516.3 L748.2 516.2M748.2 516.2 L749.6 516.3 L751 517 L752.4 517.3 L753.8 516.9 L755.2 516.8 L756.6 517.5 L758 517 L759.4 516.3 L760.8 517M760.8 517 L762.2 517 L763.6 516.5 L765 515.8 L766.4 515.1 L767.8 515.2 L769.2 514.4 L770.6 516.5 L772 516 L773.4 517.7M781.8 517 L783.2 517.2 L784.6 517.3 L786 516.1 L787.4 515.4 L788.8 514M807 514.9 L808.4 514.6 L809.8 513.6 L811.2 513.4 L812.6 512.6 L814 513.4 L815.4 513.8 L816.8 515.2 L818.2 515.2 L819.6 515.6 L821 515 L822.4 514.7 L823.8 514.1 L825.2 513.9 L826.6 513.1 L828 512.8M828 512.8 L829.4 513.4 L830.8 513.6 L832.2 513.7 L833.6 514.1 L835 513.9M835 513.9 L836.4 513.7 L837.8 514.6 L839.2 514 L840.6 514.1 L842 513.1 L843.4 513.3 L844.8 513.5 L846.2 512.7 L847.6 513.2 L849 511.1 L850.4 512.3 L851.8 514.2M851.8 514.2 L853.2 513.5 L854.6 513.5 L856 514 L857.4 514.5 L858.8 514.1 L860.2 514 L861.6 513.6M861.6 513.6 L863 513.4 L864.4 511.8 L865.8 511.9 L867.2 512.3 L868.6 513.1 L870 512.1 L871.4 512.3 L872.8 511.9 L874.2 512.4 L875.6 513.2 L877 512.8 L878.4 512.9 L879.8 513.1 L881.2 512.5 L882.6 511.1M882.6 511.1 L884 510.1 L885.4 511.2 L886.8 511.7 L888.2 512.4 L889.6 511.1 L891 512.4M891 512.4 L892.4 512.3 L893.8 512.6 L895.2 511.5 L896.6 512.2 L898 511.1 L899.4 512.1 L900.8 511 L902.2 511.4 L903.6 510.6M903.6 510.6 L905 509.8 L906.4 509.3 L907.8 510.2 L909.2 510.1 L910.6 510.6 L912 511 L913.4 510.9 L914.8 511.3 L916.2 511.4M916.2 511.4 L917.6 510.6 L919 510.9 L920.4 510.5 L921.8 511 L923.2 510.5 L924.6 509.9 L926 509.9 L927.4 509.6 L928.8 509.8 L930.2 508.5 L931.6 507.9 L933 508.9 L934.4 510.1M934.4 510.1 L935.8 511.1 L937.2 510.2 L938.6 510.2 L940 511.2 L941.4 510.7 L942.8 510.8 L944.2 511.3 L945.6 511.1 L947 510.2 L948.4 510.8 L949.8 509.2 L951.2 509.8 L952.6 508.1 L954 507.8 L955.4 508.9M563.4 538.3 L564.8 538.4 L566.2 539.1 L567.6 539.6 L569 539 L570.4 538.9 L571.8 537.6M571.8 537.6 L573.2 538.2 L574.6 537.6 L576 537.3 L577.4 537.3 L578.8 537.3 L580.2 539.6 L581.6 537.4 L583 537.5 L584.4 536.6 L585.8 535.5 L587.2 536.7 L588.6 536.1 L590 535.3 L591.4 535.4 L592.8 536.5 L594.2 536.3M602.6 536.2 L604 536.5 L605.4 536.1 L606.8 535.7 L608.2 537.3 L609.6 537 L611 536.5 L612.4 536.7M619.4 535.6 L620.8 535.4 L622.2 536.3 L623.6 536.5 L625 536.4 L626.4 535.7 L627.8 536.6 L629.2 537 L630.6 536.6 L632 535.4 L633.4 535M639 534.7 L640.4 535 L641.8 534.8 L643.2 534.6 L644.6 534 L646 535.2 L647.4 535.3 L648.8 535.2M648.8 535.2 L650.2 535.2 L651.6 535.7 L653 536 L654.4 537.2 L655.8 535.4M655.8 535.4 L657.2 534.1 L658.6 533.8 L660 533.3 L661.4 534 L662.8 534 L664.2 533.9 L665.6 532.9 L667 532.5 L668.4 533 L669.8 533.8 L671.2 532.6 L672.6 533.1 L674 533 L675.4 534.3 L676.8 534.6M689.4 532.7 L690.8 533.8 L692.2 535.1 L693.6 535.1 L695 534.2 L696.4 534 L697.8 533.3 L699.2 532.9 L700.6 533.2 L702 532.6 L703.4 533.6 L704.8 532.5 L706.2 532.9 L707.6 534.1 L709 534.1 L710.4 533.8 L711.8 533.5M711.8 533.5 L713.2 532.6 L714.6 532.8 L716 531.7 L717.4 532 L718.8 532.2 L720.2 531.8 L721.6 533.2 L723 532.9 L724.4 533.4M724.4 533.4 L725.8 532.2 L727.2 530.9 L728.6 531.1 L730 530.8 L731.4 531.4 L732.8 531.9 L734.2 533.5 L735.6 532.6 L737 532.4 L738.4 531.2 L739.8 531.9 L741.2 530.8 L742.6 530.9 L744 531.5 L745.4 530.8 L746.8 531.8M746.8 531.8 L748.2 531.9 L749.6 532.2 L751 531.7 L752.4 532.7 L753.8 532.5 L755.2 530.9 L756.6 530.1 L758 529.7 L759.4 530.6 L760.8 529.8 L762.2 530.2 L763.6 530 L765 529.9 L766.4 530.3M766.4 530.3 L767.8 529.6 L769.2 530 L770.6 530.9 L772 531.1 L773.4 530.8 L774.8 530.4 L776.2 530.8 L777.6 529.6 L779 529.1 L780.4 529.7 L781.8 528.7M798.6 530.5 L800 530.1 L801.4 528.5 L802.8 528.7 L804.2 528.6 L805.6 527.6 L807 527.5M807 527.5 L808.4 527.6 L809.8 527.1 L811.2 527.4 L812.6 527.2 L814 528.2 L815.4 528.3 L816.8 528.1 L818.2 529.9 L819.6 529.2 L821 528.4 L822.4 527.4 L823.8 527.4 L825.2 527.9 L826.6 527.2M847.6 526 L849 525.6 L850.4 525.3 L851.8 526.5 L853.2 527.1 L854.6 527.2M854.6 527.2 L856 526.4 L857.4 525.5 L858.8 526.1 L860.2 526.5M860.2 526.5 L861.6 526.1 L863 527.4 L864.4 526.4 L865.8 525.8 L867.2 525.4 L868.6 525.2 L870 525.8 L871.4 525 L872.8 524.4 L874.2 524.7 L875.6 525.4M875.6 525.4 L877 524.2 L878.4 524.1 L879.8 525.1 L881.2 524.4 L882.6 524.8 L884 525.2 L885.4 524.8 L886.8 526.2M886.8 526.2 L888.2 526.8 L889.6 524.7 L891 524.1 L892.4 524.6 L893.8 524 L895.2 523.3 L896.6 524.1 L898 523.8 L899.4 523.8 L900.8 523.5 L902.2 523.3 L903.6 523.9 L905 523.3M905 523.3 L906.4 522.8 L907.8 523.1 L909.2 523 L910.6 524.5 L912 524.8 L913.4 525.1M913.4 525.1 L914.8 525.1 L916.2 523.6 L917.6 522.5 L919 522.2 L920.4 522.5 L921.8 522.3 L923.2 523.1M923.2 523.1 L924.6 523.2 L926 522.5 L927.4 523.4 L928.8 525.2 L930.2 524.3 L931.6 523.6 L933 523.7 L934.4 523.1 L935.8 523.1 L937.2 525 L938.6 522.1 L940 522 L941.4 522.2 L942.8 521.1M942.8 521.1 L944.2 521.6 L945.6 521.1 L947 522.5 L948.4 522.3 L949.8 524.2 L951.2 524.1M951.2 524.1 L952.6 522.6 L954 522.5 L955.4 522.1 L956.8 522.6M563.4 543.6 L564.8 543.2 L566.2 542.6 L567.6 542.2 L569 542.2M569 542.2 L570.4 543 L571.8 543.1 L573.2 543.4 L574.6 544.2 L576 543.9 L577.4 542.6 L578.8 542.6 L580.2 541.1 L581.6 542.9 L583 542.4 L584.4 542.9 L585.8 543.1 L587.2 543 L588.6 543.6 L590 543.8 L591.4 542.7M591.4 542.7 L592.8 542 L594.2 541.7 L595.6 540.9 L597 538.6 L598.4 540.8 L599.8 541 L601.2 540.9 L602.6 541 L604 541.4 L605.4 541.8 L606.8 540.2 L608.2 540.1M625 541.2 L626.4 541.5 L627.8 540.8 L629.2 539 L630.6 539.5 L632 539.9 L633.4 539.9 L634.8 540.4 L636.2 539.7M636.2 539.7 L637.6 540.1 L639 540.1 L640.4 540.7 L641.8 540.1 L643.2 540.2 L644.6 540.8 L646 540.4 L647.4 539.8 L648.8 539.2 L650.2 539.7 L651.6 539.5 L653 538.2 L654.4 537.9 L655.8 538.3M655.8 538.3 L657.2 539.3 L658.6 539.2 L660 539.1 L661.4 539.3 L662.8 539.6 L664.2 539.5 L665.6 539.7 L667 539.6 L668.4 538.9 L669.8 539.3 L671.2 540 L672.6 538.7M672.6 538.7 L674 538.1 L675.4 538.4 L676.8 537.2 L678.2 538.3 L679.6 539.2 L681 539.7 L682.4 540.2 L683.8 539.9 L685.2 539.7 L686.6 540 L688 539.8 L689.4 539M689.4 539 L690.8 538.5 L692.2 537.8 L693.6 538.6 L695 539.4 L696.4 538.9 L697.8 539.5 L699.2 538.6 L700.6 539.6 L702 539.4M702 539.4 L703.4 538.4 L704.8 538.8 L706.2 539.3 L707.6 538.2M707.6 538.2 L709 538.1 L710.4 537.8 L711.8 536.9 L713.2 537.4 L714.6 537.4 L716 537.1 L717.4 537.2 L718.8 537.3 L720.2 537.2 L721.6 536.1 L723 535M744 536.8 L745.4 536.5 L746.8 536.4 L748.2 536.2 L749.6 535.1 L751 535.4 L752.4 535.4 L753.8 534.4 L755.2 536.3 L756.6 536.4 L758 536.4M758 536.4 L759.4 535.9 L760.8 536 L762.2 536.5 L763.6 536.1 L765 536.9 L766.4 536.8 L767.8 535.9M783.2 533.8 L784.6 534.8 L786 534.9 L787.4 533.8 L788.8 534.6 L790.2 533.3 L791.6 534.2 L793 534.1 L794.4 533.1 L795.8 533.7M808.4 534.1 L809.8 533 L811.2 534 L812.6 532.6 L814 532.4 L815.4 532 L816.8 532.4 L818.2 531M870 531.7 L871.4 531.6 L872.8 531.4 L874.2 531.6 L875.6 531.7 L877 530.8 L878.4 531.2 L879.8 531.8 L881.2 531.4 L882.6 530.8 L884 529.8 L885.4 530.3 L886.8 529.3 L888.2 528.1 L889.6 529.5M907.8 530.5 L909.2 529.5 L910.6 529.6 L912 528.4 L913.4 527.8 L914.8 529.1 L916.2 529.9M916.2 529.9 L917.6 530.1 L919 529.9 L920.4 530.3 L921.8 529.4 L923.2 529.7M923.2 529.7 L924.6 529.4 L926 529.3 L927.4 528.1 L928.8 528 L930.2 528.3 L931.6 529.3 L933 528.8 L934.4 528.8 L935.8 528.4M935.8 528.4 L937.2 527.7 L938.6 527.3 L940 527.9 L941.4 529.2 L942.8 529 L944.2 528.6 L945.6 529 L947 527.1M947 527.1 L948.4 526.7 L949.8 526.7 L951.2 528 L952.6 528.1 L954 528.3M954 528.3 L955.4 528.6 L956.8 528.8 L958.2 528.6 L959.6 528.5 L961 528.1M961 528.1 L962.4 526.5 L963.8 527.6 L965.2 526.6 L966.6 527.1 L968 528.1 L969.4 527.7 L970.8 527.3 L972.2 527.7 L973.6 527.2 L975 526.9 L976.4 526.9M563.4 556.1 L564.8 557.3 L566.2 556.4 L567.6 557.2 L569 558.4 L570.4 556.9 L571.8 556.5 L573.2 555.7 L574.6 555.3 L576 555.2 L577.4 555.9 L578.8 555.4 L580.2 555.5 L581.6 555.5M581.6 555.5 L583 555.3 L584.4 555.2 L585.8 554.7 L587.2 555.9 L588.6 555 L590 556.5 L591.4 557 L592.8 556.5 L594.2 556.9 L595.6 555.5 L597 556.1M597 556.1 L598.4 555.2 L599.8 555.6 L601.2 555.5 L602.6 555.4 L604 555.3 L605.4 555.1 L606.8 556.5M606.8 556.5 L608.2 556.2 L609.6 555.6 L611 554 L612.4 554.5 L613.8 553.9 L615.2 554.3 L616.6 553.3 L618 554M623.6 554.3 L625 554.8 L626.4 553.8 L627.8 555 L629.2 555.3 L630.6 554.5M630.6 554.5 L632 554.9 L633.4 554.5 L634.8 554.7 L636.2 553.9 L637.6 553 L639 554.2M639 554.2 L640.4 553.9 L641.8 553.9 L643.2 554.1 L644.6 554.3 L646 555.2M655.8 553.5 L657.2 552.8 L658.6 553.1 L660 553.1 L661.4 553.6 L662.8 554.6M688 551.2 L689.4 551.6 L690.8 551.9 L692.2 553 L693.6 552.7 L695 550.9 L696.4 550.5 L697.8 550.2 L699.2 550.7 L700.6 550.6 L702 550.4 L703.4 549.8 L704.8 550.8 L706.2 551.1 L707.6 550.4 L709 551.4 L710.4 552.4M710.4 552.4 L711.8 553.1 L713.2 551.6 L714.6 551.8 L716 550.7 L717.4 551.6 L718.8 550.7 L720.2 550.4 L721.6 550.9 L723 550.6 L724.4 550.4 L725.8 550.7 L727.2 550.8 L728.6 549.9 L730 550.4 L731.4 550.6 L732.8 550.6M732.8 550.6 L734.2 552.4 L735.6 550.9 L737 550.7 L738.4 549.5 L739.8 549 L741.2 549.1M741.2 549.1 L742.6 548.4 L744 549 L745.4 548.8 L746.8 550.1 L748.2 550.8 L749.6 550.3 L751 548.7M751 548.7 L752.4 549.6 L753.8 548.5 L755.2 549 L756.6 548.3 L758 548.8 L759.4 548.1 L760.8 548.5 L762.2 547.6 L763.6 547.8 L765 547.5 L766.4 548.1 L767.8 548.8 L769.2 548.2 L770.6 548.6M770.6 548.6 L772 549.6 L773.4 549 L774.8 550 L776.2 549.1 L777.6 548.7 L779 548.2 L780.4 547.8 L781.8 547.7 L783.2 546.7 L784.6 548.2 L786 548 L787.4 548.5M793 547 L794.4 547.3 L795.8 546.9 L797.2 546.3 L798.6 546.3 L800 546.8 L801.4 546.9 L802.8 547.2 L804.2 546.8 L805.6 547.7 L807 548.4 L808.4 547.7 L809.8 547.1M825.2 545.8 L826.6 545.6 L828 545.9 L829.4 546 L830.8 546.6 L832.2 547 L833.6 545.6 L835 546 L836.4 545.1 L837.8 544.1M837.8 544.1 L839.2 544.5 L840.6 544 L842 544 L843.4 544 L844.8 543.7M844.8 543.7 L846.2 544 L847.6 544.9 L849 545.6 L850.4 546.6 L851.8 545.5 L853.2 544.1 L854.6 544.3 L856 544.4 L857.4 544.2 L858.8 544.1 L860.2 543.1 L861.6 542.9 L863 543.2M898 543.1 L899.4 542.7 L900.8 543.2 L902.2 543.3 L903.6 542.6 L905 542.5 L906.4 542.3 L907.8 542.5M907.8 542.5 L909.2 543.1 L910.6 541.9 L912 543 L913.4 543.1 L914.8 542.2 L916.2 542.1 L917.6 543.4M917.6 543.4 L919 543.1 L920.4 543 L921.8 544.1 L923.2 543.4 L924.6 541.7 L926 542.1M931.6 541.6 L933 541.7 L934.4 541.7 L935.8 542.2 L937.2 542.3 L938.6 542.9 L940 542M940 542 L941.4 540.4 L942.8 539.9 L944.2 540.5 L945.6 539.8 L947 541.3M947 541.3 L948.4 541.6 L949.8 543.1 L951.2 541.1 L952.6 540.1 L954 539.8 L955.4 539.5 L956.8 540.1M956.8 540.1 L958.2 540.2 L959.6 541.6 L961 542.4 L962.4 540M563.4 563.1 L564.8 562 L566.2 561.9 L567.6 562.2 L569 561 L570.4 561.4M570.4 561.4 L571.8 562.2 L573.2 562.3 L574.6 562.6 L576 562.8M587.2 561.6 L588.6 561.5 L590 561.5 L591.4 560.7 L592.8 560.4 L594.2 559.9 L595.6 560 L597 560 L598.4 560.1 L599.8 560.9 L601.2 560.6M634.8 561.4 L636.2 561.2 L637.6 561.1 L639 560.9 L640.4 560.2 L641.8 561.3 L643.2 559.7 L644.6 559.5 L646 559.5 L647.4 557.9 L648.8 559.6M648.8 559.6 L650.2 559.1 L651.6 559.6 L653 560.2 L654.4 560.6 L655.8 559.5 L657.2 559.5 L658.6 559.5 L660 558.7 L661.4 559.6 L662.8 558.3 L664.2 557.3 L665.6 556.6 L667 557.4M685.2 557.7 L686.6 558.8 L688 558.8 L689.4 558.3 L690.8 558.8M690.8 558.8 L692.2 556.9 L693.6 556.1 L695 556.6 L696.4 556.6 L697.8 557.5 L699.2 557.5 L700.6 557.4 L702 557.2 L703.4 558.2 L704.8 557.7 L706.2 557 L707.6 556.3M723 556.5 L724.4 557.1 L725.8 557.2 L727.2 557.4 L728.6 557 L730 555.6 L731.4 555.5 L732.8 555.4 L734.2 555.1 L735.6 554 L737 554.7 L738.4 554.1 L739.8 554.7 L741.2 555.1 L742.6 554.9M742.6 554.9 L744 554 L745.4 554.8 L746.8 553.2 L748.2 552.6 L749.6 553.3 L751 554.1M751 554.1 L752.4 553.6 L753.8 554.4 L755.2 553.9 L756.6 554.9 L758 554.4 L759.4 554.4 L760.8 553.8M760.8 553.8 L762.2 554.8 L763.6 553.5 L765 553.5 L766.4 554.5 L767.8 553.6 L769.2 553.5 L770.6 552.6M781.8 554.2 L783.2 554.1 L784.6 553.7 L786 552.7 L787.4 551.8 L788.8 551.9 L790.2 551.9 L791.6 553M791.6 553 L793 552.5 L794.4 552.3 L795.8 552.5 L797.2 553.6 L798.6 553.7 L800 553 L801.4 552.2 L802.8 552.1 L804.2 552.6 L805.6 551.4 L807 550.9 L808.4 552.1 L809.8 551.2M809.8 551.2 L811.2 552.1 L812.6 551.3 L814 551.7 L815.4 552.9 L816.8 552.7 L818.2 552.4 L819.6 552.6 L821 551.7 L822.4 551.5 L823.8 551.3 L825.2 552.3 L826.6 550.7 L828 550.9 L829.4 551.4M829.4 551.4 L830.8 549.7 L832.2 549.4 L833.6 549.5 L835 550.9 L836.4 551.1 L837.8 551.3 L839.2 551.4 L840.6 552.4M840.6 552.4 L842 552.3 L843.4 552.1 L844.8 550.9 L846.2 551.6 L847.6 550.7 L849 550.1 L850.4 549 L851.8 550.1 L853.2 549.6M853.2 549.6 L854.6 550.2 L856 550.6 L857.4 551 L858.8 550.2 L860.2 550.4 L861.6 550.6 L863 550.6 L864.4 550.4 L865.8 549.7 L867.2 549.8 L868.6 547.9M868.6 547.9 L870 549.2 L871.4 550.7 L872.8 550.7 L874.2 550.8 L875.6 550.5 L877 550.3 L878.4 550.4M878.4 550.4 L879.8 551.7 L881.2 551.6 L882.6 550.4 L884 550.2 L885.4 550.3 L886.8 550.4 L888.2 549.8 L889.6 549.5M889.6 549.5 L891 549.2 L892.4 549.7 L893.8 548.8 L895.2 546.4 L896.6 548.1 L898 548.4 L899.4 548.2 L900.8 548.8 L902.2 547.6 L903.6 548.9 L905 549M905 549 L906.4 548.6 L907.8 548.3 L909.2 548.4 L910.6 548.3 L912 548.4 L913.4 547.1 L914.8 547.1 L916.2 547.2 L917.6 546.9 L919 547 L920.4 546.5M920.4 546.5 L921.8 546.5 L923.2 547.2 L924.6 547.3 L926 547.7M926 547.7 L927.4 548.1 L928.8 547.6 L930.2 548.2 L931.6 548.2 L933 546.9 L934.4 547.1 L935.8 546.7 L937.2 545.5 L938.6 545.7 L940 547.8 L941.4 547.3M941.4 547.3 L942.8 547.9 L944.2 547.8 L945.6 547.7 L947 546.8 L948.4 546.8 L949.8 545.2 L951.2 547.1M951.2 547.1 L952.6 547.7 L954 547.9 L955.4 548.4 L956.8 548.5 L958.2 548.1 L959.6 546.9 L961 545.1 L962.4 545.9 L963.8 546.6 L965.2 545.9 L966.6 546.8 L968 546.3M968 546.3 L969.4 545.4 L970.8 544.2 L972.2 544.9 L973.6 546.7 L975 546.8 L976.4 547M578.8 612.6 L580.2 613.6 L581.6 613.9 L583 613.1 L584.4 614.5M584.4 614.5 L585.8 615.7 L587.2 615.9 L588.6 614.6 L590 614.7 L591.4 614.1 L592.8 613.3 L594.2 613.4M613.8 611.2 L615.2 612.3 L616.6 612.1 L618 612.2 L619.4 611.6 L620.8 612 L622.2 612.3 L623.6 612.6 L625 613.7 L626.4 612 L627.8 611.8 L629.2 612 L630.6 611.7M630.6 611.7 L632 610.7 L633.4 610.8 L634.8 610.8 L636.2 612.4 L637.6 612.4 L639 612.8 L640.4 611.8 L641.8 611.3 L643.2 611.6 L644.6 610 L646 610.6 L647.4 610.7 L648.8 609.7 L650.2 610.8 L651.6 610.8M651.6 610.8 L653 609.9 L654.4 610.9 L655.8 611.8 L657.2 612.7 L658.6 612 L660 611.4 L661.4 611.8 L662.8 610.5 L664.2 610.1 L665.6 611.1 L667 610.5M667 610.5 L668.4 610.5 L669.8 610.7 L671.2 610.8 L672.6 611.1 L674 611.4 L675.4 610.8 L676.8 610.3 L678.2 609.7 L679.6 609.5 L681 608.8 L682.4 609.4 L683.8 608.3 L685.2 608.3M685.2 608.3 L686.6 608.7 L688 608 L689.4 608.2 L690.8 609.4 L692.2 609.7M692.2 609.7 L693.6 609.6 L695 610.9 L696.4 609.3 L697.8 608.5 L699.2 608.4 L700.6 608.5 L702 608.4 L703.4 608.4M703.4 608.4 L704.8 608.6 L706.2 611.3 L707.6 609 L709 609.7 L710.4 608.8 L711.8 609.1 L713.2 608.2 L714.6 609.2 L716 608.6 L717.4 609.1 L718.8 609.2 L720.2 608.3 L721.6 608.5M744 610.4 L745.4 609.3 L746.8 607.8 L748.2 607.5 L749.6 607.6 L751 607.3 L752.4 607.6 L753.8 607.4 L755.2 607.8 L756.6 606.7 L758 606.6 L759.4 607.6 L760.8 607 L762.2 607.8M762.2 607.8 L763.6 606.9 L765 607.7 L766.4 608.1 L767.8 608.8 L769.2 607.3 L770.6 607.6 L772 606.3 L773.4 606.2M773.4 606.2 L774.8 605.8 L776.2 606.6 L777.6 607.4 L779 607.5 L780.4 607.4 L781.8 607.5 L783.2 607.4 L784.6 606.6 L786 606.4 L787.4 605.8 L788.8 605.3 L790.2 604.6 L791.6 604.6 L793 604.6M793 604.6 L794.4 604.6 L795.8 605.2 L797.2 606 L798.6 606.7 L800 606.1 L801.4 604.8 L802.8 605 L804.2 603.5 L805.6 603.4 L807 603.7 L808.4 603.3 L809.8 602.9 L811.2 602.9 L812.6 602.8 L814 602.6 L815.4 603.3M815.4 603.3 L816.8 602.7 L818.2 603.3 L819.6 603.8 L821 603.7 L822.4 603.7M822.4 603.7 L823.8 605.3 L825.2 605.6 L826.6 605.3 L828 603.6 L829.4 603.5 L830.8 603.3 L832.2 603.9 L833.6 602.9 L835 603.9 L836.4 603.3 L837.8 603.4 L839.2 603.5 L840.6 603.6 L842 603.7M842 603.7 L843.4 602.9 L844.8 603.8 L846.2 603.9 L847.6 605.6 L849 604.8 L850.4 604.2 L851.8 602.8 L853.2 603.1M860.2 602.2 L861.6 601.6 L863 602.1 L864.4 601.2 L865.8 602.3 L867.2 602.6M867.2 602.6 L868.6 602 L870 602.5 L871.4 602.4 L872.8 603.5 L874.2 603.8 L875.6 603.6 L877 602.5 L878.4 602 L879.8 601.8 L881.2 601.3 L882.6 600.8 L884 600.7M884 600.7 L885.4 601.6 L886.8 601.2 L888.2 601.8 L889.6 601.7 L891 602.8 L892.4 603.5M892.4 603.5 L893.8 602.1 L895.2 602.2 L896.6 601.1 L898 601.6 L899.4 600.8 L900.8 601.2M900.8 601.2 L902.2 600.7 L903.6 600.8 L905 601.1 L906.4 600.3 L907.8 599.7 L909.2 600.3 L910.6 600.4 L912 600.2 L913.4 600.8 L914.8 600.8 L916.2 601.7 L917.6 602.7M917.6 602.7 L919 601.5 L920.4 601.1 L921.8 601.2 L923.2 600.4 L924.6 600.2 L926 599.7 L927.4 599.9 L928.8 600.4 L930.2 600.4 L931.6 599.7 L933 599.4 L934.4 600.8 L935.8 600.8 L937.2 601.3 L938.6 601M938.6 601 L940 601 L941.4 600.3 L942.8 600.1 L944.2 599.8 L945.6 598.7 L947 598.3 L948.4 599.2 L949.8 599.2 L951.2 599.4 L952.6 598M952.6 598 L954 598.8 L955.4 598.7 L956.8 599.1 L958.2 598.3 L959.6 599.1 L961 598.9 L962.4 599.5 L963.8 599.4 L965.2 599.2 L966.6 597.7 L968 598.4 L969.4 597 L970.8 596.8 L972.2 596.3 L973.6 596.8 L975 596M975 596 L976.4 597.2M563.4 620.7 L564.8 621.2 L566.2 619.3 L567.6 619.5 L569 619.2M569 619.2 L570.4 619.5 L571.8 619.7 L573.2 621.2 L574.6 621 L576 620.8 L577.4 620.6 L578.8 620.5M578.8 620.5 L580.2 620.1 L581.6 620.6 L583 619.7 L584.4 619.5 L585.8 617.6 L587.2 618.1 L588.6 618.6 L590 619.5 L591.4 619.4 L592.8 619.9 L594.2 619.9M594.2 619.9 L595.6 619.5 L597 619.4 L598.4 619.3 L599.8 619 L601.2 618.2 L602.6 617.2 L604 618.3 L605.4 619.1 L606.8 619.2 L608.2 619 L609.6 618.5 L611 619 L612.4 619.7 L613.8 619.8 L615.2 618.2 L616.6 618.1M616.6 618.1 L618 618.2 L619.4 619 L620.8 617.4 L622.2 618 L623.6 616.5M629.2 617.7 L630.6 616.6 L632 617.8 L633.4 617.6 L634.8 616.4 L636.2 617 L637.6 615.8 L639 615.1 L640.4 615.1 L641.8 615.4 L643.2 616.2 L644.6 616.4 L646 616M646 616 L647.4 616.7 L648.8 616.7 L650.2 616.2 L651.6 616.4 L653 615.7 L654.4 614.6 L655.8 615.3 L657.2 615M657.2 615 L658.6 615.5 L660 616.9 L661.4 617.4 L662.8 617.5 L664.2 616.3 L665.6 617 L667 616.2 L668.4 616.6M668.4 616.6 L669.8 615.9 L671.2 616.3 L672.6 615.2 L674 615.2 L675.4 613 L676.8 613.8 L678.2 615.1 L679.6 615.8 L681 615.2 L682.4 615.6 L683.8 616.2 L685.2 615.6M692.2 613.5 L693.6 613.9 L695 612.5 L696.4 613.3 L697.8 614.1 L699.2 614.5M699.2 614.5 L700.6 614.8 L702 614.1 L703.4 613.5 L704.8 613.2 L706.2 613.9 L707.6 614.7 L709 615.2 L710.4 616.1 L711.8 616 L713.2 615.3 L714.6 614.9 L716 615.5 L717.4 613.9 L718.8 611.9 L720.2 612.9 L721.6 612.9M721.6 612.9 L723 612.8 L724.4 612.8 L725.8 612.7 L727.2 613.4M727.2 613.4 L728.6 613.2 L730 612.7 L731.4 613.1 L732.8 612.7 L734.2 613.3 L735.6 612.4 L737 611.5M737 611.5 L738.4 611.4 L739.8 611.4 L741.2 611.8 L742.6 610.9 L744 611.1 L745.4 611.3 L746.8 612.5 L748.2 611.9 L749.6 612.8 L751 612.3 L752.4 612.1 L753.8 612 L755.2 612.6M767.8 611.8 L769.2 611.6 L770.6 612.9 L772 613.1 L773.4 612.1 L774.8 612.7M793 611.6 L794.4 612 L795.8 610.5 L797.2 610.2 L798.6 610.3 L800 609.9 L801.4 610.2 L802.8 610.5 L804.2 610.5 L805.6 610.3 L807 610.5 L808.4 611.7 L809.8 611 L811.2 610.4M811.2 610.4 L812.6 610.9 L814 610.5 L815.4 610.5 L816.8 610.5M829.4 610.3 L830.8 610.4 L832.2 609.9 L833.6 609.4 L835 609.4 L836.4 609.4M836.4 609.4 L837.8 609.5 L839.2 609.5 L840.6 610.1 L842 609.4 L843.4 609.1 L844.8 608.8 L846.2 608.8 L847.6 607.3 L849 608.5 L850.4 609.3 L851.8 608.9 L853.2 609.1M853.2 609.1 L854.6 608.9 L856 609.7 L857.4 609.4 L858.8 610.1 L860.2 609.5 L861.6 610.2 L863 609.5 L864.4 608.9 L865.8 608.4 L867.2 609 L868.6 608.3 L870 608.8 L871.4 608.6M899.4 606.3 L900.8 605.6 L902.2 606.5 L903.6 605.5 L905 606.8 L906.4 605.3 L907.8 605.3 L909.2 606.2 L910.6 605.3 L912 606.1 L913.4 604.7 L914.8 604.7M914.8 604.7 L916.2 603.7 L917.6 605.2 L919 605.6 L920.4 605.6 L921.8 605.8 L923.2 606.1 L924.6 606.8 L926 605.5 L927.4 606.8 L928.8 606.1 L930.2 606.3 L931.6 605.6 L933 605.4M933 605.4 L934.4 605.1 L935.8 605.6 L937.2 604.5 L938.6 603.5 L940 602.9 L941.4 603.4 L942.8 603.1 L944.2 604.4 L945.6 603.4 L947 604.4 L948.4 603.5M948.4 603.5 L949.8 603.2 L951.2 603.2 L952.6 603.2 L954 603.1 L955.4 603.3 L956.8 602.7 L958.2 603.9 L959.6 602.4 L961 602.3 L962.4 603.2 L963.8 602.2 L965.2 602.3 L966.6 602.7M563.4 633.1 L564.8 633.4 L566.2 632.8 L567.6 633.2 L569 633.6 L570.4 632.7 L571.8 633.6 L573.2 633.9 L574.6 634.3 L576 634.4 L577.4 634.2 L578.8 635.1 L580.2 635.4 L581.6 634.4M581.6 634.4 L583 633.6 L584.4 634.6 L585.8 633.9 L587.2 633.3 L588.6 634 L590 632.8 L591.4 634.1 L592.8 633M592.8 633 L594.2 634.2 L595.6 633.5 L597 633.7 L598.4 634.4 L599.8 634.5 L601.2 633.5 L602.6 633.2 L604 633.4 L605.4 632.4 L606.8 632M606.8 632 L608.2 632 L609.6 632.1 L611 631.4 L612.4 631.7 L613.8 632.1 L615.2 632.6 L616.6 633.1M616.6 633.1 L618 634.6 L619.4 633 L620.8 632.4 L622.2 632M632 631.2 L633.4 630.8 L634.8 631 L636.2 630.8 L637.6 630.6 L639 630.1 L640.4 629.6 L641.8 629.7 L643.2 629.8M643.2 629.8 L644.6 630.8 L646 630.3 L647.4 630.2 L648.8 631.4 L650.2 631.2 L651.6 631.2 L653 630.8 L654.4 630.3 L655.8 629.9 L657.2 629.3 L658.6 629.5 L660 629 L661.4 629.3M661.4 629.3 L662.8 630.1 L664.2 630.1 L665.6 631.5 L667 631.7 L668.4 630.3 L669.8 629.4 L671.2 630.3 L672.6 629.4 L674 630.2M674 630.2 L675.4 632 L676.8 629.9 L678.2 629.8 L679.6 628.8 L681 628.2 L682.4 629 L683.8 627.7 L685.2 628.7 L686.6 628.1 L688 628.1 L689.4 629.3 L690.8 629.6 L692.2 630 L693.6 629.9 L695 629 L696.4 628.3M696.4 628.3 L697.8 628.3 L699.2 628.1 L700.6 629.2 L702 629.2 L703.4 630.5 L704.8 629.8 L706.2 629.1 L707.6 629.2 L709 629.4 L710.4 628.9 L711.8 627.9 L713.2 628.9M713.2 628.9 L714.6 629.4 L716 628.5 L717.4 628.9 L718.8 629.4 L720.2 629.2 L721.6 628.2 L723 627.8 L724.4 628 L725.8 628 L727.2 627.7 L728.6 626.7 L730 626.6 L731.4 627M731.4 627 L732.8 628.1 L734.2 628 L735.6 628.4 L737 627.4 L738.4 627.1 L739.8 626.7 L741.2 626.1 L742.6 626.8 L744 626.9 L745.4 625.5 L746.8 626.8M746.8 626.8 L748.2 625.8 L749.6 626.7 L751 626.7 L752.4 626.7 L753.8 626.4 L755.2 626.3M783.2 625.2 L784.6 626.2 L786 625.7 L787.4 626 L788.8 625.5 L790.2 626 L791.6 626.4 L793 626 L794.4 626.4 L795.8 625.6 L797.2 625.9 L798.6 625.1 L800 625.4 L801.4 625.8 L802.8 624.9 L804.2 624.5 L805.6 625.9M825.2 621.7 L826.6 621.6 L828 622 L829.4 621.7 L830.8 621.7 L832.2 622.7 L833.6 623.6 L835 623.6 L836.4 623.2 L837.8 623.9 L839.2 622.3 L840.6 623.3 L842 622.3 L843.4 622.8 L844.8 622 L846.2 622 L847.6 621.8M847.6 621.8 L849 622.8 L850.4 623 L851.8 622.6 L853.2 623 L854.6 623.9 L856 624.5 L857.4 623.6 L858.8 622.4 L860.2 621.8 L861.6 622.5 L863 622.8 L864.4 622.6 L865.8 624.3M865.8 624.3 L867.2 624.1 L868.6 622.9 L870 623.4 L871.4 621.7 L872.8 622.7 L874.2 622.1 L875.6 622.2 L877 622.5M934.4 621.3 L935.8 620.1 L937.2 620.1 L938.6 620.5 L940 620.6 L941.4 619.6M941.4 619.6 L942.8 619.7 L944.2 620.3 L945.6 620.7 L947 619.8 L948.4 618.8 L949.8 619.3 L951.2 617.9 L952.6 618.7M968 619.6 L969.4 618.6 L970.8 617.7 L972.2 617.2 L973.6 617.9 L975 618.1M975 618.1 L976.4 616.7M606.8 637.9 L608.2 638.4 L609.6 637.5 L611 638.2 L612.4 637.7 L613.8 637.4 L615.2 637.8 L616.6 636.8 L618 636 L619.4 637 L620.8 636.9 L622.2 638.5 L623.6 637.4M623.6 637.4 L625 637.4 L626.4 636.7 L627.8 635.4 L629.2 636.4 L630.6 636.4 L632 636.9 L633.4 636.9 L634.8 637.3 L636.2 637 L637.6 637.6 L639 637.9 L640.4 637.9M640.4 637.9 L641.8 636.6 L643.2 637.4 L644.6 636.6 L646 637 L647.4 636.9 L648.8 636.4M648.8 636.4 L650.2 634.7 L651.6 634.9 L653 634.9 L654.4 635.8 L655.8 635.8 L657.2 636.8 L658.6 636 L660 636.1M660 636.1 L661.4 636.4 L662.8 635.7 L664.2 634.6 L665.6 634.2 L667 636.2 L668.4 636.8 L669.8 636.8 L671.2 637.2M690.8 633.2 L692.2 632.3 L693.6 632.9 L695 634.4 L696.4 634.4 L697.8 634.6 L699.2 633.4 L700.6 632.9 L702 632.8 L703.4 635 L704.8 634.4M704.8 634.4 L706.2 635.2 L707.6 635.5 L709 635.7 L710.4 635 L711.8 634.5 L713.2 635.2 L714.6 635.5 L716 634.7M716 634.7 L717.4 634.1 L718.8 633.5 L720.2 633 L721.6 633.3 L723 633.6 L724.4 633.8 L725.8 634.9 L727.2 634.5 L728.6 634M746.8 632.7 L748.2 632.7 L749.6 633.3 L751 632.9 L752.4 632.3 L753.8 631.7M753.8 631.7 L755.2 632.2 L756.6 630.6 L758 630.8 L759.4 630.1 L760.8 630.7 L762.2 630.7 L763.6 631.6 L765 631.6 L766.4 630.8 L767.8 631.5 L769.2 631.3 L770.6 631.5 L772 631.3 L773.4 630.8 L774.8 630 L776.2 630M776.2 630 L777.6 629.8 L779 629 L780.4 631.6 L781.8 632.4 L783.2 632.4 L784.6 633.1 L786 632.5M800 629.8 L801.4 630.8 L802.8 630.8 L804.2 630.9 L805.6 629.9 L807 629.9M807 629.9 L808.4 629.9 L809.8 629.5 L811.2 629.3 L812.6 631 L814 632 L815.4 632 L816.8 632 L818.2 630.9 L819.6 629 L821 627.9 L822.4 629.1 L823.8 628.9 L825.2 629.8 L826.6 628.9M846.2 627.6 L847.6 628.1 L849 626.8 L850.4 627.9 L851.8 626.8 L853.2 626 L854.6 625.8 L856 627.3 L857.4 629.2 L858.8 629.7 L860.2 630 L861.6 629.1 L863 628.8M863 628.8 L864.4 628.6 L865.8 627.5 L867.2 626.9 L868.6 627.4 L870 627.6 L871.4 628.1 L872.8 627.7 L874.2 627.8 L875.6 629.2 L877 628.5M877 628.5 L878.4 628.7 L879.8 628 L881.2 628 L882.6 627.4 L884 627.9 L885.4 627.9 L886.8 627.3 L888.2 626.4 L889.6 625.4 L891 624.8 L892.4 624.5 L893.8 625.9 L895.2 625.7M895.2 625.7 L896.6 626.1 L898 625.6 L899.4 625.8 L900.8 626.1 L902.2 625.7 L903.6 625.5 L905 624.5 L906.4 624.1 L907.8 625.7M924.6 625.8 L926 625.2 L927.4 625.3 L928.8 624.6 L930.2 625 L931.6 623.7 L933 625.5 L934.4 625.8 L935.8 625.4 L937.2 625.5 L938.6 625.9 L940 625.7 L941.4 625.3 L942.8 625.2 L944.2 624.7M944.2 624.7 L945.6 623.8 L947 624 L948.4 624.3 L949.8 624.4 L951.2 625 L952.6 626 L954 624.5 L955.4 625.8 L956.8 625.4 L958.2 625.4 L959.6 624.9M959.6 624.9 L961 625.1 L962.4 624.2 L963.8 623.5 L965.2 623.5 L966.6 622 L968 622.6 L969.4 622.2 L970.8 622.9 L972.2 622.2M972.2 622.2 L973.6 623.2 L975 623 L976.4 623.6M563.4 461.8 L564.8 462.2 L566.2 462.7 L567.6 462.2 L569 461.5 L570.4 461.6 L571.8 460.6 L573.2 460.2 L574.6 460.6M574.6 460.6 L576 460.6 L577.4 461.1 L578.8 461.2 L580.2 461.7 L581.6 462.1 L583 462.8 L584.4 461.4M584.4 461.4 L585.8 460.9 L587.2 461.4 L588.6 461.8 L590 461.1 L591.4 461.9 L592.8 462.1 L594.2 462.9 L595.6 462 L597 460.8 L598.4 460.4 L599.8 459.6M599.8 459.6 L601.2 459.5 L602.6 459.4 L604 460.1 L605.4 460.3 L606.8 459.5 L608.2 460.2 L609.6 460 L611 461 L612.4 460.3 L613.8 460.2M613.8 460.2 L615.2 459.7 L616.6 459.8 L618 459.6 L619.4 458.5 L620.8 459.2 L622.2 459.7 L623.6 460.2 L625 462.3 L626.4 459.7 L627.8 458.9M637.6 460.5 L639 460.8 L640.4 458.9 L641.8 458.3 L643.2 458.6 L644.6 458.6M644.6 458.6 L646 458.4 L647.4 457.6 L648.8 457.8 L650.2 458.8 L651.6 458.6 L653 458.7 L654.4 459.3 L655.8 457.4 L657.2 456.9 L658.6 456.6 L660 457.4 L661.4 457.6M661.4 457.6 L662.8 457.6 L664.2 457.3 L665.6 457.5 L667 459.6 L668.4 457.7 L669.8 456.6M669.8 456.6 L671.2 457 L672.6 456.4 L674 456.2 L675.4 457.5 L676.8 456.7 L678.2 457.8 L679.6 458.3 L681 457 L682.4 456.4 L683.8 455.8 L685.2 455.9 L686.6 455.2 L688 455.2 L689.4 455.9 L690.8 456.4 L692.2 456.5M692.2 456.5 L693.6 457 L695 457.4 L696.4 457.3 L697.8 456.1 L699.2 455.5M699.2 455.5 L700.6 455.2 L702 455.6 L703.4 454.4 L704.8 454.6 L706.2 455.3 L707.6 455.4 L709 455.4 L710.4 456.1 L711.8 455.9 L713.2 455.6 L714.6 455.2 L716 454.8 L717.4 455M735.6 457.1 L737 455.5 L738.4 455.4 L739.8 454.9 L741.2 454.3 L742.6 455.3 L744 455.2 L745.4 454.7 L746.8 453.9M759.4 452.1 L760.8 451.9 L762.2 451.8 L763.6 452.7 L765 452.2 L766.4 453.4 L767.8 453.6 L769.2 453.2 L770.6 454 L772 454.2 L773.4 453.4M773.4 453.4 L774.8 452.5 L776.2 453 L777.6 452.6 L779 453.6 L780.4 453.4 L781.8 454.3 L783.2 452.8 L784.6 452.7M784.6 452.7 L786 451.8 L787.4 451.7 L788.8 452.4 L790.2 451.6 L791.6 451.6 L793 451.7 L794.4 451.6 L795.8 451.7 L797.2 452.4 L798.6 453.4 L800 452.4 L801.4 450.8M563.4 466.3 L564.8 466.9 L566.2 465.3 L567.6 467 L569 467.3 L570.4 467.5 L571.8 468.8 L573.2 468.2 L574.6 467.9 L576 467.9M595.6 465.4 L597 465.2 L598.4 466.7 L599.8 466.7 L601.2 466.6 L602.6 466.5 L604 465.5 L605.4 466.1 L606.8 465.5M606.8 465.5 L608.2 465.8 L609.6 464.3 L611 464.2 L612.4 465.1 L613.8 465.3 L615.2 465.5 L616.6 466.3M616.6 466.3 L618 466.6 L619.4 466.6 L620.8 465.8 L622.2 466 L623.6 464.5 L625 463.7M625 463.7 L626.4 465.3 L627.8 465.5 L629.2 465.5 L630.6 466.3 L632 466 L633.4 465.8M633.4 465.8 L634.8 466.5 L636.2 465.2 L637.6 464.5 L639 462.9 L640.4 462.5 L641.8 463.7 L643.2 463.5 L644.6 463.4 L646 463.7 L647.4 464.1 L648.8 464M668.4 463.1 L669.8 464.1 L671.2 463.9 L672.6 464.6 L674 464.8 L675.4 463.9 L676.8 463.7 L678.2 462 L679.6 460.9 L681 461.4 L682.4 462.3 L683.8 462.5 L685.2 461.8 L686.6 462.4 L688 462.5 L689.4 462.5 L690.8 462.2M690.8 462.2 L692.2 461.1 L693.6 461.9 L695 460.9 L696.4 460.8 L697.8 461.5 L699.2 460.5 L700.6 461.5 L702 461.1 L703.4 461.8 L704.8 461.9 L706.2 460.6M706.2 460.6 L707.6 461.2 L709 461 L710.4 458.7 L711.8 460.8M711.8 460.8 L713.2 461.2 L714.6 462.2 L716 462.1 L717.4 461.6M735.6 459.4 L737 460.6 L738.4 461 L739.8 460.5 L741.2 460.3 L742.6 460.3 L744 461 L745.4 460.2 L746.8 459.8 L748.2 460.8 L749.6 459.5 L751 459.3M751 459.3 L752.4 459.3 L753.8 457.6 L755.2 458.6 L756.6 459.8 L758 458.7 L759.4 459.7 L760.8 459.7 L762.2 459.6 L763.6 459.6 L765 459.9 L766.4 459.6 L767.8 459.5M767.8 459.5 L769.2 458.3 L770.6 457.8 L772 456.7 L773.4 458.8 L774.8 458.6 L776.2 459.2 L777.6 458.8 L779 459.1 L780.4 457.7 L781.8 457.4M781.8 457.4 L783.2 457 L784.6 457.6 L786 458.1 L787.4 458.5 L788.8 458.7 L790.2 458.5 L791.6 459M791.6 459 L793 458.4 L794.4 457.6 L795.8 457 L797.2 456.2 L798.6 455.3 L800 456.9 L801.4 457.2M807 454 L808.4 453 L809.8 452.8 L811.2 453.2 L812.6 453.8 L814 453.4 L815.4 453.4 L816.8 453.6 L818.2 453.7 L819.6 453.4 L821 453M821 453 L822.4 453.1 L823.8 453.3 L825.2 453.7 L826.6 453.2 L828 452.4 L829.4 453.4 L830.8 452.7 L832.2 452.2 L833.6 452.7M833.6 452.7 L835 452.6 L836.4 453.1 L837.8 452.6 L839.2 452.3M807 455.6 L808.4 455.1 L809.8 455.1 L811.2 455 L812.6 456.1 L814 456.2 L815.4 455.9 L816.8 455.1 L818.2 455.4 L819.6 454.9 L821 454.3 L822.4 454.6 L823.8 453.9 L825.2 453.9M825.2 453.9 L826.6 454.3 L828 454.4 L829.4 453.8 L830.8 454.4 L832.2 453.7 L833.6 454 L835 454.1 L836.4 453.9 L837.8 454.1 L839.2 453.8M851 452 L852.4 453.7 L853.8 452.3 L855.2 452.4 L856.6 452.2 L858 452.1 L859.4 451.9 L860.8 452.2 L862.2 453.1 L863.6 452.6 L865 451 L866.4 451.8 L867.8 452.1M844 454 L845.4 454.5 L846.8 453.4 L848.2 454.1 L849.6 453.7 L851 453.5M851 453.5 L852.4 454.2 L853.8 454.2 L855.2 453.9 L856.6 453.6 L858 453.6 L859.4 454.4 L860.8 453.7 L862.2 453.6 L863.6 454.2 L865 454 L866.4 454.3 L867.8 454.7M878 450.4 L879.4 451.2 L880.8 450.2 L882.2 450.4 L883.6 450.2 L885 450.5 L886.4 451.1 L887.8 451 L889.2 450.8 L890.6 450.5 L892 450.4 L893.4 451 L894.8 451.2 L896.2 450.5 L897.6 450 L899 451M899 451 L900.4 450.6 L901.8 450.4M878 452.3 L879.4 451.9 L880.8 452.9 L882.2 451.6 L883.6 451.5 L885 452.2M916 449.3 L917.4 448.7 L918.8 448.8 L920.2 449.1 L921.6 450.2 L923 450.2 L924.4 448.5 L925.8 448.7M916 451 L917.4 451.3 L918.8 450.9 L920.2 450.1 L921.6 450.6M956 447.2 L957.4 447.3 L958.8 446.6 L960.2 447.2 L961.6 447.9 L963 447.5 L964.4 446.9 L965.8 447.6 L967.2 448.9 L968.6 448.8 L970 448.5 L971.4 447.8M956 449.4 L957.4 450.4 L958.8 449.3 L960.2 450.4 L961.6 448.8 L963 448.8 L964.4 448.6 L965.8 449.5 L967.2 448.9 L968.6 448.8 L970 449.5 L971.4 449M563.4 578.3 L564.8 578.6 L566.2 577.7 L567.6 578.2 L569 578.2 L570.4 578.9 L571.8 579.1 L573.2 578 L574.6 578.4 L576 577.7M563.4 581.2 L564.8 580.6 L566.2 581 L567.6 580.1 L569 579.8 L570.4 580.7 L571.8 580.3 L573.2 579.7 L574.6 579.2 L576 579.8M626.2 575.9 L627.6 576 L629 576.5 L630.4 575.6 L631.8 576.5 L633.2 576.9 L634.6 575.5 L636 574.4 L637.4 575.6 L638.8 574.6 L640.2 575.2 L641.6 574.9M641.6 574.9 L643 574.6M587 578.9 L588.4 578.7 L589.8 578.7 L591.2 578.4 L592.6 578.7 L594 579.5 L595.4 579.6 L596.8 579.3M613.6 577.9 L615 577.9 L616.4 577.3 L617.8 578.4 L619.2 578.3 L620.6 578.7 L622 578.3 L623.4 577.4 L624.8 578.5 L626.2 577.5 L627.6 578.4 L629 577.2 L630.4 577.2 L631.8 577.1 L633.2 577.1M633.2 577.1 L634.6 576.5 L636 576.6 L637.4 577.7 L638.8 577.8 L640.2 577.7M645 574.5 L646.4 575.2 L647.8 575 L649.2 574.8 L650.6 575.7 L652 575.2 L653.4 575.1M673 574.5 L674.4 573.1 L675.8 573.7 L677.2 574.7 L678.6 574.8 L680 573 L681.4 573.2 L682.8 573.6 L684.2 573.3 L685.6 572.2 L687 573.5 L688.4 572.7 L689.8 574.6 L691.2 574.1 L692.6 573.6 L694 573.7 L695.4 572.7M645 578.2 L646.4 577.5 L647.8 577.5 L649.2 577.3 L650.6 578 L652 577.6 L653.4 577.2 L654.8 577.8 L656.2 577.4 L657.6 577.8 L659 577.1 L660.4 576.5 L661.8 576.3 L663.2 575.8M663.2 575.8 L664.6 575.9 L666 576.3 L667.4 576 L668.8 576.6 L670.2 576.6 L671.6 575.6 L673 576.3 L674.4 575.9 L675.8 575.3 L677.2 575.2M703 572.4 L704.4 571.7 L705.8 572 L707.2 572.4 L708.6 572.5 L710 573.5 L711.4 572.9 L712.8 572.3 L714.2 572.7 L715.6 571.8 L717 572.4 L718.4 571.8M718.4 571.8 L719.8 572.3 L721.2 571.4 L722.6 571.6 L724 572.5 L725.4 572.1 L726.8 571 L728.2 571.8 L729.6 571.3 L731 570.6 L732.4 571.5 L733.8 570.5M733.8 570.5 L735.2 571.2 L736.6 571.4 L738 570.5 L739.4 570.3M739.4 570.3 L740.8 570.3 L742.2 571.2 L743.6 570.9 L745 570.5 L746.4 570.2 L747.8 569.4 L749.2 569.8 L750.6 569.7 L752 569.4 L753.4 570.7 L754.8 571.1 L756.2 570.3 L757.6 571.2 L759 570.7 L760.4 570.3 L761.8 569.6M761.8 569.6 L763.2 569.8 L764.6 569.8 L766 569.4 L767.4 569.8 L768.8 569.8 L770.2 570.6 L771.6 570.5 L773 570.8 L774.4 570.3 L775.8 569.3 L777.2 569.8 L778.6 568.4 L780 568.4 L781.4 568.4 L782.8 567.8 L784.2 568.5M703 576.6 L704.4 575.7 L705.8 576.1 L707.2 575.4 L708.6 575.5 L710 573.5 L711.4 573.7 L712.8 573.4 L714.2 573.7 L715.6 574.2 L717 574.5 L718.4 573.6 L719.8 573.5 L721.2 573.5 L722.6 573 L724 572.8 L725.4 573.2M725.4 573.2 L726.8 573.2 L728.2 573.7 L729.6 573.5 L731 572.6 L732.4 572.5 L733.8 573.1 L735.2 573.5 L736.6 573.7 L738 572.6 L739.4 572.6 L740.8 573.3 L742.2 572.4 L743.6 572M743.6 572 L745 572.9 L746.4 573.8 L747.8 573 L749.2 573.4 L750.6 573.2 L752 572.6 L753.4 572.8 L754.8 572.6 L756.2 572.7 L757.6 572.9 L759 572.5 L760.4 572.8M773 572.4 L774.4 572.4 L775.8 572 L777.2 571.8 L778.6 571.9 L780 572.3 L781.4 572.4 L782.8 572.2 L784.2 571.7M804 568.4 L805.4 568.1 L806.8 568.6 L808.2 569 L809.6 568.6 L811 568.3 L812.4 568.1 L813.8 567.6 L815.2 567.7 L816.6 568.5 L818 568.5 L819.4 567.7M790 572.4 L791.4 571.4 L792.8 571.2 L794.2 570 L795.6 570.2 L797 571.1 L798.4 570.9 L799.8 570.8 L801.2 570.3 L802.6 570.6 L804 571.4M804 571.4 L805.4 569.9 L806.8 570.7 L808.2 570.3 L809.6 569.5 L811 570 L812.4 569.7 L813.8 570 L815.2 569.6 L816.6 569.4 L818 570.7 L819.4 569.3M827 567.9 L828.4 567.5 L829.8 567.3 L831.2 567.6 L832.6 566.9 L834 567.1 L835.4 567.7 L836.8 567.5 L838.2 568.1M852.2 567.8 L853.6 567.6 L855 568M841 569.1 L842.4 569.7 L843.8 570 L845.2 569.2 L846.6 569.1M846.6 569.1 L848 569.3 L849.4 569.3 L850.8 568.9 L852.2 569.3 L853.6 568.7 L855 569.6M868 566.4 L869.4 566.4 L870.8 566 L872.2 565.7 L873.6 565.6 L875 565M868 568.2 L869.4 568.4 L870.8 568.9 L872.2 568.6 L873.6 568.9 L875 568.7 L876.4 568 L877.8 569 L879.2 567.8 L880.6 567.3 L882 567.4 L883.4 567.8M883.4 567.8 L884.8 568 L886.2 567.8 L887.6 567.7 L889 567.4M904 564.4 L905.4 563.3 L906.8 563.2 L908.2 563.2 L909.6 563.9 L911 564.9 L912.4 565.7 L913.8 565M913.8 565 L915.2 564.2 L916.6 565.2 L918 564.9 L919.4 563.9 L920.8 564.9M904 567 L905.4 567.9 L906.8 567.5 L908.2 566.9 L909.6 567.2M909.6 567.2 L911 565.9 L912.4 566.3 L913.8 566.3 L915.2 566.5 L916.6 565.6 L918 566 L919.4 566.4 L920.8 565.6M939 566.8 L940.4 566.6 L941.8 565.6 L943.2 565.7 L944.6 565.8 L946 564.9 L947.4 564.9 L948.8 565 L950.2 564.7 L951.6 564.5 L953 565 L954.4 564.9M954.4 564.9 L955.8 564.5 L957.2 564.6 L958.6 565.2M967 561.7 L968.4 561.6 L969.8 561.8 L971.2 561.3 L972.6 560.8 L974 561.4 L975.4 562.3M571.8 595.6 L573.2 595.6 L574.6 595.6 L576 595 L577.4 595.7 L578.8 595.2 L580.2 596.2 L581.6 594.2 L583 593.8 L584.4 593.3 L585.8 593.2 L587.2 594.6 L588.6 594 L590 595 L591.4 593.6 L592.8 593.6M592.8 593.6 L594.2 593 L595.6 592.8 L597 593.5 L598.4 593.1 L599.8 593 L601.2 593.5 L602.6 593.3 L604 595.2M604 595.2 L605.4 594 L606.8 593.6 L608.2 593.4 L609.6 593M609.6 593 L611 592.4 L612.4 592 L613.8 592 L615.2 593 L616.6 592.3 L618 594.6 L619.4 594.2 L620.8 592.4 L622.2 593.4 L623.6 592.6 L625 592.8 L626.4 592.9 L627.8 592 L629.2 592.4 L630.6 592.7M647.4 592.6 L648.8 592.9 L650.2 592.9 L651.6 593.9 L653 593.4 L654.4 592.3 L655.8 591.8 L657.2 591.5 L658.6 591.5 L660 591.8 L661.4 591.1 L662.8 592 L664.2 592 L665.6 593.9 L667 590.5M675.4 590.2 L676.8 590.2 L678.2 590.1 L679.6 590.9 L681 590.5 L682.4 591.8 L683.8 590.6 L685.2 590.9 L686.6 590.5 L688 590.4 L689.4 589.2 L690.8 590.1 L692.2 592 L693.6 590.3 L695 590.4M695 590.4 L696.4 589.9 L697.8 589.5 L699.2 589.9 L700.6 590 L702 590.1 L703.4 590.3 L704.8 590.8M721.6 589.2 L723 589.1 L724.4 589.2 L725.8 590.1 L727.2 590.4 L728.6 591.4 L730 589.7 L731.4 589.9 L732.8 589.4 L734.2 589.1 L735.6 589M735.6 589 L737 589.2 L738.4 589.1 L739.8 587.9 L741.2 589.3 L742.6 589.6 L744 589.9 L745.4 589.9 L746.8 588.1 L748.2 589 L749.6 588.5 L751 587.9M751 587.9 L752.4 587.5 L753.8 587.9 L755.2 588.2 L756.6 589 L758 589.2 L759.4 588.3 L760.8 588.1 L762.2 588.3 L763.6 587.9M763.6 587.9 L765 587.5 L766.4 588.3 L767.8 587.9 L769.2 588.9M563.4 600 L564.8 599.5 L566.2 599.6 L567.6 599.7 L569 598.2 L570.4 599.2 L571.8 599.8 L573.2 600.2 L574.6 599.7 L576 599.2 L577.4 599.6 L578.8 598.6M578.8 598.6 L580.2 597.4 L581.6 598.3 L583 599.4 L584.4 599 L585.8 599.8 L587.2 598.8 L588.6 598.8M588.6 598.8 L590 597.8 L591.4 599.1 L592.8 598.3 L594.2 599.2 L595.6 599.3 L597 598.1 L598.4 598.8 L599.8 598.8M599.8 598.8 L601.2 597.6 L602.6 598 L604 596.9 L605.4 597.3 L606.8 597.3 L608.2 597.8 L609.6 597.9M615.2 597.9 L616.6 596.7 L618 595.6 L619.4 596.5 L620.8 596.1 L622.2 597.4 L623.6 597 L625 597 L626.4 596.7 L627.8 596.6 L629.2 596 L630.6 596.1 L632 595.9 L633.4 594.7 L634.8 596.2M647.4 595.4 L648.8 595.3 L650.2 595.7 L651.6 596.4 L653 596.6M653 596.6 L654.4 597.5 L655.8 597.9 L657.2 597.5 L658.6 596.9 L660 597.8M669.8 595.6 L671.2 595.5 L672.6 595.8 L674 596.3 L675.4 595.3 L676.8 595.3 L678.2 595 L679.6 594.4 L681 593.8M703.4 592.4 L704.8 592.2 L706.2 593.4 L707.6 593.8 L709 594.6 L710.4 594 L711.8 594.1 L713.2 592.9 L714.6 593.1 L716 593.9 L717.4 593.1 L718.8 593.9 L720.2 593.5 L721.6 593.9 L723 593.7 L724.4 594.1M724.4 594.1 L725.8 593 L727.2 592.3 L728.6 591.7 L730 592.3 L731.4 593.2M760.8 591.8 L762.2 591.9 L763.6 591.7 L765 592.1 L766.4 591.6 L767.8 592 L769.2 591.3M787.4 588.5 L788.8 588.4 L790.2 588.6 L791.6 587.1 L793 587.7 L794.4 587.9 L795.8 587.6 L797.2 588.3 L798.6 587.2 L800 587.6M772 590.4 L773.4 591 L774.8 590.7 L776.2 591.1 L777.6 590.3 L779 590.7 L780.4 589.7 L781.8 589.7 L783.2 590.4 L784.6 590.7 L786 590.5 L787.4 590.4 L788.8 589.7 L790.2 589.9M790.2 589.9 L791.6 590.1 L793 589.1 L794.4 589.9 L795.8 588.6 L797.2 589.2 L798.6 590.2 L800 589.7M806 586.5 L807.4 585.4 L808.8 585.7 L810.2 586.5 L811.6 585.4 L813 585.7 L814.4 587.6 L815.8 586.8 L817.2 587.1 L818.6 586.9 L820 586.4 L821.4 586.9 L822.8 587.2M822.8 587.2 L824.2 586.2 L825.6 586.8 L827 586.9 L828.4 586.6 L829.8 587 L831.2 587.3 L832.6 585.7 L834 586.4 L835.4 585.6 L836.8 584.8M836.8 584.8 L838.2 585 L839.6 586 L841 585.2 L842.4 585.6 L843.8 585.8 L845.2 585.8 L846.6 584.8 L848 584.8 L849.4 583.9M806 589.6 L807.4 589.7 L808.8 589.9 L810.2 589.5 L811.6 589.1 L813 588.7 L814.4 588 L815.8 588.9 L817.2 588.6 L818.6 588.5 L820 589 L821.4 588.7 L822.8 588.8 L824.2 588.3 L825.6 588.8 L827 588.8M827 588.8 L828.4 588.7 L829.8 587.7 L831.2 587.9 L832.6 588 L834 588.2 L835.4 588.7 L836.8 588 L838.2 589 L839.6 587.7 L841 588.8 L842.4 588 L843.8 587.1 L845.2 587.7 L846.6 588.1M846.6 588.1 L848 588.3 L849.4 588.7M858 584.5 L859.4 585.3 L860.8 583.9 L862.2 584.6 L863.6 584.1 L865 583.6 L866.4 584.3 L867.8 584.7 L869.2 584.1 L870.6 584.1 L872 585.1 L873.4 584 L874.8 584 L876.2 582.6M858 586.9 L859.4 586.8 L860.8 586.9 L862.2 586.7 L863.6 587 L865 586.5 L866.4 587 L867.8 585.9 L869.2 586.3 L870.6 585.3 L872 585.7 L873.4 585 L874.8 585.3 L876.2 586.1M876.2 586.1 L877.6 585.6 L879 586M886 584.1 L887.4 583.4 L888.8 583.3 L890.2 582.8 L891.6 584 L893 583.5 L894.4 582.7 L895.8 582.9 L897.2 583.9 L898.6 583 L900 583.2M900 583.2 L901.4 583.2 L902.8 581.9 L904.2 582M897.2 584 L898.6 584.5 L900 584.5 L901.4 584.3 L902.8 585.4 L904.2 584.9M912 581.8 L913.4 582.7 L914.8 581.4 L916.2 582.1 L917.6 581.8 L919 581.4 L920.4 582 L921.8 581.6 L923.2 582.3 L924.6 581.5 L926 581.1 L927.4 581.6 L928.8 580.6 L930.2 580.4 L931.6 580.4 L933 580.9 L934.4 581.3M934.4 581.3 L935.8 580.4 L937.2 581.3 L938.6 580.1 L940 581.7 L941.4 581.1M912 585.1 L913.4 584.3 L914.8 585.2 L916.2 584.5 L917.6 583.8M938.6 584.2 L940 584.3 L941.4 583.5M948 581.6 L949.4 581 L950.8 581.2 L952.2 580.5 L953.6 582.1M971.8 580.5 L973.2 579.8 L974.6 579.8 L976 579.2M948 582.5 L949.4 583.2 L950.8 582.1 L952.2 582 L953.6 582.7 L955 582.8 L956.4 583 L957.8 582.4 L959.2 581.9 L960.6 582.5 L962 582.9M962 582.9 L963.4 582.7 L964.8 582.5 L966.2 581.7 L967.6 582.2 L969 582.5 L970.4 582.5 L971.8 582.4 L973.2 582.3 L974.6 582.9 L976 583.4M743.6 645.4 L745 644.9 L746.4 646.2 L747.8 646.1 L749.2 645.9M749.2 645.9 L750.6 646.8 L752 645.5 L753.4 645.2 L754.8 645.1 L756.2 644.7 L757.6 644.3 L759 645.5 L760.4 646.6 L761.8 646 L763.2 645M763.2 645 L764.6 645.5 L766 645.5 L767.4 644.2 L768.8 645.1 L770.2 644.4 L771.6 645.2 L773 644.6 L774.4 643.8M796.8 643.7 L798.2 643.7 L799.6 643.9 L801 642.6 L802.4 643.5 L803.8 643.4 L805.2 644.1 L806.6 644 L808 642.5 L809.4 643.4 L810.8 642.6M810.8 642.6 L812.2 642.3 L813.6 642.6 L815 642 L816.4 642.2 L817.8 642 L819.2 642.3 L820.6 641.8 L822 641.9 L823.4 642.8 L824.8 641.9 L826.2 642.3 L827.6 642.2 L829 643.3 L830.4 642.6 L831.8 643 L833.2 642.6M838.8 641.5 L840.2 641.5 L841.6 641.6 L843 641.3 L844.4 642.3 L845.8 642.8 L847.2 642.5 L848.6 642.1 L850 643.2 L851.4 641.8 L852.8 641.8 L854.2 642.1 L855.6 640.9 L857 641.9 L858.4 641.6 L859.8 641.4M866.8 641.4 L868.2 642.1 L869.6 642.5 L871 642.1 L872.4 642.7 L873.8 641 L875.2 641.6 L876.6 641.5 L878 641.1 L879.4 640.8 L880.8 641M880.8 641 L882.2 640.5 L883.6 641 L885 640.5 L886.4 640.7M886.4 640.7 L887.8 641.5 L889.2 641.2 L890.6 642.3 L892 641.6 L893.4 640.6 L894.8 641 L896.2 639.6 L897.6 639.9 L899 639.8 L900.4 639.1 L901.8 639.2 L903.2 639M903.2 639 L904.6 639.7 L906 638.6 L907.4 638.5 L908.8 639.7 L910.2 639.6M927 638.1 L928.4 637.6 L929.8 638.2 L931.2 638.2 L932.6 637.5 L934 637.6 L935.4 637.5 L936.8 637.9 L938.2 638.7 L939.6 639 L941 638.8 L942.4 638.8 L943.8 639.1 L945.2 638.2 L946.6 638.4 L948 637.5M948 637.5 L949.4 638.3 L950.8 637.8 L952.2 638 L953.6 638 L955 638.1 L956.4 637.9 L957.8 637.8 L959.2 638.6 L960.6 638.5 L962 636.7 L963.4 636.9 L964.8 636.2 L966.2 636.5 L967.6 636.9 L969 636.5M969 636.5 L970.4 635.3 L971.8 636.1 L973.2 636.1 L974.6 635.7 L976 635.1M731 650.2 L732.4 649.6 L733.8 649.3 L735.2 649.7 L736.6 648.9 L738 648.8 L739.4 650 L740.8 649.8 L742.2 650.3 L743.6 649.5 L745 649.5 L746.4 648.8 L747.8 649.8 L749.2 649.3 L750.6 648M750.6 648 L752 648.2 L753.4 649.3 L754.8 649 L756.2 648.6 L757.6 648.4 L759 648.3 L760.4 647.8 L761.8 647.5 L763.2 648.2 L764.6 648.7 L766 648.6 L767.4 648.1 L768.8 648.1 L770.2 647.9 L771.6 648.9M771.6 648.9 L773 649.2 L774.4 648.3 L775.8 647.7 L777.2 648.4M815 646.5 L816.4 647.5 L817.8 646 L819.2 647 L820.6 646.8 L822 646.7 L823.4 646.1 L824.8 645.6 L826.2 645M826.2 645 L827.6 645 L829 645.1 L830.4 645.7 L831.8 646.6 L833.2 646.7 L834.6 646.9 L836 646.7 L837.4 646.3 L838.8 647.1 L840.2 646.2 L841.6 645.6 L843 645.8 L844.4 645.4 L845.8 645.1 L847.2 645.6M858.4 645.7 L859.8 645.1 L861.2 645 L862.6 645.5 L864 645.4 L865.4 644.2 L866.8 644 L868.2 643.8 L869.6 644.7 L871 644.5M871 644.5 L872.4 645.3 L873.8 644.3 L875.2 644.5 L876.6 644.7 L878 644.6 L879.4 644.1 L880.8 644.9 L882.2 643.9 L883.6 645.1 L885 644.3 L886.4 644.4 L887.8 644.2 L889.2 643.4 L890.6 644M890.6 644 L892 642.3 L893.4 644.3 L894.8 643.7 L896.2 644 L897.6 643.5 L899 644.2 L900.4 644.7 L901.8 643.8 L903.2 643.9 L904.6 644.6 L906 644.5 L907.4 643.9 L908.8 643.7M908.8 643.7 L910.2 643.5 L911.6 644.2 L913 643.2 L914.4 643.7 L915.8 642.7 L917.2 640 L918.6 640.5M918.6 640.5 L920 641 L921.4 641.6 L922.8 641.9 L924.2 641.9 L925.6 641.5 L927 642.1 L928.4 641.2 L929.8 640.8 L931.2 640.6 L932.6 641.2M932.6 641.2 L934 640.7 L935.4 640.2 L936.8 641.4 L938.2 640 L939.6 640.6 L941 641.1 L942.4 642.1 L943.8 641.6 L945.2 641.9 L946.6 642.3 L948 642.7 L949.4 642.1M949.4 642.1 L950.8 642.3 L952.2 642.5 L953.6 642.5 L955 642.1 L956.4 641.5 L957.8 641.1 L959.2 640.7 L960.6 640.1M960.6 640.1 L962 639.5 L963.4 640.2 L964.8 640.1 L966.2 640.3 L967.6 641M967.6 641 L969 640.7 L970.4 641.3 L971.8 641.2 L973.2 641.2 L974.6 641 L976 641.1" stroke="#24242a" stroke-width="2.2" fill="none" shape-rendering="crispEdges"/><path d="M643 652.2 L646 651.6 L649 651.4 L652 651.3M679 649.7 L681.5 650.5 L684 650.1 L686.5 650.7 L689 650.4M570 444.9 L572.6 445 L575.1 444.6 L577.7 445.6 L580.3 444.6 L582.9 444.9 L585.4 444.3 L588 443.9M609 444.2 L611.7 444.1 L614.3 443.7 L617 443 L619.7 443.8 L622.3 443.8 L625 443.2M642 442.9 L644.7 441.7 L647.3 442.1 L650 442.7 L652.7 442.5 L655.3 441.7 L658 441.4M564 672.5 L566.9 672.3 L569.7 672.6 L572.6 672.4M600 670.6 L602.5 671.5 L605 671.2 L607.5 670.8 L610 671.2M709 667.3 L712.5 665.9 L716 666.1M739.8 665.6 L742.4 665.4 L745.1 665.8 L747.7 665.2 L750.4 664.4 L753 665.4M844 660.6 L846.7 661.4 L849.3 660.6 L852 661.5" stroke="#24242a" stroke-width="2.6" fill="none" stroke-linecap="round"/><g fill="#24242a"><rect x="566.1" y="481.4" width="4.2" height="2.7" rx="1"/><rect x="584.3" y="481.1" width="2.9" height="2.7" rx="1"/><rect x="595.5" y="480.1" width="2.9" height="2.1" rx="1"/><rect x="608.1" y="479.5" width="2.9" height="2.7" rx="1"/><rect x="620.7" y="478.4" width="3" height="2.6" rx="1"/><rect x="633.3" y="478.8" width="2.8" height="2.8" rx="1"/><rect x="651.5" y="478.4" width="3.6" height="2.8" rx="1"/><rect x="661.3" y="476.9" width="2.8" height="2.9" rx="1"/><rect x="673.9" y="476.9" width="2.7" height="2.3" rx="1"/><rect x="686.5" y="476.7" width="3.5" height="2.3" rx="1"/><rect x="567.2" y="480.6" width="2.1" height="1.9" rx="1"/><rect x="577.5" y="480.3" width="4" height="1.6" rx="1"/><rect x="582.9" y="480" width="2.2" height="2.4" rx="1"/><rect x="591.3" y="480.3" width="2" height="2.1" rx="1"/><rect x="596.4" y="480.2" width="2.1" height="2.4" rx="1"/><rect x="601.6" y="481.4" width="4.4" height="1.5" rx="1"/><rect x="611.7" y="480.5" width="2.3" height="2.3" rx="1"/><rect x="622.7" y="480.8" width="5.8" height="1.3" rx="1"/><rect x="629.6" y="479.1" width="3.3" height="2.2" rx="1"/><rect x="639.6" y="478.1" width="2.1" height="2" rx="1"/><rect x="649.6" y="478.1" width="3.4" height="2.2" rx="1"/><rect x="659.8" y="478.4" width="5.9" height="1.6" rx="1"/><rect x="668.5" y="476.4" width="3.9" height="2.1" rx="1"/><rect x="677.4" y="477.6" width="4.8" height="1.8" rx="1"/><rect x="685.6" y="477.3" width="3" height="1.4" rx="1"/><rect x="704.1" y="475.8" width="3.6" height="2.4" rx="1"/><rect x="729.3" y="475.3" width="3.1" height="2.1" rx="1"/><rect x="751.7" y="473.3" width="2.9" height="2.6" rx="1"/><rect x="767.1" y="473.4" width="4.4" height="2.2" rx="1"/><rect x="778.3" y="473.4" width="3.3" height="2.5" rx="1"/><rect x="803.5" y="471.4" width="3.8" height="2.8" rx="1"/><rect x="813.3" y="471" width="3.2" height="2.7" rx="1"/><rect x="828.7" y="470.2" width="2.8" height="2.5" rx="1"/><rect x="839.9" y="470.7" width="3.5" height="2.1" rx="1"/><rect x="853.9" y="469.8" width="2.7" height="2.4" rx="1"/><rect x="863.7" y="469.9" width="3" height="2.2" rx="1"/><rect x="876.3" y="468.1" width="2.8" height="2.4" rx="1"/><rect x="894.5" y="468.7" width="3.2" height="2.5" rx="1"/><rect x="915.5" y="468" width="3.6" height="2.2" rx="1"/><rect x="937.9" y="466.8" width="2.9" height="2.1" rx="1"/><rect x="951.9" y="466.1" width="4" height="2.9" rx="1"/><rect x="964.5" y="465.7" width="3.3" height="2" rx="1"/><rect x="701.4" y="477.6" width="4.2" height="2" rx="1"/><rect x="734.4" y="476.5" width="3.5" height="1.6" rx="1"/><rect x="759.9" y="474.4" width="3.2" height="2.5" rx="1"/><rect x="770.2" y="473.1" width="3.6" height="1.5" rx="1"/><rect x="778.5" y="473.3" width="3.6" height="1.3" rx="1"/><rect x="799" y="471.7" width="3" height="2.1" rx="1"/><rect x="813.6" y="471" width="2.6" height="1.8" rx="1"/><rect x="834.3" y="472.2" width="3.3" height="2.3" rx="1"/><rect x="853.7" y="471.4" width="2" height="1.4" rx="1"/><rect x="860.2" y="470.8" width="4.6" height="2.2" rx="1"/><rect x="893" y="468.2" width="4.1" height="1.6" rx="1"/><rect x="899.8" y="469" width="4.8" height="2.5" rx="1"/><rect x="909.6" y="468" width="4.6" height="2.2" rx="1"/><rect x="925" y="466.9" width="3.5" height="2" rx="1"/><rect x="946.6" y="465.9" width="5.7" height="1.5" rx="1"/><rect x="957.1" y="465.2" width="6" height="2.1" rx="1"/><rect x="564.7" y="501.3" width="4.2" height="2.5" rx="1"/><rect x="577.3" y="500.5" width="3.9" height="2.4" rx="1"/><rect x="592.7" y="500" width="3.6" height="2.7" rx="1"/><rect x="602.5" y="499" width="3.3" height="2.8" rx="1"/><rect x="619.3" y="498.4" width="4.2" height="2.2" rx="1"/><rect x="638.9" y="497.8" width="4.5" height="2.6" rx="1"/><rect x="655.7" y="497.6" width="3.3" height="2.7" rx="1"/><rect x="666.9" y="497.9" width="2.5" height="2.8" rx="1"/><rect x="682.3" y="497.1" width="3.9" height="2.4" rx="1"/><rect x="696.3" y="496.3" width="3.5" height="2.8" rx="1"/><rect x="566.7" y="500.4" width="3.7" height="1.9" rx="1"/><rect x="584.2" y="500" width="2.4" height="2" rx="1"/><rect x="592.9" y="502.1" width="4" height="1.8" rx="1"/><rect x="603.1" y="500.7" width="2.1" height="1.4" rx="1"/><rect x="611.5" y="500" width="5.2" height="2.2" rx="1"/><rect x="620.5" y="500.1" width="3.8" height="2" rx="1"/><rect x="626.7" y="500.3" width="4" height="1.6" rx="1"/><rect x="636" y="500.4" width="4.7" height="2.1" rx="1"/><rect x="641.5" y="497.5" width="4.7" height="1.6" rx="1"/><rect x="657.3" y="497.5" width="3.2" height="1.9" rx="1"/><rect x="665.8" y="496.5" width="2.8" height="1.4" rx="1"/><rect x="674.9" y="497" width="2.9" height="2.6" rx="1"/><rect x="685.4" y="497.7" width="2.8" height="2.3" rx="1"/><rect x="690.9" y="497.4" width="2.2" height="2.2" rx="1"/><rect x="696.7" y="495.1" width="5.2" height="2.1" rx="1"/><rect x="705.5" y="495.6" width="3.2" height="2.5" rx="1"/><rect x="727.9" y="494.7" width="4.4" height="2.3" rx="1"/><rect x="747.5" y="493.3" width="4.3" height="2.9" rx="1"/><rect x="769.9" y="493.7" width="2.8" height="2.7" rx="1"/><rect x="785.3" y="492.1" width="4.3" height="2.9" rx="1"/><rect x="803.5" y="491.6" width="2.7" height="2.3" rx="1"/><rect x="814.7" y="491.4" width="3.1" height="2" rx="1"/><rect x="830.1" y="491.1" width="2.9" height="2.9" rx="1"/><rect x="853.9" y="489.8" width="2.9" height="2.2" rx="1"/><rect x="877.7" y="488.7" width="2.6" height="2.7" rx="1"/><rect x="891.7" y="488.3" width="4.5" height="2.6" rx="1"/><rect x="907.1" y="487.2" width="4" height="2.4" rx="1"/><rect x="919.7" y="487" width="3" height="2" rx="1"/><rect x="932.3" y="486.8" width="3.7" height="3" rx="1"/><rect x="946.3" y="485.2" width="3.4" height="2.8" rx="1"/><rect x="972.9" y="485.3" width="3.1" height="2.1" rx="1"/><rect x="745.6" y="495.5" width="3.3" height="1.7" rx="1"/><rect x="765.9" y="494.4" width="5.8" height="2.2" rx="1"/><rect x="774.8" y="493.5" width="5.5" height="1.9" rx="1"/><rect x="797.9" y="491.2" width="3" height="1.7" rx="1"/><rect x="809.4" y="492.6" width="2.3" height="1.6" rx="1"/><rect x="817.2" y="493" width="5.2" height="1.7" rx="1"/><rect x="843.2" y="490.8" width="5.5" height="1.4" rx="1"/><rect x="859.8" y="491" width="3.7" height="2.2" rx="1"/><rect x="866.1" y="491" width="3.5" height="2.2" rx="1"/><rect x="877" y="489.8" width="3.7" height="1.9" rx="1"/><rect x="882.6" y="489.8" width="5.3" height="1.8" rx="1"/><rect x="898.7" y="489.8" width="5.5" height="1.9" rx="1"/><rect x="916.6" y="487.1" width="3.2" height="2.3" rx="1"/><rect x="922.7" y="487.8" width="4" height="1.5" rx="1"/><rect x="966.4" y="484.7" width="5.7" height="1.3" rx="1"/><rect x="567.5" y="521" width="2.7" height="2" rx="1"/><rect x="584.3" y="520.2" width="3.8" height="3" rx="1"/><rect x="605.3" y="519.4" width="3.3" height="2.2" rx="1"/><rect x="622.1" y="519.1" width="4.3" height="2.8" rx="1"/><rect x="638.9" y="517.4" width="2.9" height="2.1" rx="1"/><rect x="650.1" y="516.8" width="4.2" height="2.8" rx="1"/><rect x="675.3" y="515.9" width="3.3" height="2.9" rx="1"/><rect x="700.5" y="515.3" width="4.3" height="2.1" rx="1"/><rect x="724.3" y="514.2" width="4.4" height="2.5" rx="1"/><rect x="741.1" y="513.8" width="4.1" height="2.1" rx="1"/><rect x="767.7" y="512.3" width="2.8" height="2.9" rx="1"/><rect x="787.3" y="512.2" width="3.6" height="2.2" rx="1"/><rect x="812.5" y="510.3" width="2.8" height="2.4" rx="1"/><rect x="823.7" y="510.2" width="3.6" height="2.6" rx="1"/><rect x="847.5" y="509.6" width="3.9" height="2.4" rx="1"/><rect x="861.5" y="509.7" width="2.9" height="2.1" rx="1"/><rect x="871.3" y="508.5" width="2.9" height="2.7" rx="1"/><rect x="881.1" y="508.2" width="3.1" height="2.1" rx="1"/><rect x="903.5" y="506.7" width="3.5" height="2.5" rx="1"/><rect x="930.1" y="505.8" width="3" height="2.1" rx="1"/><rect x="951.1" y="505.7" width="2.9" height="2.8" rx="1"/><rect x="974.9" y="504.3" width="3.2" height="2.9" rx="1"/><rect x="569.3" y="520.8" width="5.2" height="2.5" rx="1"/><rect x="585.6" y="520.9" width="5.7" height="2.1" rx="1"/><rect x="595.7" y="520.3" width="4.8" height="2.3" rx="1"/><rect x="603.5" y="519.4" width="5.8" height="2.3" rx="1"/><rect x="613.5" y="519.3" width="4.8" height="1.6" rx="1"/><rect x="627" y="517.7" width="4" height="2.3" rx="1"/><rect x="643.6" y="519.1" width="3.4" height="2.2" rx="1"/><rect x="651" y="519.4" width="2.6" height="1.9" rx="1"/><rect x="677.9" y="517" width="4.5" height="1.8" rx="1"/><rect x="686.4" y="515.2" width="3.7" height="2.3" rx="1"/><rect x="710" y="515.1" width="5.1" height="2.4" rx="1"/><rect x="729.6" y="516.3" width="4.7" height="1.5" rx="1"/><rect x="735.2" y="513.7" width="4" height="1.6" rx="1"/><rect x="745.4" y="513.4" width="2.6" height="2.1" rx="1"/><rect x="751.6" y="513.9" width="4.2" height="2" rx="1"/><rect x="761.6" y="512.8" width="5.7" height="1.3" rx="1"/><rect x="779.4" y="512.4" width="5.1" height="2.2" rx="1"/><rect x="794.7" y="511" width="3.9" height="2.1" rx="1"/><rect x="803.8" y="512.6" width="4.2" height="1.4" rx="1"/><rect x="819.2" y="510.6" width="2.3" height="1.4" rx="1"/><rect x="827.1" y="510.9" width="3.2" height="1.8" rx="1"/><rect x="842.5" y="509.9" width="2" height="1.4" rx="1"/><rect x="862.7" y="510.3" width="2.1" height="1.8" rx="1"/><rect x="873.2" y="507.9" width="3.2" height="2.5" rx="1"/><rect x="881.3" y="509.6" width="3.7" height="2.4" rx="1"/><rect x="889.2" y="509.7" width="3.6" height="1.8" rx="1"/><rect x="922.6" y="508.3" width="3.5" height="2.6" rx="1"/><rect x="944.3" y="506.9" width="3.2" height="2.2" rx="1"/><rect x="964.6" y="505.7" width="3.3" height="1.7" rx="1"/><rect x="566.1" y="539.6" width="3.3" height="2.1" rx="1"/><rect x="578.7" y="539.1" width="2.8" height="2.5" rx="1"/><rect x="594.1" y="538.1" width="2.7" height="2.2" rx="1"/><rect x="606.7" y="537.3" width="2.9" height="2.4" rx="1"/><rect x="627.7" y="537.1" width="3.7" height="2.2" rx="1"/><rect x="651.5" y="535.8" width="3.2" height="2.8" rx="1"/><rect x="675.3" y="534.9" width="4.5" height="2.9" rx="1"/><rect x="689.3" y="534.4" width="3.2" height="2.1" rx="1"/><rect x="708.9" y="534.5" width="2.5" height="2.5" rx="1"/><rect x="721.5" y="533.2" width="4.2" height="2.7" rx="1"/><rect x="732.7" y="532.7" width="4.2" height="3" rx="1"/><rect x="750.9" y="532.3" width="3.6" height="2.7" rx="1"/><rect x="770.5" y="531.6" width="3.5" height="2.9" rx="1"/><rect x="797.1" y="529.9" width="3.6" height="2.1" rx="1"/><rect x="816.7" y="529.1" width="3" height="2.8" rx="1"/><rect x="833.5" y="528.5" width="3.4" height="3" rx="1"/><rect x="851.7" y="527.5" width="3.2" height="2.8" rx="1"/><rect x="861.5" y="528.2" width="2.7" height="2.1" rx="1"/><rect x="885.3" y="526.5" width="2.6" height="2.6" rx="1"/><rect x="911.9" y="525.3" width="4" height="2.6" rx="1"/><rect x="925.9" y="524.8" width="4" height="2.6" rx="1"/><rect x="935.7" y="524.9" width="4" height="2.1" rx="1"/><rect x="946.9" y="523.6" width="2.5" height="2.8" rx="1"/><rect x="959.5" y="524.3" width="3.2" height="2.1" rx="1"/><rect x="566.8" y="540.8" width="2.2" height="2.4" rx="1"/><rect x="586.3" y="539.2" width="4.7" height="2.4" rx="1"/><rect x="604.2" y="539.6" width="2.7" height="2.3" rx="1"/><rect x="611.4" y="539" width="5.3" height="2.3" rx="1"/><rect x="629.4" y="537.4" width="4.9" height="2.1" rx="1"/><rect x="648.7" y="535.4" width="4.8" height="1.8" rx="1"/><rect x="675.4" y="534.5" width="5.6" height="2.1" rx="1"/><rect x="702.9" y="533.2" width="5.5" height="1.6" rx="1"/><rect x="713.6" y="535.2" width="4" height="1.9" rx="1"/><rect x="720.5" y="534" width="5.5" height="1.5" rx="1"/><rect x="731.4" y="534" width="5.6" height="1.9" rx="1"/><rect x="740.7" y="532.2" width="4.8" height="2.1" rx="1"/><rect x="749.2" y="533.4" width="5.5" height="1.5" rx="1"/><rect x="759.2" y="533.8" width="5.4" height="1.5" rx="1"/><rect x="766.4" y="532.5" width="5.3" height="1.5" rx="1"/><rect x="776.9" y="533.1" width="2.8" height="2.4" rx="1"/><rect x="834.5" y="528.1" width="5.8" height="1.4" rx="1"/><rect x="841.3" y="530.5" width="4.4" height="2.4" rx="1"/><rect x="860.2" y="528.5" width="5" height="2.2" rx="1"/><rect x="868.6" y="529" width="4.3" height="1.4" rx="1"/><rect x="883.6" y="528.2" width="4.2" height="1.9" rx="1"/><rect x="893.6" y="527.7" width="6" height="1.8" rx="1"/><rect x="940.5" y="525.3" width="3.1" height="1.6" rx="1"/><rect x="950.2" y="524.8" width="3.5" height="2.2" rx="1"/><rect x="957.2" y="525.4" width="4.5" height="2.5" rx="1"/><rect x="965.3" y="525.2" width="4.3" height="2" rx="1"/><rect x="970.5" y="522.7" width="4.1" height="2.5" rx="1"/><rect x="566.1" y="558.4" width="2.8" height="2.9" rx="1"/><rect x="591.3" y="557.4" width="3.8" height="2.9" rx="1"/><rect x="605.3" y="556.6" width="4.4" height="2.3" rx="1"/><rect x="626.3" y="555.2" width="2.6" height="2.4" rx="1"/><rect x="644.5" y="555.9" width="4.4" height="2.6" rx="1"/><rect x="662.7" y="555.1" width="3.4" height="2.9" rx="1"/><rect x="680.9" y="553.2" width="3.4" height="3" rx="1"/><rect x="690.7" y="553.9" width="3.7" height="2.9" rx="1"/><rect x="708.9" y="552.4" width="3" height="2.6" rx="1"/><rect x="732.7" y="552.1" width="3.7" height="2.1" rx="1"/><rect x="746.7" y="550.5" width="4.2" height="2.5" rx="1"/><rect x="771.9" y="549.5" width="3.8" height="2.2" rx="1"/><rect x="787.3" y="549" width="4.2" height="2.7" rx="1"/><rect x="804.1" y="548.2" width="3.9" height="2.6" rx="1"/><rect x="830.7" y="547.3" width="3.9" height="2" rx="1"/><rect x="848.9" y="546.3" width="4.5" height="2.7" rx="1"/><rect x="867.1" y="545.5" width="2.5" height="2.2" rx="1"/><rect x="892.3" y="546" width="3.3" height="2.5" rx="1"/><rect x="918.9" y="543.6" width="4.4" height="2.4" rx="1"/><rect x="935.7" y="543.1" width="3.3" height="2.6" rx="1"/><rect x="946.9" y="542.7" width="4.3" height="2.3" rx="1"/><rect x="959.5" y="542.6" width="3.5" height="2.2" rx="1"/><rect x="969.3" y="541.4" width="3" height="2.8" rx="1"/><rect x="565.6" y="559.4" width="2.4" height="1.4" rx="1"/><rect x="572.9" y="557.6" width="2.1" height="1.7" rx="1"/><rect x="582" y="557.4" width="5.1" height="2.4" rx="1"/><rect x="631.1" y="557.4" width="5.7" height="2.3" rx="1"/><rect x="647.4" y="556.9" width="5" height="2.5" rx="1"/><rect x="666.8" y="553.7" width="2.6" height="2.3" rx="1"/><rect x="675.3" y="556" width="3.4" height="1.7" rx="1"/><rect x="701.6" y="552.9" width="3" height="1.6" rx="1"/><rect x="716.8" y="552.3" width="2.6" height="1.8" rx="1"/><rect x="731.9" y="552.7" width="5.5" height="1.4" rx="1"/><rect x="737.5" y="551.5" width="6" height="2.6" rx="1"/><rect x="748.2" y="550.7" width="5.2" height="2.1" rx="1"/><rect x="753.6" y="550.8" width="4.7" height="1.4" rx="1"/><rect x="771.3" y="551.1" width="5.8" height="2.2" rx="1"/><rect x="778.6" y="549.1" width="4" height="1.8" rx="1"/><rect x="786.6" y="548.9" width="3.8" height="1.5" rx="1"/><rect x="820.6" y="548.8" width="3.5" height="2.3" rx="1"/><rect x="829" y="548.4" width="3.7" height="1.9" rx="1"/><rect x="834.3" y="546.8" width="2.6" height="2.2" rx="1"/><rect x="849.7" y="548.1" width="4.5" height="1.7" rx="1"/><rect x="858.4" y="546.5" width="2.4" height="2" rx="1"/><rect x="864.1" y="548.3" width="3" height="2.4" rx="1"/><rect x="882.9" y="546.7" width="4.7" height="1.6" rx="1"/><rect x="893.8" y="546.6" width="3.5" height="1.8" rx="1"/><rect x="902.1" y="545.5" width="5.1" height="2.2" rx="1"/><rect x="910.6" y="545.7" width="2.8" height="2" rx="1"/><rect x="921.6" y="543.7" width="4.3" height="1.7" rx="1"/><rect x="929.6" y="545.3" width="2.5" height="1.8" rx="1"/><rect x="940.2" y="542.9" width="3.4" height="1.9" rx="1"/><rect x="970.4" y="543.3" width="3.9" height="1.6" rx="1"/><rect x="566.1" y="616" width="3.8" height="2.7" rx="1"/><rect x="584.3" y="615.4" width="2.9" height="2.9" rx="1"/><rect x="599.7" y="615.2" width="3.9" height="2.7" rx="1"/><rect x="622.1" y="613.7" width="2.8" height="2.6" rx="1"/><rect x="636.1" y="612.9" width="2.9" height="2.1" rx="1"/><rect x="654.3" y="611.7" width="2.9" height="3" rx="1"/><rect x="672.5" y="612.2" width="3.5" height="2.1" rx="1"/><rect x="692.1" y="610.5" width="2.9" height="2.7" rx="1"/><rect x="703.3" y="610" width="3" height="2.4" rx="1"/><rect x="715.9" y="610.7" width="3.8" height="2.9" rx="1"/><rect x="741.1" y="608.4" width="3.9" height="2.6" rx="1"/><rect x="764.9" y="608.3" width="4.3" height="2.9" rx="1"/><rect x="778.9" y="608.2" width="2.5" height="3" rx="1"/><rect x="797.1" y="607.1" width="2.8" height="2.5" rx="1"/><rect x="822.3" y="605.4" width="4.1" height="2.8" rx="1"/><rect x="846.1" y="604.9" width="2.7" height="2.7" rx="1"/><rect x="871.3" y="604.1" width="3.5" height="2.9" rx="1"/><rect x="890.9" y="603.4" width="3.7" height="3" rx="1"/><rect x="914.7" y="601.6" width="3.5" height="2.1" rx="1"/><rect x="937.1" y="601.5" width="2.7" height="2.9" rx="1"/><rect x="962.3" y="599.5" width="2.8" height="2.8" rx="1"/><rect x="597.7" y="614.2" width="4.1" height="2.4" rx="1"/><rect x="614.5" y="614.4" width="5" height="1.7" rx="1"/><rect x="619.8" y="614.9" width="4.4" height="1.4" rx="1"/><rect x="659.7" y="612.9" width="5.2" height="2.3" rx="1"/><rect x="679.8" y="613.1" width="2.8" height="2.2" rx="1"/><rect x="685.9" y="611.3" width="3.3" height="2.6" rx="1"/><rect x="696.3" y="611.8" width="5.3" height="1.5" rx="1"/><rect x="743.4" y="608.4" width="3.5" height="2.3" rx="1"/><rect x="753.1" y="608.5" width="4.4" height="2.6" rx="1"/><rect x="765.6" y="609.3" width="4.3" height="1.6" rx="1"/><rect x="783" y="607.6" width="3.8" height="2.4" rx="1"/><rect x="791.5" y="608.1" width="2.5" height="2.5" rx="1"/><rect x="801.3" y="606.9" width="2.6" height="2.2" rx="1"/><rect x="812.2" y="607.9" width="3.9" height="2.4" rx="1"/><rect x="818.4" y="607.7" width="5.7" height="1.3" rx="1"/><rect x="828.7" y="605" width="4.5" height="1.3" rx="1"/><rect x="834" y="607" width="2.8" height="1.9" rx="1"/><rect x="852.1" y="605.1" width="3.4" height="2.2" rx="1"/><rect x="865.5" y="604" width="2.2" height="1.5" rx="1"/><rect x="873.9" y="602.6" width="3.9" height="1.4" rx="1"/><rect x="881.6" y="604.3" width="3.4" height="2.3" rx="1"/><rect x="889.9" y="602.6" width="4.8" height="1.7" rx="1"/><rect x="895.3" y="603.7" width="5.1" height="1.6" rx="1"/><rect x="901.3" y="602.9" width="2.6" height="1.4" rx="1"/><rect x="927.9" y="602.4" width="5.9" height="2.2" rx="1"/><rect x="933.8" y="602.5" width="2.4" height="2" rx="1"/><rect x="944.2" y="601.1" width="5.5" height="1.5" rx="1"/><rect x="954.9" y="599.8" width="3.1" height="2.6" rx="1"/><rect x="962.8" y="600.8" width="3.9" height="2.3" rx="1"/><rect x="577.3" y="635.4" width="4" height="2.4" rx="1"/><rect x="596.9" y="635" width="3.8" height="2" rx="1"/><rect x="616.5" y="633.6" width="2.8" height="2.2" rx="1"/><rect x="626.3" y="633.3" width="2.7" height="2.3" rx="1"/><rect x="648.7" y="632.1" width="2.6" height="2.5" rx="1"/><rect x="664.1" y="631.3" width="2.7" height="3" rx="1"/><rect x="672.5" y="631.9" width="3.6" height="2.2" rx="1"/><rect x="690.7" y="630.3" width="4" height="2.7" rx="1"/><rect x="700.5" y="629.9" width="2.8" height="2.8" rx="1"/><rect x="717.3" y="630.4" width="3.3" height="2.5" rx="1"/><rect x="734.1" y="629.3" width="3.3" height="2.5" rx="1"/><rect x="756.5" y="627.8" width="3.7" height="2.2" rx="1"/><rect x="777.5" y="626.6" width="4.4" height="2.2" rx="1"/><rect x="791.5" y="627.4" width="4.2" height="2.2" rx="1"/><rect x="808.3" y="626.3" width="4.5" height="2.8" rx="1"/><rect x="818.1" y="626.3" width="3.5" height="2.1" rx="1"/><rect x="832.1" y="624.3" width="3.2" height="2.8" rx="1"/><rect x="853.1" y="623.5" width="2.8" height="2.9" rx="1"/><rect x="862.9" y="624.5" width="3.1" height="2.2" rx="1"/><rect x="888.1" y="623.4" width="3.8" height="3" rx="1"/><rect x="904.9" y="621.4" width="3.9" height="2.4" rx="1"/><rect x="928.7" y="621.6" width="4.3" height="2.7" rx="1"/><rect x="942.7" y="621.3" width="4.2" height="2.1" rx="1"/><rect x="965.1" y="619.9" width="3.5" height="2.4" rx="1"/><rect x="587.6" y="635.9" width="5.3" height="2.1" rx="1"/><rect x="602.6" y="635.7" width="6" height="2.2" rx="1"/><rect x="638" y="634.6" width="2.2" height="2.4" rx="1"/><rect x="646.6" y="631.7" width="5.2" height="1.8" rx="1"/><rect x="670.6" y="630.7" width="2.5" height="2.4" rx="1"/><rect x="678.4" y="630.6" width="2.1" height="1.3" rx="1"/><rect x="688.8" y="631.3" width="3.3" height="2" rx="1"/><rect x="709.5" y="629.9" width="2.4" height="1.6" rx="1"/><rect x="755.1" y="628.8" width="5.3" height="1.8" rx="1"/><rect x="763.1" y="628.9" width="2.7" height="2.4" rx="1"/><rect x="772" y="628.8" width="3.6" height="1.5" rx="1"/><rect x="788.2" y="628" width="2.1" height="1.5" rx="1"/><rect x="796.9" y="625.9" width="4.9" height="2.6" rx="1"/><rect x="828.9" y="625.5" width="5.8" height="1.9" rx="1"/><rect x="838.2" y="624.9" width="5.6" height="2.5" rx="1"/><rect x="844.1" y="624.3" width="4.4" height="1.9" rx="1"/><rect x="865.5" y="623" width="4.3" height="2.2" rx="1"/><rect x="893.7" y="621.8" width="3.2" height="2.2" rx="1"/><rect x="910.7" y="622" width="5.7" height="1.5" rx="1"/><rect x="939.4" y="621.2" width="4" height="1.8" rx="1"/><rect x="949.1" y="620" width="5.9" height="1.7" rx="1"/><rect x="959.1" y="619.8" width="4.9" height="1.8" rx="1"/><rect x="966.9" y="621.5" width="5.3" height="2.5" rx="1"/><rect x="972.9" y="620.6" width="3.8" height="2" rx="1"/><rect x="564.7" y="463.2" width="2.7" height="2.4" rx="1"/><rect x="580.1" y="462.8" width="3.5" height="2.5" rx="1"/><rect x="592.7" y="462.5" width="3.3" height="2.9" rx="1"/><rect x="609.5" y="461.5" width="3.2" height="2.6" rx="1"/><rect x="623.5" y="461.2" width="3.2" height="2.2" rx="1"/><rect x="636.1" y="461.1" width="4.3" height="2.8" rx="1"/><rect x="651.5" y="459.5" width="3" height="2.2" rx="1"/><rect x="664.1" y="458.9" width="4.3" height="2.1" rx="1"/><rect x="676.7" y="459.2" width="3" height="2.7" rx="1"/><rect x="693.5" y="457.6" width="3.5" height="2.7" rx="1"/><rect x="708.9" y="456.8" width="4.3" height="2.2" rx="1"/><rect x="724.3" y="456.9" width="4.2" height="2.1" rx="1"/><rect x="734.1" y="456.8" width="4.3" height="2.2" rx="1"/><rect x="750.9" y="456.1" width="2.7" height="2.2" rx="1"/><rect x="769.1" y="454.5" width="3.6" height="3" rx="1"/><rect x="780.3" y="454.4" width="3.9" height="2.4" rx="1"/><rect x="795.7" y="453.6" width="4" height="2.5" rx="1"/><rect x="564.4" y="463.8" width="3.6" height="1.6" rx="1"/><rect x="571.8" y="463" width="5.6" height="1.4" rx="1"/><rect x="577.8" y="462.4" width="2.7" height="2.1" rx="1"/><rect x="587.9" y="462.8" width="4.1" height="2.2" rx="1"/><rect x="594" y="462.9" width="4.8" height="1.8" rx="1"/><rect x="599.9" y="461.6" width="4.6" height="2.2" rx="1"/><rect x="610.7" y="462.5" width="2.5" height="2.3" rx="1"/><rect x="616.4" y="460.7" width="5.4" height="1.8" rx="1"/><rect x="627.1" y="461.2" width="5.6" height="2" rx="1"/><rect x="635.1" y="459.8" width="5.2" height="1.7" rx="1"/><rect x="645.2" y="462" width="5.7" height="1.6" rx="1"/><rect x="654.8" y="459.5" width="4.6" height="2" rx="1"/><rect x="661.7" y="460.8" width="4.5" height="1.9" rx="1"/><rect x="669.8" y="458.4" width="5.9" height="2.4" rx="1"/><rect x="676.7" y="459.4" width="3.7" height="1.4" rx="1"/><rect x="682.8" y="460" width="2.9" height="1.4" rx="1"/><rect x="697.5" y="458.1" width="4" height="2.1" rx="1"/><rect x="705.8" y="459.2" width="2.7" height="1.6" rx="1"/><rect x="711" y="457.9" width="3.2" height="1.5" rx="1"/><rect x="718.9" y="458.6" width="2.9" height="1.6" rx="1"/><rect x="728.8" y="457.7" width="4.3" height="2.4" rx="1"/><rect x="739.2" y="455.9" width="3.3" height="1.9" rx="1"/><rect x="748.6" y="456.1" width="3.4" height="2.4" rx="1"/><rect x="758.4" y="455.3" width="2.5" height="1.7" rx="1"/><rect x="766.1" y="457" width="3.8" height="2.4" rx="1"/><rect x="772" y="454.1" width="4.1" height="1.7" rx="1"/><rect x="780.1" y="455.8" width="5.1" height="1.6" rx="1"/><rect x="785.2" y="456" width="4.5" height="2.5" rx="1"/><rect x="792.2" y="454.6" width="2.6" height="2.5" rx="1"/><rect x="797.3" y="455.4" width="3.3" height="1.8" rx="1"/><rect x="820.9" y="452.8" width="3.7" height="2.7" rx="1"/><rect x="818.3" y="453.2" width="4.7" height="2.6" rx="1"/><rect x="824.6" y="453.8" width="4.3" height="1.8" rx="1"/><rect x="832" y="453.8" width="3" height="2.4" rx="1"/><rect x="849.5" y="451.6" width="3.5" height="2.5" rx="1"/><rect x="860.7" y="451.8" width="4.2" height="2.3" rx="1"/><rect x="848.7" y="453" width="3" height="2" rx="1"/><rect x="853.8" y="451.3" width="5.8" height="1.7" rx="1"/><rect x="886.3" y="450.1" width="2.5" height="2.9" rx="1"/><rect x="883.8" y="451.1" width="4.3" height="1.4" rx="1"/><rect x="921.5" y="448.7" width="3.3" height="2.2" rx="1"/><rect x="920.8" y="449.9" width="3" height="1.8" rx="1"/><rect x="964.3" y="447" width="3.9" height="2.1" rx="1"/><rect x="571.7" y="578" width="2.8" height="2.2" rx="1"/><rect x="566.4" y="578.8" width="3.4" height="1.4" rx="1"/><rect x="589.7" y="577.3" width="4.1" height="2.4" rx="1"/><rect x="612.1" y="576.6" width="3.1" height="2.4" rx="1"/><rect x="631.7" y="575.5" width="4.3" height="2" rx="1"/><rect x="591.6" y="577.3" width="3" height="1.8" rx="1"/><rect x="607.3" y="577.7" width="3.6" height="2.3" rx="1"/><rect x="624.6" y="575.6" width="3.7" height="2.5" rx="1"/><rect x="647.7" y="574.9" width="3.3" height="2.9" rx="1"/><rect x="657.5" y="575.1" width="4" height="2" rx="1"/><rect x="675.7" y="573.3" width="4.1" height="2.1" rx="1"/><rect x="688.3" y="573.3" width="4.2" height="2.1" rx="1"/><rect x="648.5" y="574.6" width="2.3" height="1.6" rx="1"/><rect x="653.6" y="576.3" width="5.2" height="2.4" rx="1"/><rect x="659" y="574.6" width="5.4" height="1.7" rx="1"/><rect x="675.2" y="575" width="2.5" height="2.5" rx="1"/><rect x="680.4" y="573.4" width="4.1" height="1.9" rx="1"/><rect x="688.4" y="573.6" width="2.5" height="2.4" rx="1"/><rect x="707.1" y="572.5" width="3" height="2.1" rx="1"/><rect x="722.5" y="571.4" width="4.1" height="2.8" rx="1"/><rect x="740.7" y="570.5" width="4" height="2.2" rx="1"/><rect x="751.9" y="570.3" width="2.9" height="2.9" rx="1"/><rect x="771.5" y="569.9" width="3.1" height="2.9" rx="1"/><rect x="707.6" y="573.1" width="2.6" height="2" rx="1"/><rect x="734" y="570.6" width="4.6" height="1.7" rx="1"/><rect x="763.2" y="571.6" width="3.4" height="1.6" rx="1"/><rect x="773.6" y="570.9" width="5.9" height="2" rx="1"/><rect x="791.3" y="569.1" width="3.1" height="2.5" rx="1"/><rect x="808.1" y="568.2" width="3.9" height="2.3" rx="1"/><rect x="810.8" y="570.3" width="5" height="2.4" rx="1"/><rect x="836.7" y="567.3" width="4.1" height="2.9" rx="1"/><rect x="852.1" y="567" width="2.5" height="2.5" rx="1"/><rect x="845" y="566.9" width="3" height="2.4" rx="1"/><rect x="883.3" y="565.4" width="3.2" height="2.9" rx="1"/><rect x="909.5" y="564.3" width="2.8" height="2.3" rx="1"/><rect x="909.7" y="565.5" width="4.2" height="2.4" rx="1"/><rect x="944.5" y="562.9" width="3" height="2" rx="1"/><rect x="939.9" y="563" width="3.9" height="1.4" rx="1"/><rect x="946.9" y="563.7" width="2.4" height="1.6" rx="1"/><rect x="973.9" y="561.7" width="4.4" height="2.2" rx="1"/><rect x="970" y="563" width="5.4" height="1.8" rx="1"/><rect x="566.1" y="596.2" width="3.5" height="2.9" rx="1"/><rect x="577.3" y="595.9" width="2.8" height="2.9" rx="1"/><rect x="587.1" y="595.2" width="3.2" height="2.3" rx="1"/><rect x="601.1" y="594.4" width="3.6" height="2.9" rx="1"/><rect x="616.5" y="593.9" width="3.6" height="2.9" rx="1"/><rect x="631.9" y="593.1" width="2.9" height="2.6" rx="1"/><rect x="648.7" y="593.1" width="3" height="2.7" rx="1"/><rect x="664.1" y="593" width="4.4" height="2.5" rx="1"/><rect x="680.9" y="591.2" width="2.7" height="2" rx="1"/><rect x="690.7" y="591.2" width="3.9" height="2.8" rx="1"/><rect x="703.3" y="590.1" width="2.7" height="2.5" rx="1"/><rect x="711.7" y="589.6" width="4.3" height="2.4" rx="1"/><rect x="727.1" y="590.2" width="3.4" height="2.8" rx="1"/><rect x="742.5" y="589.6" width="3.5" height="2.7" rx="1"/><rect x="755.1" y="588.9" width="3.5" height="2.2" rx="1"/><rect x="767.7" y="588.7" width="3" height="3" rx="1"/><rect x="566.6" y="598.1" width="5.8" height="1.6" rx="1"/><rect x="576.4" y="597.6" width="5.6" height="1.8" rx="1"/><rect x="583.6" y="594.8" width="4.5" height="2" rx="1"/><rect x="593.3" y="595.7" width="4" height="1.5" rx="1"/><rect x="603" y="595.5" width="5.4" height="2.3" rx="1"/><rect x="611.7" y="595" width="3.2" height="2.5" rx="1"/><rect x="616.9" y="596.2" width="5.4" height="2.3" rx="1"/><rect x="623.2" y="595.4" width="4.9" height="1.3" rx="1"/><rect x="629.1" y="593.7" width="4.8" height="1.3" rx="1"/><rect x="635.1" y="595.3" width="2.2" height="2.5" rx="1"/><rect x="641.7" y="594.5" width="5.5" height="1.9" rx="1"/><rect x="648.7" y="594.8" width="2.1" height="2.2" rx="1"/><rect x="656.7" y="592.1" width="4.9" height="1.6" rx="1"/><rect x="662" y="592.4" width="4.3" height="2" rx="1"/><rect x="668.9" y="594.1" width="5.4" height="1.5" rx="1"/><rect x="678.8" y="593.4" width="4.7" height="1.6" rx="1"/><rect x="689" y="591.5" width="3.2" height="2.3" rx="1"/><rect x="696.6" y="592.8" width="4" height="2.4" rx="1"/><rect x="704.2" y="592.5" width="2.2" height="1.8" rx="1"/><rect x="712.2" y="589.5" width="2.7" height="1.4" rx="1"/><rect x="718" y="591.1" width="4.5" height="2.3" rx="1"/><rect x="726.3" y="589.2" width="3.9" height="2.3" rx="1"/><rect x="733.8" y="590" width="2.1" height="1.8" rx="1"/><rect x="743.7" y="590.7" width="5" height="1.9" rx="1"/><rect x="753.6" y="587.8" width="3.8" height="1.8" rx="1"/><rect x="763" y="588.8" width="3.4" height="1.7" rx="1"/><rect x="777.5" y="587.7" width="3.7" height="2.1" rx="1"/><rect x="794.3" y="587.4" width="3" height="2.3" rx="1"/><rect x="778.7" y="589.4" width="5.6" height="2.5" rx="1"/><rect x="812.9" y="586.2" width="4.2" height="2.5" rx="1"/><rect x="828.3" y="586.3" width="4.4" height="2.8" rx="1"/><rect x="840.9" y="585.6" width="2.7" height="2.8" rx="1"/><rect x="809.9" y="587.4" width="2.6" height="2.6" rx="1"/><rect x="821.2" y="585" width="2.1" height="2.3" rx="1"/><rect x="831.7" y="584.7" width="2.6" height="1.8" rx="1"/><rect x="838.6" y="584.6" width="5.3" height="2.1" rx="1"/><rect x="871.9" y="583.8" width="3.6" height="2.9" rx="1"/><rect x="874.1" y="585.4" width="4.8" height="2" rx="1"/><rect x="895.7" y="582.9" width="3.8" height="2.3" rx="1"/><rect x="899.4" y="584.1" width="3.4" height="1.5" rx="1"/><rect x="921.7" y="581.8" width="3.4" height="2.8" rx="1"/><rect x="939.9" y="581.1" width="3.5" height="2.9" rx="1"/><rect x="914.9" y="583.7" width="3.2" height="2.6" rx="1"/><rect x="921.1" y="582.2" width="3.4" height="1.5" rx="1"/><rect x="930.9" y="581.3" width="4.2" height="2.1" rx="1"/><rect x="936.6" y="580.3" width="5.4" height="1.6" rx="1"/><rect x="952.1" y="580.6" width="2.9" height="2.9" rx="1"/><rect x="966.1" y="580.2" width="3.8" height="2.1" rx="1"/><rect x="963.5" y="579.8" width="4.3" height="2.2" rx="1"/><rect x="735.1" y="647.1" width="4.5" height="2.4" rx="1"/><rect x="747.7" y="646.1" width="4.4" height="2.8" rx="1"/><rect x="757.5" y="645.6" width="4.4" height="2.6" rx="1"/><rect x="782.7" y="644.8" width="3.5" height="2.5" rx="1"/><rect x="792.5" y="645.2" width="3.9" height="2.7" rx="1"/><rect x="803.7" y="644.5" width="4" height="2.5" rx="1"/><rect x="827.5" y="642.8" width="3.7" height="2.7" rx="1"/><rect x="847.1" y="642.5" width="4.1" height="2.2" rx="1"/><rect x="865.3" y="641.7" width="4" height="2.4" rx="1"/><rect x="889.1" y="641.4" width="3.3" height="2.7" rx="1"/><rect x="914.3" y="640.1" width="2.9" height="2.4" rx="1"/><rect x="938.1" y="638.2" width="4.1" height="2.3" rx="1"/><rect x="959.1" y="638.5" width="4.4" height="2.4" rx="1"/><rect x="735.2" y="646.2" width="2.4" height="1.9" rx="1"/><rect x="746" y="648.6" width="3" height="1.9" rx="1"/><rect x="756" y="647.7" width="5.4" height="2.1" rx="1"/><rect x="771.2" y="644.7" width="3.3" height="1.5" rx="1"/><rect x="786.7" y="645.9" width="5.7" height="1.3" rx="1"/><rect x="792.2" y="645" width="3.4" height="2.3" rx="1"/><rect x="804" y="644.2" width="2.4" height="2.6" rx="1"/><rect x="821.9" y="643.7" width="5.9" height="2" rx="1"/><rect x="839.6" y="642.5" width="4.1" height="2.3" rx="1"/><rect x="845.3" y="641.8" width="3.1" height="1.6" rx="1"/><rect x="851.6" y="644.2" width="5.4" height="2.5" rx="1"/><rect x="888.8" y="640.3" width="5.6" height="1.4" rx="1"/><rect x="905.5" y="640.4" width="4.8" height="2" rx="1"/><rect x="934.7" y="640.8" width="4.9" height="2.5" rx="1"/><rect x="970.2" y="639.3" width="3.7" height="2.4" rx="1"/></g><g fill="#24242a"><circle cx="939" cy="449.3" r="1.55"/><circle cx="950" cy="448.8" r="1.55"/><circle cx="570.4" cy="654.8" r="1.55"/><circle cx="595.7" cy="652.9" r="1.55"/><circle cx="598" cy="654" r="1.55"/><circle cx="607.8" cy="653.1" r="1.55"/><circle cx="615.5" cy="654" r="1.55"/><circle cx="631" cy="652.2" r="1.55"/><circle cx="666" cy="651.3" r="1.55"/><circle cx="701" cy="650.5" r="1.55"/><circle cx="707.5" cy="648.6" r="1.55"/><circle cx="716.7" cy="649.3" r="1.55"/><circle cx="658.4" cy="661.8" r="1.55"/><circle cx="669.4" cy="660.3" r="1.55"/><circle cx="689.2" cy="659.2" r="1.55"/><circle cx="600" cy="664" r="1.55"/><circle cx="640" cy="659" r="1.55"/><circle cx="681" cy="440.6" r="1.55"/><circle cx="686" cy="440.4" r="1.55"/><circle cx="722" cy="439" r="1.55"/><circle cx="757" cy="438" r="1.55"/><circle cx="793" cy="435.8" r="1.55"/><circle cx="828" cy="435.2" r="1.55"/><circle cx="908" cy="440.5" r="1.55"/><circle cx="918" cy="440.2" r="1.55"/><circle cx="587.5" cy="675" r="1.55"/><circle cx="622.8" cy="673.4" r="1.55"/><circle cx="658.1" cy="671.9" r="1.55"/><circle cx="693.4" cy="670.3" r="1.55"/><circle cx="728.7" cy="668.8" r="1.55"/><circle cx="764" cy="667.2" r="1.55"/><circle cx="799.3" cy="665.7" r="1.55"/><circle cx="834.6" cy="664.1" r="1.55"/><circle cx="869.9" cy="662.6" r="1.55"/><circle cx="905.2" cy="661" r="1.55"/><circle cx="940.5" cy="659.5" r="1.55"/><circle cx="975.8" cy="657.9" r="1.55"/><circle cx="680.4" cy="674.6" r="1.55"/><circle cx="681.5" cy="667.6" r="1.55"/><circle cx="712" cy="673.5" r="1.55"/><circle cx="718" cy="667" r="1.55"/><circle cx="764" cy="667" r="1.55"/><circle cx="810" cy="669" r="1.55"/><circle cx="601.2" cy="682.3" r="1.55"/><circle cx="655" cy="681.6" r="1.55"/><circle cx="670.5" cy="681.6" r="1.55"/><circle cx="687" cy="680.1" r="1.55"/><circle cx="722.2" cy="679" r="1.55"/><circle cx="768.3" cy="676.4" r="1.55"/><circle cx="777" cy="676.4" r="1.55"/><circle cx="787" cy="676.4" r="1.55"/><circle cx="916.4" cy="672" r="1.55"/><circle cx="935.5" cy="673.5" r="1.55"/><circle cx="945.4" cy="675" r="1.55"/><circle cx="953" cy="674.6" r="1.55"/><circle cx="578" cy="694.4" r="1.55"/><circle cx="613.3" cy="692.8" r="1.55"/><circle cx="648.6" cy="691.3" r="1.55"/><circle cx="683.9" cy="689.7" r="1.55"/><circle cx="719.2" cy="688.2" r="1.55"/><circle cx="754.5" cy="686.6" r="1.55"/><circle cx="789.8" cy="685.1" r="1.55"/><circle cx="825.1" cy="683.5" r="1.55"/><circle cx="860.4" cy="682" r="1.55"/><circle cx="895.7" cy="680.4" r="1.55"/><circle cx="931" cy="678.9" r="1.55"/><circle cx="966.3" cy="677.3" r="1.55"/><circle cx="570" cy="713.5" r="1.55"/><circle cx="605.3" cy="711.9" r="1.55"/><circle cx="640.6" cy="710.4" r="1.55"/><circle cx="675.9" cy="708.8" r="1.55"/><circle cx="711.2" cy="707.3" r="1.55"/><circle cx="746.5" cy="705.7" r="1.55"/><circle cx="781.8" cy="704.2" r="1.55"/><circle cx="817.1" cy="702.6" r="1.55"/><circle cx="852.4" cy="701.1" r="1.55"/><circle cx="887.7" cy="699.5" r="1.55"/><circle cx="923" cy="698" r="1.55"/><circle cx="958.3" cy="696.4" r="1.55"/><circle cx="596.8" cy="731.3" r="1.55"/><circle cx="632.1" cy="729.7" r="1.55"/><circle cx="667.4" cy="728.2" r="1.55"/><circle cx="702.7" cy="726.6" r="1.55"/><circle cx="738" cy="725.1" r="1.55"/><circle cx="773.3" cy="723.5" r="1.55"/><circle cx="808.6" cy="722" r="1.55"/><circle cx="843.9" cy="720.4" r="1.55"/><circle cx="879.2" cy="718.9" r="1.55"/><circle cx="914.5" cy="717.3" r="1.55"/><circle cx="949.8" cy="715.8" r="1.55"/><circle cx="677.2" cy="639.8" r="1.55"/><circle cx="675" cy="649.1" r="1.55"/><circle cx="660.8" cy="651.8" r="1.55"/><circle cx="704.5" cy="636.5" r="1.55"/><circle cx="580.6" cy="673.9" r="1.55"/><circle cx="710.3" cy="658.8" r="1.55"/><circle cx="571.7" cy="653.9" r="1.55"/><circle cx="645.8" cy="647.5" r="1.55"/><circle cx="607.5" cy="666.8" r="1.55"/><circle cx="825" cy="662.7" r="1.55"/><circle cx="960.1" cy="667.2" r="1.55"/><circle cx="724" cy="645.3" r="1.55"/><circle cx="686.2" cy="637.2" r="1.55"/><circle cx="625.3" cy="679.2" r="1.55"/><circle cx="703.4" cy="648.9" r="1.55"/><circle cx="820.4" cy="651.1" r="1.55"/><circle cx="799.6" cy="666.1" r="1.55"/><circle cx="816.1" cy="657.1" r="1.55"/><circle cx="662" cy="647.4" r="1.55"/><circle cx="635.5" cy="662.1" r="1.55"/><circle cx="882.5" cy="663.1" r="1.55"/><circle cx="972.7" cy="648.8" r="1.55"/><circle cx="817.7" cy="653.3" r="1.55"/><circle cx="859.5" cy="664.2" r="1.55"/><circle cx="720.8" cy="670.5" r="1.55"/><circle cx="697.6" cy="661.5" r="1.55"/><circle cx="603" cy="682.2" r="1.55"/><circle cx="679.9" cy="668.1" r="1.55"/><circle cx="623.9" cy="664.1" r="1.55"/><circle cx="695.4" cy="648.2" r="1.55"/><circle cx="616.1" cy="656.1" r="1.55"/><circle cx="880.4" cy="654.8" r="1.55"/><circle cx="927.1" cy="660.2" r="1.55"/></g><path d="M563.2 686.2H752.5L754 687.9H976.5" stroke="#55556a" stroke-width="2.1" fill="none"/><path d="M566 702.5L976 696M566 722.5L976 716" stroke="#f6f6fb" stroke-width="1.2" stroke-dasharray="1.2 5.5" fill="none" opacity="0.8"/></g>
<!-- labels -->
<g><text x="5.3" y="21" font-size="16" text-anchor="start" fill="#1f1f1f" textLength="562" lengthAdjust="spacingAndGlyphs">Tested with scipy=0.16.0, IPython=3.2.1, pandas=0.16.2, numpy=1.9.3</text>
<text x="260" y="62.7" font-size="16.5" text-anchor="middle" fill="#4a4a55" textLength="125.4" lengthAdjust="spacingAndGlyphs">Audio Waveform</text>
<text x="769.6" y="63.3" font-size="16.5" text-anchor="middle" fill="#4a4a55" textLength="157.5" lengthAdjust="spacingAndGlyphs">Amplitude Spectrum</text>
<text x="259.5" y="427.6" font-size="16.5" text-anchor="middle" fill="#4a4a55" textLength="72" lengthAdjust="spacingAndGlyphs">Cepstrum</text>
<text x="770.3" y="427.7" font-size="16.5" text-anchor="middle" fill="#4a4a55" textLength="223" lengthAdjust="spacingAndGlyphs">Short Time Fourier Transform</text>
<text x="260.8" y="403.7" font-size="14" text-anchor="middle" fill="#4a4a55" textLength="49.6" lengthAdjust="spacingAndGlyphs">Time (s)</text>
<text x="770.6" y="403.8" font-size="14" text-anchor="middle" fill="#4a4a55" textLength="94.9" lengthAdjust="spacingAndGlyphs">Frequency (Hz)</text>
<text x="770.4" y="768" font-size="14" text-anchor="middle" fill="#4a4a55" textLength="49.6" lengthAdjust="spacingAndGlyphs">Time (s)</text>
<g transform="translate(509,585) rotate(-90)"><text x="0" y="0" font-size="14" text-anchor="middle" fill="#4a4a55" textLength="96.3" lengthAdjust="spacingAndGlyphs">Frequency (Hz)</text></g>
<text x="47.2" y="374" font-size="14" text-anchor="end" fill="#4a4a55" textLength="7.6" lengthAdjust="spacingAndGlyphs">0</text>
<text x="47.2" y="313.9" font-size="14" text-anchor="end" fill="#4a4a55" textLength="15.2" lengthAdjust="spacingAndGlyphs">50</text>
<text x="47.2" y="253.7" font-size="14" text-anchor="end" fill="#4a4a55" textLength="22.8" lengthAdjust="spacingAndGlyphs">100</text>
<text x="47.2" y="193.6" font-size="14" text-anchor="end" fill="#4a4a55" textLength="22.8" lengthAdjust="spacingAndGlyphs">150</text>
<text x="47.2" y="133.4" font-size="14" text-anchor="end" fill="#4a4a55" textLength="22.8" lengthAdjust="spacingAndGlyphs">200</text>
<text x="47.2" y="73.3" font-size="14" text-anchor="end" fill="#4a4a55" textLength="22.8" lengthAdjust="spacingAndGlyphs">250</text>
<text x="52.5" y="384.9" font-size="14" text-anchor="middle" fill="#4a4a55" textLength="19" lengthAdjust="spacingAndGlyphs">0.0</text>
<text x="156.1" y="384.9" font-size="14" text-anchor="middle" fill="#4a4a55" textLength="19" lengthAdjust="spacingAndGlyphs">0.5</text>
<text x="259.7" y="384.9" font-size="14" text-anchor="middle" fill="#4a4a55" textLength="19" lengthAdjust="spacingAndGlyphs">1.0</text>
<text x="363.3" y="384.9" font-size="14" text-anchor="middle" fill="#4a4a55" textLength="19" lengthAdjust="spacingAndGlyphs">1.5</text>
<text x="466.9" y="384.9" font-size="14" text-anchor="middle" fill="#4a4a55" textLength="19" lengthAdjust="spacingAndGlyphs">2.0</text>
<text x="554.4" y="369.4" font-size="8.4" text-anchor="end" fill="#4a4a55" textLength="4.7" lengthAdjust="spacingAndGlyphs">0</text><text x="549.4" y="376" font-size="14" text-anchor="end" fill="#4a4a55" textLength="14.6" lengthAdjust="spacingAndGlyphs">10</text>
<text x="554.4" y="309.5" font-size="8.4" text-anchor="end" fill="#4a4a55" textLength="4.7" lengthAdjust="spacingAndGlyphs">1</text><text x="549.4" y="316.1" font-size="14" text-anchor="end" fill="#4a4a55" textLength="14.6" lengthAdjust="spacingAndGlyphs">10</text>
<text x="554.4" y="249.6" font-size="8.4" text-anchor="end" fill="#4a4a55" textLength="4.7" lengthAdjust="spacingAndGlyphs">2</text><text x="549.4" y="256.2" font-size="14" text-anchor="end" fill="#4a4a55" textLength="14.6" lengthAdjust="spacingAndGlyphs">10</text>
<text x="554.4" y="189.7" font-size="8.4" text-anchor="end" fill="#4a4a55" textLength="4.7" lengthAdjust="spacingAndGlyphs">3</text><text x="549.4" y="196.3" font-size="14" text-anchor="end" fill="#4a4a55" textLength="14.6" lengthAdjust="spacingAndGlyphs">10</text>
<text x="554.4" y="129.8" font-size="8.4" text-anchor="end" fill="#4a4a55" textLength="4.7" lengthAdjust="spacingAndGlyphs">4</text><text x="549.4" y="136.4" font-size="14" text-anchor="end" fill="#4a4a55" textLength="14.6" lengthAdjust="spacingAndGlyphs">10</text>
<text x="554.4" y="69.9" font-size="8.4" text-anchor="end" fill="#4a4a55" textLength="4.7" lengthAdjust="spacingAndGlyphs">5</text><text x="549.4" y="76.5" font-size="14" text-anchor="end" fill="#4a4a55" textLength="14.6" lengthAdjust="spacingAndGlyphs">10</text>
<text x="561.9" y="384.9" font-size="14" text-anchor="middle" fill="#4a4a55" textLength="7.6" lengthAdjust="spacingAndGlyphs">0</text>
<text x="631" y="384.9" font-size="14" text-anchor="middle" fill="#4a4a55" textLength="30.4" lengthAdjust="spacingAndGlyphs">2000</text>
<text x="700.1" y="384.9" font-size="14" text-anchor="middle" fill="#4a4a55" textLength="30.4" lengthAdjust="spacingAndGlyphs">4000</text>
<text x="769.2" y="384.9" font-size="14" text-anchor="middle" fill="#4a4a55" textLength="30.4" lengthAdjust="spacingAndGlyphs">6000</text>
<text x="838.3" y="384.9" font-size="14" text-anchor="middle" fill="#4a4a55" textLength="30.4" lengthAdjust="spacingAndGlyphs">8000</text>
<text x="907.4" y="384.9" font-size="14" text-anchor="middle" fill="#4a4a55" textLength="38" lengthAdjust="spacingAndGlyphs">10000</text>
<text x="976.5" y="384.9" font-size="14" text-anchor="middle" fill="#4a4a55" textLength="38" lengthAdjust="spacingAndGlyphs">12000</text>
<text x="45.6" y="451.9" font-size="8.4" text-anchor="end" fill="#4a4a55" textLength="4.7" lengthAdjust="spacingAndGlyphs">2</text><text x="40.6" y="458.5" font-size="14" text-anchor="end" fill="#4a4a55" textLength="14.6" lengthAdjust="spacingAndGlyphs">10</text>
<text x="45.6" y="487" font-size="8.4" text-anchor="end" fill="#4a4a55" textLength="4.7" lengthAdjust="spacingAndGlyphs">0</text><text x="40.6" y="493.6" font-size="14" text-anchor="end" fill="#4a4a55" textLength="14.6" lengthAdjust="spacingAndGlyphs">10</text>
<text x="45.6" y="522.2" font-size="8.4" text-anchor="end" fill="#4a4a55" textLength="7.6" lengthAdjust="spacingAndGlyphs">-2</text><text x="37.6" y="528.8" font-size="14" text-anchor="end" fill="#4a4a55" textLength="14.6" lengthAdjust="spacingAndGlyphs">10</text>
<text x="45.6" y="557.3" font-size="8.4" text-anchor="end" fill="#4a4a55" textLength="7.6" lengthAdjust="spacingAndGlyphs">-4</text><text x="37.6" y="563.9" font-size="14" text-anchor="end" fill="#4a4a55" textLength="14.6" lengthAdjust="spacingAndGlyphs">10</text>
<text x="45.6" y="592.5" font-size="8.4" text-anchor="end" fill="#4a4a55" textLength="7.6" lengthAdjust="spacingAndGlyphs">-6</text><text x="37.6" y="599.1" font-size="14" text-anchor="end" fill="#4a4a55" textLength="14.6" lengthAdjust="spacingAndGlyphs">10</text>
<text x="45.6" y="627.6" font-size="8.4" text-anchor="end" fill="#4a4a55" textLength="7.6" lengthAdjust="spacingAndGlyphs">-8</text><text x="37.6" y="634.2" font-size="14" text-anchor="end" fill="#4a4a55" textLength="14.6" lengthAdjust="spacingAndGlyphs">10</text>
<text x="45.6" y="662.8" font-size="8.4" text-anchor="end" fill="#4a4a55" textLength="12.2" lengthAdjust="spacingAndGlyphs">-10</text><text x="33" y="669.4" font-size="14" text-anchor="end" fill="#4a4a55" textLength="14.6" lengthAdjust="spacingAndGlyphs">10</text>
<text x="45.6" y="697.9" font-size="8.4" text-anchor="end" fill="#4a4a55" textLength="12.2" lengthAdjust="spacingAndGlyphs">-12</text><text x="33" y="704.5" font-size="14" text-anchor="end" fill="#4a4a55" textLength="14.6" lengthAdjust="spacingAndGlyphs">10</text>
<text x="45.6" y="733" font-size="8.4" text-anchor="end" fill="#4a4a55" textLength="12.2" lengthAdjust="spacingAndGlyphs">-14</text><text x="33" y="739.6" font-size="14" text-anchor="end" fill="#4a4a55" textLength="14.6" lengthAdjust="spacingAndGlyphs">10</text>
<text x="52.2" y="749.5" font-size="14" text-anchor="middle" fill="#4a4a55" textLength="7.6" lengthAdjust="spacingAndGlyphs">0</text>
<text x="98.2" y="749.5" font-size="14" text-anchor="middle" fill="#4a4a55" textLength="30.4" lengthAdjust="spacingAndGlyphs">5000</text>
<text x="144.2" y="749.5" font-size="14" text-anchor="middle" fill="#4a4a55" textLength="38" lengthAdjust="spacingAndGlyphs">10000</text>
<text x="190.2" y="749.5" font-size="14" text-anchor="middle" fill="#4a4a55" textLength="38" lengthAdjust="spacingAndGlyphs">15000</text>
<text x="236.2" y="749.5" font-size="14" text-anchor="middle" fill="#4a4a55" textLength="38" lengthAdjust="spacingAndGlyphs">20000</text>
<text x="282.2" y="749.5" font-size="14" text-anchor="middle" fill="#4a4a55" textLength="38" lengthAdjust="spacingAndGlyphs">25000</text>
<text x="328.3" y="749.5" font-size="14" text-anchor="middle" fill="#4a4a55" textLength="38" lengthAdjust="spacingAndGlyphs">30000</text>
<text x="374.3" y="749.5" font-size="14" text-anchor="middle" fill="#4a4a55" textLength="38" lengthAdjust="spacingAndGlyphs">35000</text>
<text x="420.3" y="749.5" font-size="14" text-anchor="middle" fill="#4a4a55" textLength="38" lengthAdjust="spacingAndGlyphs">40000</text>
<text x="466.3" y="749.5" font-size="14" text-anchor="middle" fill="#4a4a55" textLength="38" lengthAdjust="spacingAndGlyphs">45000</text>
<text x="556.6" y="737.4" font-size="14" text-anchor="end" fill="#4a4a55" textLength="7.6" lengthAdjust="spacingAndGlyphs">0</text>
<text x="556.6" y="669.5" font-size="14" text-anchor="end" fill="#4a4a55" textLength="30.4" lengthAdjust="spacingAndGlyphs">5000</text>
<text x="556.6" y="601.7" font-size="14" text-anchor="end" fill="#4a4a55" textLength="38" lengthAdjust="spacingAndGlyphs">10000</text>
<text x="556.6" y="533.9" font-size="14" text-anchor="end" fill="#4a4a55" textLength="38" lengthAdjust="spacingAndGlyphs">15000</text>
<text x="556.6" y="466" font-size="14" text-anchor="end" fill="#4a4a55" textLength="38" lengthAdjust="spacingAndGlyphs">20000</text>
<text x="562.7" y="749.3" font-size="14" text-anchor="middle" fill="#4a4a55" textLength="19" lengthAdjust="spacingAndGlyphs">0.0</text>
<text x="645.6" y="749.3" font-size="14" text-anchor="middle" fill="#4a4a55" textLength="19" lengthAdjust="spacingAndGlyphs">0.2</text>
<text x="728.5" y="749.3" font-size="14" text-anchor="middle" fill="#4a4a55" textLength="19" lengthAdjust="spacingAndGlyphs" opacity="0.45">0.4</text>
<text x="811.4" y="749.3" font-size="14" text-anchor="middle" fill="#4a4a55" textLength="19" lengthAdjust="spacingAndGlyphs">0.6</text>
<text x="894.3" y="749.3" font-size="14" text-anchor="middle" fill="#4a4a55" textLength="19" lengthAdjust="spacingAndGlyphs" opacity="0.45">0.8</text>
<text x="977.2" y="749.3" font-size="14" text-anchor="middle" fill="#4a4a55" textLength="19" lengthAdjust="spacingAndGlyphs">1.0</text></g>
<!-- watermark -->
<g><g transform="translate(1.4,1.4)" stroke="#3e3e44" stroke-width="3.0" fill="none" stroke-linecap="square" opacity="0.85"><path transform="translate(692.8,733) scale(0.9)" d="M1 7H8.5M5 1V20.5Q5 22.5 2.5 21.5M1 15.5L8.5 12M10.5 2H22V8H10.5M10.5 2V13Q10.5 19 8.5 22.5M16.2 9.5V22M12.3 11V15.2H20.2V11M11.5 17.5V22H21.5V17.5"/><path transform="translate(718.2,733) scale(0.9)" d="M12 1L1 10.5M12 1L23 10.5M6.5 10H17.5M4 14.5H20M12 10V22M6 16.5L8 20M18 16.5L16 20M2 22.3H22"/><path transform="translate(743.8,733) scale(0.9)" d="M1 7H8.5M5 1V20.5Q5 22.5 2.5 21.5M1 15.5L8.5 12M10 6H23M16.3 1V11M11.5 11H21L10 22.5M12.5 13.5L23 22.5"/><path transform="translate(769.6,733) scale(0.9)" d="M1 8H23M12 1V23M11.5 9L2 20.5M12.5 9L22.5 20.5M17 2L20 5"/><path transform="translate(795.4,733) scale(0.9)" d="M4 1L6.5 4M1 7.5H9L2 16.5M5.6 11V23M6.5 12.5L9.5 15.5M12 10H22.5M17.2 2V22M10.5 22.2H24"/><path transform="translate(820.4,733) scale(0.9)" d="M22 2.2H2.5V22H23.5M6.5 6.5L19 18.5M19 6.5L6.5 18.5"/><path transform="translate(879.2,733) scale(0.9)" d="M1 6.2H23M11.5 1L2 14.5M6.3 11V20.5M6.3 11H19.3V18.5Q19.3 20.3 17 19.8M12.6 8V23"/><path transform="translate(905,733) scale(0.9)" d="M12 0V3M2.2 8V4.2H21.8V8M9.5 6L4 12M8 8.3H17L5 17M9.5 10.5L21.5 16.5M6.3 17.3V23M6.3 17.3H18V23M6.3 22.6H18"/><path transform="translate(930.6,733) scale(0.9)" d="M2 4.2H15Q15 14 17 18.5Q18.5 21.5 23 21.3V17M19 6L22 9L18 12.2"/><path transform="translate(953.6,733) scale(0.9)" d="M1 7.3H20.5M10.3 1V10Q9.5 17 2 22.5M13.6 7.5V19.5Q13.6 22.2 16.5 22.2H23V18M20.5 10L12 20M17 1L20 4"/></g><text x="862.3" y="757.3" font-size="23.5" text-anchor="middle" fill="#3e3e44" stroke="#3e3e44" stroke-width="0.9" opacity="0.85">@</text><g stroke="#ffffff" stroke-width="2.2" fill="none" stroke-linecap="square"><path transform="translate(692.8,733) scale(0.9)" d="M1 7H8.5M5 1V20.5Q5 22.5 2.5 21.5M1 15.5L8.5 12M10.5 2H22V8H10.5M10.5 2V13Q10.5 19 8.5 22.5M16.2 9.5V22M12.3 11V15.2H20.2V11M11.5 17.5V22H21.5V17.5"/><path transform="translate(718.2,733) scale(0.9)" d="M12 1L1 10.5M12 1L23 10.5M6.5 10H17.5M4 14.5H20M12 10V22M6 16.5L8 20M18 16.5L16 20M2 22.3H22"/><path transform="translate(743.8,733) scale(0.9)" d="M1 7H8.5M5 1V20.5Q5 22.5 2.5 21.5M1 15.5L8.5 12M10 6H23M16.3 1V11M11.5 11H21L10 22.5M12.5 13.5L23 22.5"/><path transform="translate(769.6,733) scale(0.9)" d="M1 8H23M12 1V23M11.5 9L2 20.5M12.5 9L22.5 20.5M17 2L20 5"/><path transform="translate(795.4,733) scale(0.9)" d="M4 1L6.5 4M1 7.5H9L2 16.5M5.6 11V23M6.5 12.5L9.5 15.5M12 10H22.5M17.2 2V22M10.5 22.2H24"/><path transform="translate(820.4,733) scale(0.9)" d="M22 2.2H2.5V22H23.5M6.5 6.5L19 18.5M19 6.5L6.5 18.5"/><path transform="translate(879.2,733) scale(0.9)" d="M1 6.2H23M11.5 1L2 14.5M6.3 11V20.5M6.3 11H19.3V18.5Q19.3 20.3 17 19.8M12.6 8V23"/><path transform="translate(905,733) scale(0.9)" d="M12 0V3M2.2 8V4.2H21.8V8M9.5 6L4 12M8 8.3H17L5 17M9.5 10.5L21.5 16.5M6.3 17.3V23M6.3 17.3H18V23M6.3 22.6H18"/><path transform="translate(930.6,733) scale(0.9)" d="M2 4.2H15Q15 14 17 18.5Q18.5 21.5 23 21.3V17M19 6L22 9L18 12.2"/><path transform="translate(953.6,733) scale(0.9)" d="M1 7.3H20.5M10.3 1V10Q9.5 17 2 22.5M13.6 7.5V19.5Q13.6 22.2 16.5 22.2H23V18M20.5 10L12 20M17 1L20 4"/></g><text x="860.8" y="755.8" font-size="23.5" text-anchor="middle" fill="#ffffff" stroke="none">@</text></g>
<rect x="0.5" y="0.5" width="999" height="780" fill="none" stroke="#1c1c1c" stroke-width="1.2"/>
</svg>
</body></html>
